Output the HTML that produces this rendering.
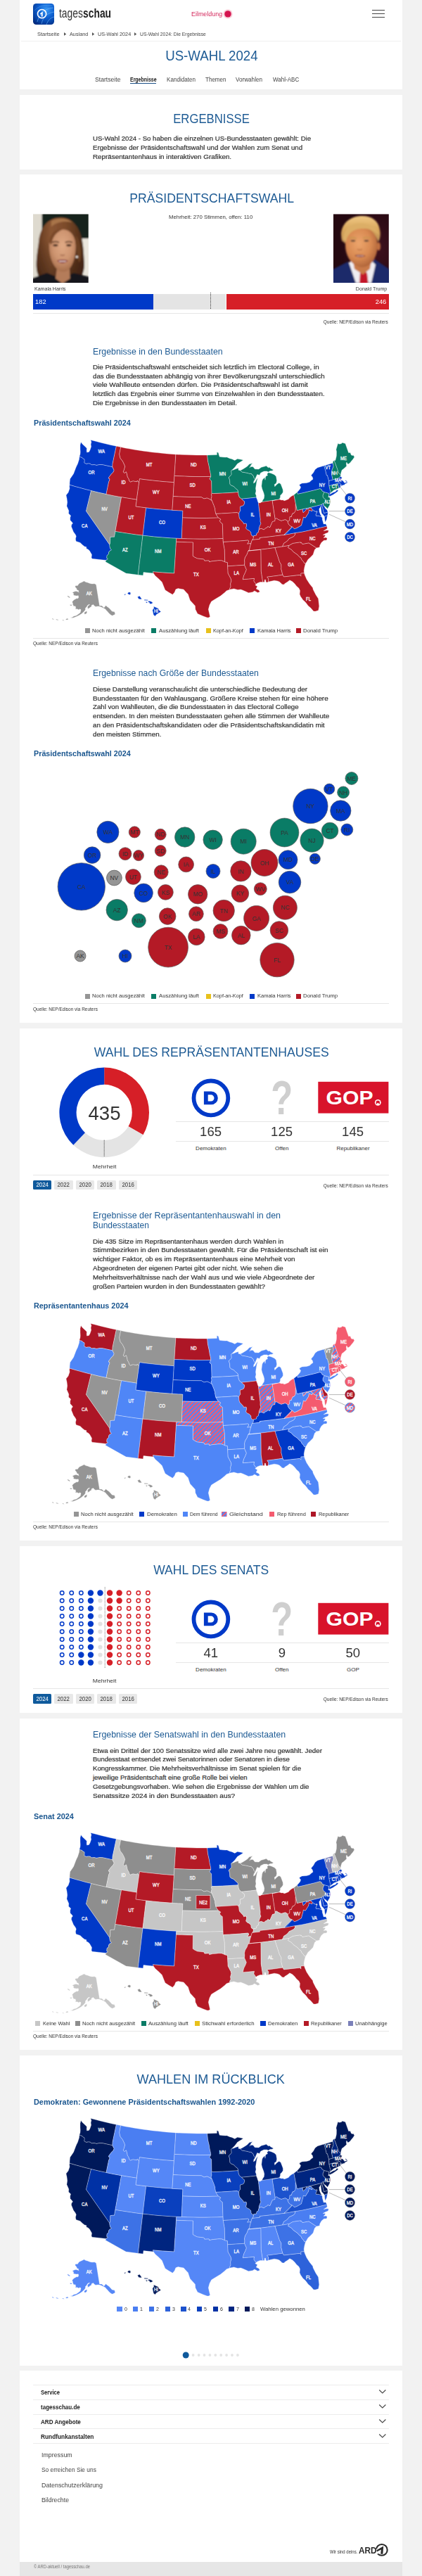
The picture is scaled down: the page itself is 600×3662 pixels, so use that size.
<!DOCTYPE html>
<html lang="de"><head><meta charset="utf-8"><title>US-Wahl 2024: Die Ergebnisse | tagesschau.de</title>
<style>
html,body{margin:0;padding:0}
body{width:600px;height:3662px;position:relative;overflow:hidden;background:#f2f2f2;font-family:"Liberation Sans",sans-serif}
header>*,section>*,footer>*,main>div{position:absolute;display:block}
span{white-space:nowrap}
svg text{font-family:"Liberation Sans",sans-serif}
</style></head><body>
<main>
<div style="left:28px;top:0px;width:544px;height:127.3px;background:#fff;"></div>
<div style="left:28px;top:134.8px;width:544px;height:106px;background:#fff;"></div>
<div style="left:28px;top:248.3px;width:544px;height:1205.7px;background:#fff;"></div>
<div style="left:28px;top:1461.6px;width:544px;height:728.7px;background:#fff;"></div>
<div style="left:28px;top:2197.6px;width:544px;height:237.9px;background:#fff;"></div>
<div style="left:28px;top:2443.4px;width:544px;height:470.6px;background:#fff;"></div>
<div style="left:28px;top:2921.6px;width:544px;height:441.1px;background:#fff;"></div>
<div style="left:28px;top:3370.3px;width:544px;height:271.8px;background:#fff;"></div>
<div style="left:28px;top:3642.1px;width:544px;height:19.9px;background:#e6e6e6;"></div>
<header>
<svg style="left:47.1px;top:4.9px" width="30" height="30" viewBox="0 0 30 30">
<defs><radialGradient id="lg" cx="62%" cy="30%" r="85%"><stop offset="0" stop-color="#3c9bf5"/><stop offset="0.45" stop-color="#0d5fd0"/><stop offset="1" stop-color="#00287a"/></radialGradient></defs>
<rect width="30" height="30" rx="4.6" fill="url(#lg)"/>
<path d="M6 26C9 14 17 7 29 6M12 29C14 19 21 13 30 12M19 30C21 24 25 20 30 19" stroke="#7cc0ff" stroke-width="1" fill="none" opacity=".55"/>
<path d="M2 10C8 3 18 1 28 3" stroke="#7cc0ff" stroke-width=".8" fill="none" opacity=".4"/>
<circle cx="12.6" cy="14.6" r="6.1" fill="none" stroke="#fff" stroke-width="1.7"/>
<path d="M9.900 14.400L13.700 11.300V18.600H11.700V14.600L10.600 15.500Z" fill="#fff"/>
</svg>
<span style="left:83.70px;top:11.00px;font-size:17.5px;line-height:17.5px;color:#333;transform:scaleX(0.7924);transform-origin:0 0;">tages</span>
<span style="left:117.62px;top:11.00px;font-size:17.5px;line-height:17.5px;color:#222;font-weight:700;transform:scaleX(0.7924);transform-origin:0 0;">schau</span>
<span style="left:271.70px;top:16.00px;font-size:9.2px;line-height:9.2px;color:#d4285c;transform:scaleX(0.9711);transform-origin:0 0;">Eilmeldung</span>
<svg style="left:316px;top:12px" width="16" height="16"><circle cx="8" cy="7.9" r="6.6" fill="#f9cdd8"/><circle cx="8" cy="7.9" r="4.7" fill="#d4144f"/></svg>
<div style="left:529px;top:13.75px;width:17.7px;height:1.5px;background:#444;"></div>
<div style="left:529px;top:18.65px;width:17.7px;height:1.5px;background:#444;"></div>
<div style="left:529px;top:23.65px;width:17.7px;height:1.5px;background:#444;"></div>
<span style="left:53.20px;top:45.00px;font-size:7.7px;line-height:7.7px;color:#444;transform:scaleX(0.9715);transform-origin:0 0;">Startseite</span>
<span style="left:98.70px;top:45.00px;font-size:7.7px;line-height:7.7px;color:#444;transform:scaleX(0.9451);transform-origin:0 0;">Ausland</span>
<span style="left:138.50px;top:45.00px;font-size:7.7px;line-height:7.7px;color:#444;transform:scaleX(0.9500);transform-origin:0 0;">US-Wahl 2024</span>
<span style="left:199.00px;top:45.00px;font-size:7.7px;line-height:7.7px;color:#444;transform:scaleX(0.8844);transform-origin:0 0;">US-Wahl 2024: Die Ergebnisse</span>
<svg style="left:90.8px;top:46.4px" width="4" height="5"><path d="M0 0L3.2 2.4L0 4.8Z" fill="#555"/></svg>
<svg style="left:130.5px;top:46.4px" width="4" height="5"><path d="M0 0L3.2 2.4L0 4.8Z" fill="#555"/></svg>
<svg style="left:191px;top:46.4px" width="4" height="5"><path d="M0 0L3.2 2.4L0 4.8Z" fill="#555"/></svg>
<div style="left:30px;top:57.6px;width:540px;height:1px;background:#f0f0f0;"></div>
<span style="left:232.67px;top:70.00px;font-size:19.3px;line-height:19.3px;color:#1e5b94;transform:scaleX(0.9679);transform-origin:50% 0;">US-WAHL 2024</span>
<span style="left:135.40px;top:109.00px;font-size:9.3px;line-height:9.3px;color:#444;transform:scaleX(0.9291);transform-origin:0 0;">Startseite</span>
<span style="left:184.80px;top:109.00px;font-size:9.3px;line-height:9.3px;color:#222;font-weight:700;transform:scaleX(0.7499);transform-origin:0 0;">Ergebnisse</span>
<div style="left:184.8px;top:117.8px;width:37.6px;height:1.7px;background:#1a4f86;"></div>
<span style="left:236.90px;top:109.00px;font-size:9.3px;line-height:9.3px;color:#444;transform:scaleX(0.8712);transform-origin:0 0;">Kandidaten</span>
<span style="left:292.00px;top:109.00px;font-size:9.3px;line-height:9.3px;color:#444;transform:scaleX(0.8646);transform-origin:0 0;">Themen</span>
<span style="left:335.00px;top:109.00px;font-size:9.3px;line-height:9.3px;color:#444;transform:scaleX(0.8749);transform-origin:0 0;">Vorwahlen</span>
<span style="left:387.60px;top:109.00px;font-size:9.3px;line-height:9.3px;color:#444;transform:scaleX(0.8638);transform-origin:0 0;">Wahl-ABC</span>
</header>
<section aria-label="Ergebnisse">
<span style="left:241.68px;top:160.00px;font-size:18px;line-height:18px;color:#1e5b94;transform:scaleX(0.9287);transform-origin:50% 0;">ERGEBNISSE</span>
<span style="left:131.90px;top:192.00px;font-size:9.5px;line-height:9.5px;color:#333;transform:scaleX(1.0118);transform-origin:0 0;-webkit-text-stroke:.22px #333;">US-Wahl 2024 - So haben die einzelnen US-Bundesstaaten gewählt: Die</span>
<span style="left:131.90px;top:205.00px;font-size:9.5px;line-height:9.5px;color:#333;transform:scaleX(1.0202);transform-origin:0 0;-webkit-text-stroke:.22px #333;">Ergebnisse der Präsidentschaftswahl und der Wahlen zum Senat und</span>
<span style="left:131.90px;top:218.00px;font-size:9.5px;line-height:9.5px;color:#333;transform:scaleX(1.0339);transform-origin:0 0;-webkit-text-stroke:.22px #333;">Repräsentantenhaus in interaktiven Grafiken.</span>
</section>
<section aria-label="Präsidentschaftswahl">
<span style="left:181.62px;top:273.00px;font-size:18px;line-height:18px;color:#1e5b94;transform:scaleX(0.9808);transform-origin:50% 0;">PRÄSIDENTSCHAFTSWAHL</span>
<span style="left:241.29px;top:305.00px;font-size:7.7px;line-height:7.7px;color:#333;transform:scaleX(1.0177);transform-origin:50% 0;">Mehrheit: 270 Stimmen, offen: 110</span>
<svg style="left:47.1px;top:303.9px" width="78.7" height="98.4" viewBox="0 0 79 98">
<defs><filter id="b1" x="-10%" y="-10%" width="120%" height="120%"><feGaussianBlur stdDeviation="0.9"/></filter>
<filter id="b1b" x="-20%" y="-20%" width="140%" height="140%"><feGaussianBlur stdDeviation="2.2"/></filter>
<clipPath id="c1"><rect width="79" height="98"/></clipPath>
<radialGradient id="hf" cx="50%" cy="38%" r="60%"><stop offset="0" stop-color="#e0aa85"/><stop offset="0.6" stop-color="#cd9470"/><stop offset="1" stop-color="#a9714f"/></radialGradient>
<linearGradient id="hh" x1="0" y1="0" x2="1" y2="0"><stop offset="0" stop-color="#5e351d"/><stop offset="0.3" stop-color="#8a5633"/><stop offset="0.6" stop-color="#7c4b2b"/><stop offset="1" stop-color="#4a2916"/></linearGradient><linearGradient id="hd" x1="0" y1="0" x2="0" y2="1"><stop offset="0.35" stop-color="#2a140a" stop-opacity="0"/><stop offset="1" stop-color="#2a140a" stop-opacity=".55"/></linearGradient></defs>
<g clip-path="url(#c1)"><rect width="79" height="98" fill="#e6e2d8"/>
<g filter="url(#b1)"><rect x="12.5" y="-3" width="70" height="38" fill="#15221f"/><rect x="-3" y="-3" width="15.5" height="104" fill="#dedacf"/>
<rect x="68" y="35" width="14" height="50" fill="#ebe7de"/>
<path d="M40 5C22 5 10 18 8 40C6 55 4 66 5 78C6 88 10 94 18 97H60C70 92 74 82 73 68C72 52 72 34 64 20C58 10 50 5 40 5Z" fill="url(#hh)"/>
<path d="M40 5C22 5 10 18 8 40C6 55 4 66 5 78C6 88 10 94 18 97H60C70 92 74 82 73 68C72 52 72 34 64 20C58 10 50 5 40 5Z" fill="url(#hd)"/><path d="M26 10C34 5 48 5 56 12C46 9 34 11 26 18Z" fill="#a8744a"/>
<path d="M-3 101V92L20 84L40 92L58 84L82 90V101Z" fill="#16161c"/>
<path d="M34 78H52L53 92L42 99L32 92Z" fill="#b47c5a"/>
<path d="M42 22C30 22 23 32 23 46C23 60 28 74 36 80C40 83 46 83 50 80C57 74 61 60 61 46C61 32 54 22 42 22Z" fill="url(#hf)"/>
<path d="M23 40C24 28 32 20 44 21C36 24 28 30 26 44Z" fill="#7a4a2b"/>
<path d="M60 36C62 46 62 58 66 70C70 62 70 44 62 30Z" fill="#6b3f24"/>
<path d="M27 40.5Q32 38 37 40.5" stroke="#4b2d1d" stroke-width="1.5" fill="none"/><path d="M46 40.5Q51 38 56 40.5" stroke="#4b2d1d" stroke-width="1.5" fill="none"/>
<ellipse cx="32" cy="44.5" rx="3.6" ry="1.5" fill="#3c2418"/><ellipse cx="51" cy="44.5" rx="3.6" ry="1.5" fill="#3c2418"/>
<path d="M39 58Q42 60 45 58" stroke="#9a6248" stroke-width="1.3" fill="none"/>
<path d="M34 66.3Q42 63.500 50 66.300Q42 74 34 66.300Z" fill="#8a3840"/><path d="M37 66.8H47V68H37Z" fill="#f0e2dc"/>
<circle cx="62.5" cy="61" r="1.6" fill="#f4f0ea"/></g></g></svg>
<svg style="left:473.8px;top:303.9px" width="78.9" height="98.4" viewBox="0 0 79 98">
<defs><filter id="b2" x="-10%" y="-10%" width="120%" height="120%"><feGaussianBlur stdDeviation="0.9"/></filter>
<clipPath id="c2"><rect width="79" height="98"/></clipPath>
<radialGradient id="tf" cx="42%" cy="40%" r="62%"><stop offset="0" stop-color="#eca56c"/><stop offset="0.6" stop-color="#d98a52"/><stop offset="1" stop-color="#b0653a"/></radialGradient>
<linearGradient id="th" x1="0" y1="0" x2="0" y2="1"><stop offset="0" stop-color="#efc884"/><stop offset="0.5" stop-color="#d9a75c"/><stop offset="1" stop-color="#b48a55"/></linearGradient>
<radialGradient id="tb" cx="80%" cy="50%" r="70%"><stop offset="0" stop-color="#3d101d"/><stop offset="1" stop-color="#240810"/></radialGradient></defs>
<g clip-path="url(#c2)"><rect width="79" height="98" fill="url(#tb)"/>
<g filter="url(#b2)">
<path d="M-3 101V80L20 68L40 76L58 64L82 80V101Z" fill="#1d2a6b"/>
<path d="M22 69L32 98H54L60 72L52 64H30Z" fill="#efedf2"/>
<path d="M38 84L43 80L48 84L50 101H37Z" fill="#c3172a"/>
<path d="M28 66H54L52 78L42 86L30 78Z" fill="#c97a48"/>
<path d="M12 38C8 22 16 6 36 3C52 1 64 8 66 22C68 30 66 36 64 40C60 28 52 22 40 22C28 22 20 28 17 42Z" fill="url(#th)"/>
<path d="M40 19C26 19 17 30 17 44C17 58 24 70 34 74C38 76 44 76 48 74C57 70 63 58 63 44C63 30 54 19 40 19Z" fill="url(#tf)"/>
<path d="M14 36C14 22 24 12 40 13C52 14 62 18 65 30C58 22 48 20 38 21C28 22 20 28 18 40Z" fill="#dcae66"/>
<ellipse cx="64.5" cy="46" rx="2.6" ry="6" fill="#c0703f"/>
<path d="M22 34.5Q28 32 33 35" stroke="#c79650" stroke-width="1.6" fill="none"/><path d="M42 34.5Q47 32 53 34.5" stroke="#c79650" stroke-width="1.6" fill="none"/>
<ellipse cx="28" cy="38" rx="3.4" ry="1.3" fill="#5d4638"/><ellipse cx="47" cy="38" rx="3.4" ry="1.3" fill="#5d4638"/>
<path d="M34 50Q37.500 52 41 50" stroke="#b56a3c" stroke-width="1.3" fill="none"/>
<path d="M30 59Q38 56.500 46 59.500Q38 64 30 59Z" fill="#83342e"/><path d="M33 59.200H43V60.200H33Z" fill="#eadcd4"/>
</g></g></svg>
<span style="left:49.40px;top:407.00px;font-size:8px;line-height:8px;color:#333;transform:scaleX(0.8800);transform-origin:0 0;">Kamala Harris</span>
<span style="left:500.15px;top:407.00px;font-size:8px;line-height:8px;color:#333;transform:scaleX(0.8836);transform-origin:100% 0;">Donald Trump</span>
<div style="left:47.1px;top:418px;width:171.1px;height:21.5px;background:#0039c8;"></div>
<div style="left:218.2px;top:418px;width:103.3px;height:21.5px;background:#e4e4e4;"></div>
<div style="left:321.5px;top:418px;width:231.2px;height:21.5px;background:#d61f27;"></div>
<div style="left:299.2px;top:415.6px;width:1px;height:24.4px;background:transparent;background-image:repeating-linear-gradient(#333 0 1px,transparent 1px 2px)"></div>
<span style="left:50.00px;top:425.00px;font-size:9.2px;line-height:9.2px;color:#fff;transform:scaleX(1.0163);transform-origin:0 0;">182</span>
<span style="left:534.15px;top:425.00px;font-size:9.2px;line-height:9.2px;color:#fff;transform:scaleX(1.0228);transform-origin:100% 0;">246</span>
<div style="left:47px;top:444.5px;width:505.5px;height:1px;background:#e6e6e6;"></div>
<span style="left:454.20px;top:455.00px;font-size:6.9px;line-height:6.9px;color:#333;transform:scaleX(0.9407);transform-origin:100% 0;">Quelle: NEP/Edison via Reuters</span>
<span style="left:132.30px;top:494.00px;font-size:12.6px;line-height:12.6px;color:#1e5b94;transform:scaleX(0.9802);transform-origin:0 0;">Ergebnisse in den Bundesstaaten</span>
<span style="left:131.90px;top:517.00px;font-size:9.5px;line-height:9.5px;color:#333;transform:scaleX(1.0323);transform-origin:0 0;-webkit-text-stroke:.22px #333;">Die Präsidentschaftswahl entscheidet sich letztlich im Electoral College, in</span>
<span style="left:131.90px;top:530.00px;font-size:9.5px;line-height:9.5px;color:#333;transform:scaleX(1.0248);transform-origin:0 0;-webkit-text-stroke:.22px #333;">das die Bundesstaaten abhängig von ihrer Bevölkerungszahl unterschiedlich</span>
<span style="left:131.90px;top:542.00px;font-size:9.5px;line-height:9.5px;color:#333;transform:scaleX(1.0526);transform-origin:0 0;-webkit-text-stroke:.22px #333;">viele Wahlleute entsenden dürfen. Die Präsidentschaftswahl ist damit</span>
<span style="left:131.90px;top:555.00px;font-size:9.5px;line-height:9.5px;color:#333;transform:scaleX(1.0215);transform-origin:0 0;-webkit-text-stroke:.22px #333;">letztlich das Ergebnis einer Summe von Einzelwahlen in den Bundesstaaten.</span>
<span style="left:131.90px;top:568.00px;font-size:9.5px;line-height:9.5px;color:#333;transform:scaleX(1.0189);transform-origin:0 0;-webkit-text-stroke:.22px #333;">Die Ergebnisse in den Bundesstaaten im Detail.</span>
<span style="left:48.30px;top:596.00px;font-size:11px;line-height:11px;color:#1a568f;font-weight:700;transform:scaleX(0.9792);transform-origin:0 0;">Präsidentschaftswahl 2024</span>
<svg style="left:0;top:600px" width="600" height="300" viewBox="0 600 600 300"><g stroke="rgba(255,255,255,.68)" stroke-width="0.5" stroke-linejoin="round"><path d="M165.4,634.3L158,632.7L150.7,631L143.3,629.2L136,627.3L128.8,625.4L129.9,628.3L129.1,631.7L129.6,635L128,639.7L126.5,642.4L123.5,643.1L123.2,640.4L123.4,637.2L121,634.8L117.4,631.5L115.1,628.5L114,632.5L114,638.3L114.2,642.5L114,645.5L112.8,649.4L116.5,650.4L118.2,652L120,653L120,655.6L119.7,657.6L120.3,658.2L122.6,659.4L125.6,658.9L128.4,659.2L130.1,660.9L134.1,660.6L137.2,661.4L141.7,660.5L145.9,660.7L159.9,663.8L160,659.6Z" fill="#0039c8"/><path d="M112.8,649.4L116.5,650.4L118.2,652L120,653L120,655.6L119.7,657.6L120.3,658.2L122.6,659.4L125.6,658.9L128.4,659.2L130.1,660.9L134.1,660.6L137.2,661.4L141.7,660.5L145.9,660.7L159.9,663.8L161,666.1L162.2,668.4L161,671.2L158.2,674.1L154.8,678.5L154.3,679.9L156,680.8L155.7,682.9L154.7,684.8L151,702.5L140.3,700.2L129.6,697.6L121.9,695.7L114.2,693.6L106.5,691.5L98.9,689.2L99.1,685.2L99.6,680.8L101.2,678.5L102.9,676L104.6,673.4L107.8,665L109,662.2L110.4,659.5L112.5,652.9Z" fill="#0039c8"/><path d="M98.9,689.2L106.5,691.5L114.2,693.6L121.9,695.7L129.6,697.6L122.5,726.5L155.8,774.2L155.9,776.2L156.8,779.9L158.5,781.7L155.7,783.5L154.6,785.1L154.4,787.6L152.1,789.7L151.8,793.4L153.4,794.5L150.9,796.4L130.8,794.3L130,792.4L130.5,788.4L127.4,783.1L125.3,781L122.9,780.1L122.7,777.5L120.3,776.9L117.4,774.7L114,771.4L108,769.4L107.4,766.1L108.3,762.2L107.1,759.7L104.4,756.1L101.4,748.6L101.8,745.7L103.5,744.1L102.3,742.2L99.8,739.5L99.7,735.9L100.6,733L97.5,730.1L97.8,726.1L94.9,719.5L95.7,714.1L95,708.4L94,703.9L97.1,700.1L99,694.4L98.7,691.5Z" fill="#0039c8"/><path d="M129.6,697.6L140.3,700.2L151,702.5L161.7,704.7L172.6,706.7L163.9,755.5L162.6,763.3L159.6,763.3L156.8,763.7L156.7,768.3L156.5,772.8L155.8,774.2L122.5,726.5Z" fill="#959595"/><path d="M165.4,634.3L171.7,635.6L169.7,645.5L171,651.3L174.3,655.5L175.3,657.4L176.9,660.8L177.7,663.2L176.7,667.1L175.3,670.9L176.8,672.4L179.5,670.7L180.2,672.8L181.4,678.3L182.8,680.2L184.1,684L185.3,685.1L189.1,683.7L194.7,684.7L195.1,683.1L197.7,685.9L194.3,710.2L183.4,708.5L172.6,706.7L161.7,704.7L151,702.5L154.7,684.8L155.7,682.9L156,680.8L154.3,679.9L154.8,678.5L158.2,674.1L161,671.2L162.2,668.4L161,666.1L159.9,663.8L160,659.6Z" fill="#b41a26"/><path d="M171.7,635.6L178.1,636.9L184.6,638.1L191.1,639.2L197.6,640.2L204.1,641.2L210.6,642.1L217.1,642.9L223.7,643.6L230.2,644.3L236.8,644.9L243.3,645.4L249.9,645.9L248,676.4L247.4,685.7L240.4,685.2L233.4,684.7L226.4,684L219.4,683.3L212.4,682.5L205.4,681.7L198.5,680.7L197.7,685.9L195.1,683.1L194.7,684.7L189.1,683.7L185.3,685.1L184.1,684L182.8,680.2L181.4,678.3L180.2,672.8L179.5,670.7L176.8,672.4L175.3,670.9L176.7,667.1L177.7,663.2L176.9,660.8L175.3,657.4L174.3,655.5L171,651.3L169.7,645.5Z" fill="#b41a26"/><path d="M197.7,685.9L198.5,680.7L205.4,681.7L212.4,682.5L219.4,683.3L226.4,684L233.4,684.7L240.4,685.2L247.4,685.7L246.2,705.5L244.9,725.3L237.5,724.8L230,724.2L222.6,723.5L215.1,722.8L207.7,721.9L200.3,721L192.9,720L194.3,710.2Z" fill="#b41a26"/><path d="M172.6,706.7L183.4,708.5L194.3,710.2L192.9,720L200.3,721L207.7,721.9L203,761.2L193.2,760L183.4,758.6L173.7,757.1L163.9,755.5Z" fill="#b41a26"/><path d="M207.7,721.9L215.1,722.8L222.6,723.5L230,724.2L237.5,724.8L244.9,725.3L252.4,725.7L259.9,726.1L259.5,735.9L258.3,765.6L250.8,765.3L242.8,764.9L234.8,764.3L226.9,763.7L218.9,763L211,762.1L203,761.2Z" fill="#0039c8"/><path d="M163.9,755.5L173.7,757.1L183.4,758.6L193.2,760L203,761.2L196.3,817.3L179.2,815.1L149.8,798.5L150.9,796.4L153.4,794.5L151.8,793.4L152.1,789.7L154.4,787.6L154.6,785.1L155.7,783.5L158.5,781.7L156.8,779.9L155.9,776.2L155.8,774.2L156.5,772.8L156.7,768.3L156.8,763.7L159.6,763.3L162.6,763.3Z" fill="#0a7c66"/><path d="M203,761.2L211,762.1L218.9,763L226.9,763.7L234.8,764.3L242.8,764.9L250.8,765.3L250.5,770.3L247.7,815L237.7,814.4L227.6,813.7L217.6,812.8L218.2,815.1L204,813.6L203.5,818.1L196.3,817.3Z" fill="#0a7c66"/><path d="M249.9,645.9L257.4,646.3L264.8,646.6L272.3,646.8L279.8,647L287.3,647L294.7,647L295.5,655L296.1,657.9L297.5,663.9L298.1,668.2L299.5,674.2L299.8,677.4L292.4,677.5L285,677.6L277.6,677.5L270.2,677.4L262.8,677.1L255.4,676.8L248,676.4Z" fill="#b41a26"/><path d="M248,676.4L255.4,676.8L262.8,677.1L270.2,677.4L277.6,677.5L285,677.6L292.4,677.5L299.8,677.4L298.9,679.3L297.9,680.9L300.7,683.8L301.1,701.6L300.4,702.7L300.7,703.6L301.1,706.1L300.1,709.1L301.4,711.7L299.5,710.6L297.3,709.2L294.4,708L290,709L286.4,706.8L278.3,706.7L270.3,706.6L262.2,706.3L254.2,706L246.2,705.5L247.4,685.7Z" fill="#b41a26"/><path d="M246.2,705.5L254.2,706L262.2,706.3L270.3,706.6L278.3,706.7L286.4,706.8L290,709L294.4,708L297.3,709.2L299.5,710.6L301.4,711.7L302.5,714.5L304.1,718.4L305.1,721.4L305.9,723.3L305.6,724.1L306.2,727.3L306.9,730.4L308.7,733.6L310.6,736.1L302,736.3L293.5,736.5L285,736.5L276.5,736.4L268,736.2L259.5,735.9L259.9,726.1L252.4,725.7L244.9,725.3Z" fill="#b41a26"/><path d="M259.5,735.9L268,736.2L276.5,736.4L285,736.5L293.5,736.5L302,736.3L310.6,736.1L313,737.5L313.9,738.2L312.3,740.4L314,742.9L316.3,744.6L317.1,765.5L308.7,765.9L300.3,766.1L291.9,766.2L283.5,766.2L275.1,766.1L266.7,765.9L258.3,765.6Z" fill="#b41a26"/><path d="M250.8,765.3L258.3,765.6L266.7,765.9L275.1,766.1L283.5,766.2L291.9,766.2L300.3,766.1L308.7,765.9L317.1,765.5L317.3,770.5L319.3,781.3L319.7,798.8L315.3,796.9L311.2,796.8L307,797.2L302.5,797.6L297.6,798.7L297.1,796.9L290.9,797.2L289.7,795L285.5,794.5L280.6,794L276.5,792L274.1,790.3L274.4,771.1L266.4,770.9L258.5,770.6L250.5,770.3Z" fill="#b41a26"/><path d="M250.5,770.3L258.5,770.6L266.4,770.9L274.4,771.1L274.1,790.3L276.5,792L280.6,794L285.5,794.5L289.7,795L290.9,797.2L297.1,796.9L297.6,798.7L302.5,797.6L307,797.2L311.2,796.8L315.3,796.9L319.7,798.8L323.4,799.6L323.7,804.8L324.2,815.1L326,818.4L328.3,822.8L328.9,825.8L327.7,829.9L328.1,833.9L326.5,837L327.1,838.1L322.2,839.7L319.3,842.4L313.7,847.1L305.5,851.9L300.6,855L298,860.1L296.3,866.2L298.7,876.8L296.5,878L294.6,878L289.1,876L280.9,872.4L277.8,866.3L277.4,861.2L270.3,853.5L268.7,848.9L267.4,844.8L264.9,842.2L261.1,837.9L253.2,836.6L249.9,837.8L248.2,842.1L245.4,845.3L239.8,842L234.8,838.8L232.5,833.1L230.3,827.4L225.5,822.7L220.7,818.6L218.2,815.1L217.6,812.8L227.6,813.7L237.7,814.4L247.7,815Z" fill="#b41a26"/><path d="M330.1,667.9L333.9,664.2L337.6,659.3L343.3,655.8L345.8,654.1L343.1,653.3L337.6,652.3L333.8,654.4L329.6,652.4L326.6,651.7L322.8,649.9L320.1,650.1L316.1,649.8L312.2,649.3L311.4,647L310.5,643.5L308.3,642.8L308.4,646.6L294.7,647L295.5,655L296.1,657.9L297.5,663.9L298.1,668.2L299.5,674.2L299.8,677.4L298.9,679.3L297.9,680.9L300.7,683.8L301.1,701.6L308.6,701.4L316.2,701.1L323.7,700.7L331.2,700.2L338.7,699.7L338.1,696.7L335.2,694.5L332.3,691.4L328.4,689.8L326.9,688.1L326.6,682.6L325.3,678.7L329.2,674.5L328.8,668.9Z" fill="#0a7c66"/><path d="M301.1,701.6L308.6,701.4L316.2,701.1L323.7,700.7L331.2,700.2L338.7,699.7L339.2,703.6L340.5,707L343.7,709.2L345.7,711.5L347.6,712.8L347.7,715.3L346.7,717.9L345.3,719L341.6,720.1L341.4,722.3L341.8,726.3L340.2,728.1L339.7,730.6L337.2,728.6L329.6,729.1L322.1,729.6L314.5,730L306.9,730.4L306.2,727.3L305.6,724.1L305.9,723.3L305.1,721.4L304.1,718.4L302.5,714.5L301.4,711.7L300.1,709.1L301.1,706.1L300.7,703.6L300.4,702.7Z" fill="#b41a26"/><path d="M306.9,730.4L314.5,730L322.1,729.6L329.6,729.1L337.2,728.6L339.7,730.6L340.1,735L340.8,737.3L343.3,740L345.9,742.8L346.8,744.7L348.4,743.9L350.4,744.6L350.7,747L349.7,750.9L351.9,753.2L354.1,754L356.9,756.7L357.1,759.7L358.2,761.5L360.5,762.5L360.2,765.3L358.7,767.5L357.8,769.1L356.9,772.6L351.5,773.2L353.7,770L352.9,768L344,768.8L335.1,769.5L326.2,770L317.3,770.5L317.1,765.5L316.3,744.6L314,742.9L312.3,740.4L313.9,738.2L313,737.5L310.6,736.1L308.7,733.6Z" fill="#b41a26"/><path d="M317.3,770.5L326.2,770L335.1,769.5L344,768.8L352.9,768L353.7,770L351.5,773.2L356.9,772.6L355.4,777.3L354.7,781.5L353,783L351.2,788.1L348.5,792.4L347.6,796.4L347.9,799.4L347.6,803.3L335.6,804.1L323.7,804.8L323.4,799.6L319.7,798.8L319.3,781.3Z" fill="#b41a26"/><path d="M323.7,804.8L335.6,804.1L347.6,803.3L350.4,809.7L349,813.4L346.7,818.1L345.3,823.7L361.6,822.3L360.9,825.9L363.2,829.2L364.2,830.3L362.8,831.7L366,833.4L364.2,837.1L367.9,838.8L369.5,841.2L366.5,842.5L361.8,839.9L359.3,841.7L353.3,842.7L349.6,841L345,839L342.3,838L338,838.5L332.6,836.9L327.1,838.1L326.5,837L328.1,833.9L327.7,829.9L328.9,825.8L328.3,822.8L326,818.4L324.2,815.1Z" fill="#b41a26"/><path d="M330.1,667.9L328.8,668.9L329.2,674.5L325.3,678.7L326.6,682.6L326.9,688.1L328.4,689.8L332.3,691.4L335.2,694.5L338.1,696.7L338.7,699.7L339.2,703.6L340.5,707L343.7,709.2L354,708.2L364.4,707L364.3,704.6L363.1,701.7L364,698.1L363.5,694.2L364.3,689.1L365.1,684L366.6,679.2L364.5,682L362.5,685.8L360.5,687L360.9,684L362.7,681.4L362.2,681.3L362,680.3L361,679L360.4,677L359.1,674.9L358.2,674.8L357.5,673.4L354.7,673.2L351.1,672.2L344.1,671L341.7,668.8L339,668.2L339.1,665.5L336.1,666.3L330.6,668.4Z" fill="#0a7c66"/><path d="M343.7,709.2L354,708.2L364.4,707L365.9,710.8L366.6,713.3L367.4,714.7L370.2,737.8L370,741.3L371,744.3L369.6,747.1L368.4,750.4L368.2,753.5L367.5,754.5L367.4,756.8L365.1,758.1L364.5,761.1L360.6,761.8L360.5,762.5L358.2,761.5L357.1,759.7L356.9,756.7L354.1,754L351.9,753.2L349.7,750.9L350.7,747L350.4,744.6L348.4,743.9L346.8,744.7L345.9,742.8L343.3,740L340.8,737.3L340.1,735L339.7,730.6L340.2,728.1L341.8,726.3L341.4,722.3L341.6,720.1L345.3,719L346.7,717.9L347.7,715.3L347.6,712.8L345.7,711.5Z" fill="#0039c8"/><path d="M367.4,714.7L369.8,715L372.4,713.4L379.8,712.4L387.1,711.3L387.2,711.9L391.1,737.3L391,740.6L387.4,741.6L385.2,746.5L384,749.4L382.3,749.6L381.1,748.3L379.8,750L377.8,750.8L375.3,752.9L371.5,751.4L369,752.1L368.2,753.5L368.4,750.4L369.6,747.1L371,744.3L370,741.3L370.2,737.8Z" fill="#b41a26"/><path d="M397.1,710L398.5,707L398.7,704L400.3,702.7L402.4,699.8L402.3,696.3L400.5,691.6L399.2,688.1L396.7,686.5L393.8,688.4L390.7,691.8L390.2,688.8L392.8,686.9L393.6,683.2L392.6,677.3L390,674.7L385.4,672.7L381.6,671.8L379.6,673.9L380.6,675.8L378.3,676.7L377.5,678.2L377,682.3L376.4,678.4L373.4,681.8L372.6,684L371.8,691.1L372.7,695L374.9,700.7L375.8,704.5L375.3,708.6L373.7,710.8L372.4,713.4L379.8,712.4L387.1,711.3L397.1,710L387.2,711.9ZM362.7,681.4L364.3,677.5L365.7,674.4L369,675.4L370.6,672.2L375.2,670L379.4,669.9L381.5,670.9L383.9,669.5L387,669.2L388.8,667.9L385,666L383,664.3L381.4,664.8L378.6,662.3L376.3,663.1L371.6,664.3L367.8,667L362.3,666.8L359.8,663.6L356.4,663.5L354.8,665.1L357.4,660.3L359.2,658.6L354.5,659.7L351.5,663L347.7,665.4L344.4,667.4L341.7,668.8L344.1,671L351.1,672.2L354.7,673.2L357.5,673.4L358.2,674.8L359.1,674.9L360.4,677L361,679L362,680.3L362.2,681.3Z" fill="#0a7c66"/><path d="M387.2,711.9L397.1,710L400.6,710.9L402.7,710.7L403.6,711.7L405.3,711.5L410.2,709.5L412,707.3L414.6,705.3L417.9,703.5L420.5,716.5L420.2,716.7L420.3,719.3L420.2,722.4L420.3,723.9L420,726.7L417.9,729.6L416,729.8L415.4,731.4L414.6,733.3L414.4,734.7L413.8,734.7L413,734.4L412,734.8L411.9,736.1L411.9,736.8L411.8,738.8L411.3,739.9L410.3,740.9L409.1,741.3L408.3,740.2L405.5,738.7L399.9,740.4L395.7,738.6L393.5,737L391.1,737.3Z" fill="#b41a26"/><path d="M360.5,762.5L360.6,761.8L364.5,761.1L365.1,758.1L367.4,756.8L367.5,754.5L368.2,753.5L369,752.1L371.5,751.4L375.3,752.9L377.8,750.8L379.8,750L381.1,748.3L382.3,749.6L384,749.4L385.2,746.5L387.4,741.6L391,740.6L391.1,737.3L393.5,737L395.7,738.6L399.9,740.4L405.5,738.7L408.3,740.2L409.1,741.3L409.5,743.3L410.7,745.6L412.7,747.7L415.5,748.8L413.4,751.6L410.7,754.6L407.7,758.2L403.8,760.4L381.6,763.2L369.2,764.5L369.4,766.3L358.7,767.5L360.2,765.3Z" fill="#b41a26"/><path d="M403.8,760.4L381.6,763.2L369.2,764.5L369.4,766.3L358.7,767.5L357.8,769.1L356.9,772.6L355.4,777.3L354.7,781.5L353,783L361.6,782.2L370.1,781.3L380.5,780L391,778.6L401.4,777L403.1,773.9L403.3,772.5L407,770.2L409.1,768.5L411.1,765.7L413.4,764.7L417.5,762.8L419.6,760.1L419.5,757.6L411.7,759Z" fill="#b41a26"/><path d="M370.1,781.3L361.6,782.2L353,783L370.1,781.3L371,782.1L371.2,802.1L371.3,812.2L373.7,827.5L369.8,827.5L366,828.9L364.2,830.3L363.2,829.2L360.9,825.9L361.6,822.3L345.3,823.7L346.7,818.1L349,813.4L350.4,809.7L347.6,803.3L347.9,799.4L347.6,796.4L348.5,792.4L351.2,788.1L353,783Z" fill="#b41a26"/><path d="M391,778.6L380.5,780L370.1,781.3L371,782.1L371.2,802.1L371.3,812.2L373.7,827.5L376.1,827.6L376.3,824.2L377.5,824.1L378,827L379.4,828.1L381.3,827.3L381.7,825.6L381.9,823L379.8,820.2L390.8,818.8L401.9,817.2L400.7,812.3L399.7,808.4L400,807.4L399.8,802.6L397.6,798.9Z" fill="#b41a26"/><path d="M401.4,777L391,778.6L397.6,798.9L399.8,802.6L400,807.4L399.7,808.4L400.7,812.3L401.9,817.2L403.5,820L426.3,817.4L428,819.2L427.9,815L432.5,814.8L432.2,810.9L433,806.2L434,802.4L434.7,800.8L432.8,800.8L431.4,798.3L429.3,796.2L427.8,792.9L425.9,791.8L423,788.6L420.8,787L416.9,784.3L414.3,781.2L409.6,778.5L411.1,775.3Z" fill="#b41a26"/><path d="M401.9,817.2L390.8,818.8L379.8,820.2L381.9,823L381.7,825.6L381.3,827.3L384,826.5L390,825.2L394.5,825.9L397.2,827L400.3,829.8L400.9,830.8L404,831.1L404.7,829.8L409.1,827L411.9,824.8L415.7,826.7L418.9,829.7L421.4,833.1L425,836.3L426.5,839.6L426,844.8L427.5,848.2L428.8,850L430.6,852.8L434,855.7L435.8,858L438.2,861.2L441.6,864.1L445.9,869L448.7,869L452.7,867.7L453.8,861.7L452.6,851L449,845.5L445.2,838.1L444.7,835.6L440.4,830.3L436,823.5L433.5,817.8L432.5,814.8L427.9,815L428,819.2L426.3,817.4L403.5,820Z" fill="#b41a26"/><path d="M411.1,775.3L416.4,772.3L427.3,770.7L427.5,771.7L428.3,771L430,773.5L439,771.8L450,779L447.5,781.2L446.2,785L445.2,788.3L441.4,792.2L437.8,795.5L436.2,798.4L434.7,800.8L432.8,800.8L431.4,798.3L429.3,796.2L427.8,792.9L425.9,791.8L423,788.6L420.8,787L416.9,784.3L414.3,781.2L409.6,778.5Z" fill="#b41a26"/><path d="M419.5,757.6L428.7,756.2L437.8,754.3L446.8,752.3L455.8,750.1L464.8,747.9L465.3,751.3L464,752.2L460.1,754.7L464.8,753.8L467.3,753.9L466.5,757.1L462.7,758.6L459,760.6L462.4,760.5L462.4,762.1L460,764.4L463.3,764.1L465.2,765.2L464.4,767.9L460.5,768.2L457,771.3L454.7,775.4L454.4,777.9L450,779L439,771.8L430,773.5L428.3,771L427.5,771.7L427.3,770.7L416.4,772.3L411.1,775.3L401.4,777L403.1,773.9L403.3,772.5L407,770.2L409.1,768.5L411.1,765.7L413.4,764.7L417.5,762.8L419.6,760.1Z" fill="#b41a26"/><path d="M415.5,748.8L413.4,751.6L410.7,754.6L407.7,758.2L403.8,760.4L415.5,748.8L418.4,751.7L421.8,750.6L424.6,749.1L428.5,746.7L428.8,745.3L429.8,741.3L430.7,738.4L431.2,735.1L434.2,736.1L434.8,735.2L436.7,732L438.6,729.2L439.2,725L443.7,726.7L444.1,724.7L445.6,724.9L446.6,726.4L448.4,727L449.5,727.4L450.4,728.6L449.7,730.7L449.1,731.7L449.5,733.3L451.9,733.2L455.3,733.9L458.2,735.8L458.3,738.8L459.2,741.6L460.1,745L463.1,744.7L464.8,747.9L455.8,750.1L446.8,752.3L437.8,754.3L428.7,756.2L419.5,757.6L411.7,759L403.8,760.4ZM461.4,734.4L461.8,738.9L462.3,742.4L464.5,738.2L465.3,733.9L465.8,732.4L462.8,733.5Z" fill="#0039c8"/><path d="M409.1,741.3L410.3,740.9L411.3,739.9L411.8,738.8L411.9,736.8L411.9,736.1L412,734.8L413,734.4L413.8,734.7L414.4,734.7L414.6,733.3L415.4,731.4L416,729.8L417.9,729.6L420,726.7L420.3,723.9L420.2,722.4L420.3,719.3L420.2,716.7L420.5,716.5L422.4,725.5L430.1,723.8L431.1,728.9L432.4,727.6L434.5,725.7L435.6,723.3L438.1,724L438.4,723L439.8,721.9L442.7,722.2L444.1,724.7L443.7,726.7L439.2,725L438.6,729.2L436.7,732L434.8,735.2L434.2,736.1L431.2,735.1L430.7,738.4L429.8,741.3L428.8,745.3L428.5,746.7L424.6,749.1L421.8,750.6L418.4,751.7L415.5,748.8L412.7,747.7L410.7,745.6L409.5,743.3Z" fill="#b41a26"/><path d="M444.1,724.7L442.7,722.2L439.8,721.9L438.4,723L438.1,724L435.6,723.3L434.5,725.7L432.4,727.6L431.1,728.9L430.1,723.8L439.3,721.8L448.4,719.6L457.5,717.3L460.6,729.5L466.2,728L466.2,729L465.8,732.4L462.8,733.5L461.4,734.4L459.8,732.2L457.3,729.8L456.8,726.9L456.2,722.9L456.3,719.3L455.6,721.1L453.8,723.5L454,725.6L454.1,727.6L456,732.2L457.7,734.4L455.3,733.9L451.9,733.2L449.5,733.3L449.1,731.7L449.7,730.7L450.4,728.6L451.2,727.4L449.9,726.6L449.5,727.4L448.4,727L446.6,726.4L445.6,724.9Z" fill="#0039c8"/><path d="M450.4,728.6L449.5,727.4L449.9,726.6L451.2,727.4Z" fill="#0039c8"/><path d="M457.5,717.3L457.9,716.4L458.7,715.7L460,715.8L459.5,718L461.4,720.6L462.9,723.2L465,724.7L466.2,728L460.6,729.5Z" fill="#0039c8"/><path d="M422.8,699.6L420.6,701.3L417.9,703.5L420.5,716.5L422.4,725.5L430.1,723.8L439.3,721.8L448.4,719.6L457.5,717.3L457.9,716.4L458.7,715.7L460,715.8L461.8,714.3L464,711.2L463.7,710.7L462,709.5L459.3,706.9L459.1,704.1L460.2,701.4L461.2,699.5L458,697.9L457.4,696L454.9,694.6L447,696.7L439.1,698.6L431.2,700.5L423.3,702.2Z" fill="#0a7c66"/><path d="M460,715.8L461.8,714.3L464,711.2L463.7,710.7L462,709.5L459.3,706.9L459.1,704.1L460.2,701.4L461.2,699.5L467.9,701.4L467.6,704.5L466.7,706.8L468.6,706.8L469.3,709.2L469.8,713.6L468.7,718.1L465.7,723.2L463,720.6L460.1,718.8Z" fill="#0a7c66"/><path d="M460.8,662L451.6,664.7L448,667.4L445.5,672L442.7,675.3L442.6,676.3L444.2,678L445,681.3L443.1,682.6L440.1,685.3L435.9,686.5L429.3,687L425.7,688.9L426.1,690.5L427.6,692.2L426.7,694.9L422.8,699.6L423.3,702.2L431.2,700.5L439.1,698.6L447,696.7L454.9,694.6L457.4,696L458,697.9L461.2,699.5L467.9,701.4L467.8,704.4L468,705.4L469,705.4L473.2,703.6L479.1,699.6L482.3,696.3L480.8,697.5L479.2,696.3L476.9,698.9L473.7,700L469.7,702.2L469.1,703L469.6,700.9L468.8,700L470.3,698.5L469.6,697.8L467.9,690.5L467.6,683.4L465.5,675.7L464.3,675.6L463,669.7Z" fill="#0039c8"/><path d="M469.6,700.9L468.8,700L470.3,698.5L469.6,697.8L467.9,690.5L479.9,687.2L481.2,691.2L481.6,694L478.2,695.5L474.4,696.9L473.2,698.3L472.6,698.7Z" fill="#0a7c66"/><path d="M481.6,694L481.2,691.2L479.9,687.2L482.9,686.3L483.6,687.3L485.1,688.9L486.3,690.6L485.4,690.9L483.5,688.9L484.4,691.7L484,692.8Z" fill="#0039c8"/><path d="M467.9,690.5L467.6,683.4L473.3,681.9L481.4,679.7L482,679.1L484.2,677L484.7,678.1L486.4,678.6L485,681.2L484.7,682.8L487.1,683.1L488.9,685.1L489.8,686.6L493.3,685.4L492.2,684.5L490.6,683.1L491.7,682.8L493.3,684.2L494,686.3L490.6,688L489.5,689.4L487.3,689.8L486.3,690.6L485.1,688.9L483.6,687.3L482.9,686.3L479.9,687.2Z" fill="#0039c8"/><path d="M473.2,658.3L460.8,662L463,669.7L464.3,675.6L465.5,675.7L467.6,683.4L473.3,681.9L472.6,679.3L471.8,675.4L471.6,672.4L472.1,668L473.6,664.5L474.1,662.2Z" fill="#0039c8"/><path d="M475.1,654.6L473.3,656.2L473.2,658.3L474.1,662.2L473.6,664.5L472.1,668L471.6,672.4L471.8,675.4L472.6,679.3L473.3,681.9L481.4,679.7L482,679.1L484.2,677L484.5,674.9L481.6,672.6L481.1,670.7L477.4,660.5Z" fill="#0a7c66"/><path d="M484.5,674.9L484.8,672.4L486.1,668.3L488.5,666.4L491.4,663.9L492.8,662.4L492.3,659.4L492.8,657.1L494.7,660.1L497.7,658L499.2,655.9L501.9,652.8L503.9,649.7L502.5,647.3L500.6,647.5L499.2,646.6L498.1,643.6L495.5,643.5L494.8,641.3L491,630.6L486.7,629.2L485.2,630.8L482.1,631.3L480.5,630.2L477.9,639.1L478.5,642L478.4,647.3L478.2,648.9L476.8,654.6L475.1,654.6L477.4,660.5L481.1,670.7L481.6,672.6Z" fill="#0a7c66"/><path d="M163.8,873L162.9,869.8L159.3,869L158.4,867.9L155,864.2L151.8,862L150.5,860.7L147.8,863.9L145.6,861.8L144.4,861L141.5,860.9L136.7,831L134.3,829.8L130.9,829.9L128.1,829.4L124.3,828L122.1,827.6L119.5,826.1L116.7,827.5L113.3,828.9L111.9,830.3L110.3,832.6L107.7,832.4L106.6,834L108.9,836.7L109.5,838.8L111.8,839.5L111.4,841.1L112.4,842.1L109.1,840.5L106.8,840.6L102.8,842.3L104.9,844L104.2,845.6L105.6,846.6L108.9,847.1L111.3,846.8L111.6,848L111.6,849.8L110.4,850.9L109.3,850.6L107.4,851.6L105.2,852.8L103.5,854.4L102.6,855.5L103.5,857.9L103.5,859.4L105,861.9L107.1,861.7L107.8,864.4L107,866.1L109.8,865.7L112.2,867.1L113.2,865.8L115.1,866.8L114.2,870.7L112.1,872.5L108.6,874.9L104.7,876L102.8,877.5L99.8,878L103.4,878.4L106.3,877.6L109.3,876.3L112.4,874.8L116,872.5L118.8,870.1L120.6,868.1L121.6,866.3L121.3,864.7L123.2,862.7L124.5,860.6L126.6,859.3L127.3,859.1L127.1,859.9L125.1,861.2L124.3,863.6L125.1,864.6L124.1,865.7L126.4,865.1L128.2,863.3L129.6,863.1L130.3,860.4L132.7,859.5L134,861.2L136,862.4L138.4,862.1L140.9,862.1L144,863.1L147.1,864.4L149.9,866.1L151.4,868.1L153,869.4L154.6,871.6L157.3,873.9L159.5,875.3L162.4,874.1ZM123.7,870.9L123.4,868.6L121.7,869.6L119.6,870.9L120.4,873.2L122.1,872.8ZM97,879.4L97.2,880.4L95,881.3L93.1,880.8L95.1,879.3ZM90.9,881.6L91.3,882.3L88.7,882L88.8,881.1ZM82.8,881.1L82.9,882L79.7,880.9L79.8,879.9ZM76.4,880L76.5,880.9L74,879.9L74.1,879.1ZM96.4,846.7L100,849.2L98.5,849.8L95.9,847.9ZM99.6,859.4L102.3,859.8L102.2,861L99.8,861Z" fill="#959595"/><path d="M218.5,862L225.1,865L226.2,867.4L228.9,869.6L222.2,873.7L220.5,875.9L218.2,873.9L216.8,867.3L218.8,864.5ZM210.6,855.2L211.6,854.2L214.9,855.1L217.5,857.1L215.4,858.3L213,858.6L212.5,856.6L210.8,856ZM204.9,853.5L205.4,852.3L210.4,852.8L210.2,853.8ZM207.3,855.5L209.2,855.5L209.5,856.8L208,857.3ZM195.5,848.6L198.5,847.2L201.5,851.4L200.1,851.9L197.2,851.4ZM181.3,843.5L183,841.8L185.4,842.1L185.8,844.5L184.4,845.5L182,844.6ZM176.8,845.3L178.2,843.9L178.7,845.1L177.2,846.3Z" fill="#0039c8"/></g><path d="M492.3,703.2L482.6,690.9" stroke="#999" stroke-width=".7" fill="none"/><circle cx="497.5" cy="708.2" r="7" fill="#0039c8" stroke="rgba(120,120,120,.6)" stroke-width=".6"/><path d="M490.9,726.6L467.9,726.6" stroke="#999" stroke-width=".7" fill="none"/><circle cx="497.5" cy="726.6" r="7" fill="#0039c8" stroke="rgba(120,120,120,.6)" stroke-width=".6"/><path d="M491.4,741.8L467.9,731.1" stroke="#999" stroke-width=".7" fill="none"/><circle cx="497.5" cy="745.1" r="7" fill="#0039c8" stroke="rgba(120,120,120,.6)" stroke-width=".6"/><circle cx="497.5" cy="763.4" r="7" fill="#0039c8" stroke="rgba(120,120,120,.6)" stroke-width=".6"/><g font-size="7" text-anchor="middle" fill="#fff" stroke="#fff" stroke-width=".28"><text x="144.2" y="644.3" textLength="9.47397" lengthAdjust="spacingAndGlyphs">WA</text><text x="130.1" y="674.2" textLength="9.03" lengthAdjust="spacingAndGlyphs">OR</text><text x="120.3" y="749.7" textLength="8.3631" lengthAdjust="spacingAndGlyphs">CA</text><text x="148.7" y="726.2" textLength="8.3631" lengthAdjust="spacingAndGlyphs">NV</text><text x="175.6" y="687.7" textLength="6.02" lengthAdjust="spacingAndGlyphs">ID</text><text x="212" y="663" textLength="8.69232" lengthAdjust="spacingAndGlyphs">MT</text><text x="221.9" y="702.1" textLength="9.69737" lengthAdjust="spacingAndGlyphs">WY</text><text x="186.4" y="737.6" textLength="8.02494" lengthAdjust="spacingAndGlyphs">UT</text><text x="230.5" y="744.7" textLength="9.03" lengthAdjust="spacingAndGlyphs">CO</text><text x="177.9" y="783.8" textLength="7.6929" lengthAdjust="spacingAndGlyphs">AZ</text><text x="224.8" y="786" textLength="9.36251" lengthAdjust="spacingAndGlyphs">NM</text><text x="275.3" y="663" textLength="8.69514" lengthAdjust="spacingAndGlyphs">ND</text><text x="273.8" y="692.1" textLength="8.3631" lengthAdjust="spacingAndGlyphs">SD</text><text x="267.4" y="722" textLength="8.3631" lengthAdjust="spacingAndGlyphs">NE</text><text x="288.8" y="751.8" textLength="8.03106" lengthAdjust="spacingAndGlyphs">KS</text><text x="295.2" y="783.8" textLength="8.69796" lengthAdjust="spacingAndGlyphs">OK</text><text x="316.4" y="676.1" textLength="9.36251" lengthAdjust="spacingAndGlyphs">MN</text><text x="325.3" y="715.9" textLength="5.68796" lengthAdjust="spacingAndGlyphs">IA</text><text x="348.3" y="690" textLength="7.35428" lengthAdjust="spacingAndGlyphs">WI</text><text x="388.9" y="703.5" textLength="6.68737" lengthAdjust="spacingAndGlyphs">MI</text><text x="359" y="734.1" textLength="5.02059" lengthAdjust="spacingAndGlyphs">IL</text><text x="381.8" y="734.1" textLength="6.02" lengthAdjust="spacingAndGlyphs">IN</text><text x="405.2" y="728.4" textLength="9.03" lengthAdjust="spacingAndGlyphs">OH</text><text x="335.5" y="754" textLength="9.69737" lengthAdjust="spacingAndGlyphs">MO</text><text x="396" y="756.8" textLength="8.03106" lengthAdjust="spacingAndGlyphs">KY</text><text x="422.3" y="742.6" textLength="9.69737" lengthAdjust="spacingAndGlyphs">WV</text><text x="447.1" y="748.7" textLength="7.58426" lengthAdjust="spacingAndGlyphs">VA</text><text x="444.6" y="715.1" textLength="7.58426" lengthAdjust="spacingAndGlyphs">PA</text><text x="458" y="691.7" textLength="8.3631" lengthAdjust="spacingAndGlyphs">NY</text><text x="465.5" y="715.6" textLength="7.35757" lengthAdjust="spacingAndGlyphs">NJ</text><text x="466.3" y="666.5" textLength="7.6929" lengthAdjust="spacingAndGlyphs">VT</text><text x="475.5" y="674.5" textLength="8.69514" lengthAdjust="spacingAndGlyphs">NH</text><text x="488.4" y="653.7" textLength="9.03047" lengthAdjust="spacingAndGlyphs">ME</text><text x="480.5" y="684.7" textLength="9.03047" lengthAdjust="spacingAndGlyphs">MA</text><text x="475.8" y="694.3" textLength="8.02494" lengthAdjust="spacingAndGlyphs">CT</text><text x="385.3" y="775.3" textLength="8.02494" lengthAdjust="spacingAndGlyphs">TN</text><text x="444.3" y="768.4" textLength="8.69514" lengthAdjust="spacingAndGlyphs">NC</text><text x="335.5" y="787.4" textLength="8.3631" lengthAdjust="spacingAndGlyphs">AR</text><text x="432.2" y="788.8" textLength="8.3631" lengthAdjust="spacingAndGlyphs">SC</text><text x="359.7" y="805.2" textLength="9.03047" lengthAdjust="spacingAndGlyphs">MS</text><text x="384.6" y="805.2" textLength="7.36368" lengthAdjust="spacingAndGlyphs">AL</text><text x="413.7" y="805.2" textLength="8.69796" lengthAdjust="spacingAndGlyphs">GA</text><text x="336.3" y="816.5" textLength="7.36368" lengthAdjust="spacingAndGlyphs">LA</text><text x="438.6" y="853.5" textLength="7.02553" lengthAdjust="spacingAndGlyphs">FL</text><text x="278.8" y="818.7" textLength="7.6929" lengthAdjust="spacingAndGlyphs">TX</text><text x="126.7" y="845.7" textLength="8.03106" lengthAdjust="spacingAndGlyphs">AK</text><text x="222" y="870.5" textLength="6.02" lengthAdjust="spacingAndGlyphs">HI</text><text x="497.5" y="710.7" textLength="6.02" lengthAdjust="spacingAndGlyphs">RI</text><text x="497.5" y="729.1" textLength="8.3631" lengthAdjust="spacingAndGlyphs">DE</text><text x="497.5" y="747.6" textLength="9.36251" lengthAdjust="spacingAndGlyphs">MD</text><text x="497.5" y="765.9" textLength="8.69514" lengthAdjust="spacingAndGlyphs">DC</text></g></svg>
<div style="left:120.5px;top:893px;width:7.2px;height:7.2px;background:#959595;"></div>
<span style="left:131.00px;top:893.00px;font-size:8px;line-height:8px;color:#333;transform:scaleX(0.9515);transform-origin:0 0;">Noch nicht ausgezählt</span>
<div style="left:215.2px;top:893px;width:7.2px;height:7.2px;background:#0a7c66;"></div>
<span style="left:225.70px;top:893.00px;font-size:8px;line-height:8px;color:#333;transform:scaleX(0.9619);transform-origin:0 0;">Auszählung läuft</span>
<div style="left:292.5px;top:893px;width:7.2px;height:7.2px;background:#e8c11c;"></div>
<span style="left:303.00px;top:893.00px;font-size:8px;line-height:8px;color:#333;transform:scaleX(0.9058);transform-origin:0 0;">Kopf-an-Kopf</span>
<div style="left:355.2px;top:893px;width:7.2px;height:7.2px;background:#0039c8;"></div>
<span style="left:365.70px;top:893.00px;font-size:8px;line-height:8px;color:#333;transform:scaleX(0.9392);transform-origin:0 0;">Kamala Harris</span>
<div style="left:420.8px;top:893px;width:7.2px;height:7.2px;background:#b41a26;"></div>
<span style="left:431.30px;top:893.00px;font-size:8px;line-height:8px;color:#333;transform:scaleX(0.9772);transform-origin:0 0;">Donald Trump</span>
<div style="left:47px;top:906.6px;width:505.5px;height:1px;background:#e6e6e6;"></div>
<span style="left:47.30px;top:912.00px;font-size:6.9px;line-height:6.9px;color:#333;transform:scaleX(0.9407);transform-origin:0 0;">Quelle: NEP/Edison via Reuters</span>
<span style="left:132.30px;top:951.00px;font-size:12.6px;line-height:12.6px;color:#1e5b94;transform:scaleX(0.9738);transform-origin:0 0;">Ergebnisse nach Größe der Bundesstaaten</span>
<span style="left:131.90px;top:975.00px;font-size:9.5px;line-height:9.5px;color:#333;transform:scaleX(1.0335);transform-origin:0 0;-webkit-text-stroke:.22px #333;">Diese Darstellung veranschaulicht die unterschiedliche Bedeutung der</span>
<span style="left:131.90px;top:988.00px;font-size:9.5px;line-height:9.5px;color:#333;transform:scaleX(1.0330);transform-origin:0 0;-webkit-text-stroke:.22px #333;">Bundesstaaten für den Wahlausgang. Größere Kreise stehen für eine höhere</span>
<span style="left:131.90px;top:1000.00px;font-size:9.5px;line-height:9.5px;color:#333;transform:scaleX(1.0160);transform-origin:0 0;-webkit-text-stroke:.22px #333;">Zahl von Wahlleuten, die die Bundesstaaten in das Electoral College</span>
<span style="left:131.90px;top:1013.00px;font-size:9.5px;line-height:9.5px;color:#333;transform:scaleX(1.0326);transform-origin:0 0;-webkit-text-stroke:.22px #333;">entsenden. In den meisten Bundesstaaten gehen alle Stimmen der Wahlleute</span>
<span style="left:131.90px;top:1026.00px;font-size:9.5px;line-height:9.5px;color:#333;transform:scaleX(1.0402);transform-origin:0 0;-webkit-text-stroke:.22px #333;">an den Präsidentschaftskandidaten oder die Präsidentschaftskandidatin mit</span>
<span style="left:131.90px;top:1039.00px;font-size:9.5px;line-height:9.5px;color:#333;transform:scaleX(1.0300);transform-origin:0 0;-webkit-text-stroke:.22px #333;">den meisten Stimmen.</span>
<span style="left:48.30px;top:1066.00px;font-size:11px;line-height:11px;color:#1a568f;font-weight:700;transform:scaleX(0.9792);transform-origin:0 0;">Präsidentschaftswahl 2024</span>
<svg style="left:0;top:1090px" width="600" height="310" viewBox="0 1090 600 310"><g stroke="#5a5a5a" stroke-width=".7"><circle cx="153.4" cy="1182.9" r="15.6" fill="#0039c8"/><circle cx="131.1" cy="1215.6" r="11.8" fill="#0039c8"/><circle cx="191.3" cy="1182.9" r="8.1" fill="#b41a26"/><circle cx="178" cy="1213.7" r="9" fill="#b41a26"/><circle cx="197" cy="1216.1" r="7.6" fill="#b41a26"/><circle cx="228.2" cy="1186.3" r="8" fill="#b41a26"/><circle cx="228.2" cy="1209.5" r="8" fill="#b41a26"/><circle cx="162.4" cy="1248" r="10.9" fill="#959595"/><circle cx="189.4" cy="1246.5" r="10.9" fill="#b41a26"/><circle cx="229.2" cy="1239.8" r="10" fill="#b41a26"/><circle cx="115.8" cy="1260.4" r="33.7" fill="#0039c8"/><circle cx="262.7" cy="1190" r="14.2" fill="#0a7c66"/><circle cx="302.6" cy="1193.8" r="13.7" fill="#0a7c66"/><circle cx="346.2" cy="1196.2" r="18" fill="#0a7c66"/><circle cx="404.5" cy="1183.5" r="20.4" fill="#0a7c66"/><circle cx="264.6" cy="1228.9" r="10.9" fill="#b41a26"/><circle cx="303" cy="1238.4" r="10" fill="#0039c8"/><circle cx="342.4" cy="1238.4" r="14.7" fill="#b41a26"/><circle cx="376" cy="1226.5" r="19" fill="#b41a26"/><circle cx="409.5" cy="1222.2" r="13.5" fill="#0039c8"/><circle cx="412" cy="1254.1" r="15.8" fill="#0039c8"/><circle cx="499.9" cy="1106.5" r="9" fill="#0a7c66"/><circle cx="468.2" cy="1121.7" r="7.6" fill="#0039c8"/><circle cx="488.1" cy="1126.4" r="8.5" fill="#0a7c66"/><circle cx="441.4" cy="1146" r="24.7" fill="#0039c8"/><circle cx="484.3" cy="1152.5" r="14.7" fill="#0039c8"/><circle cx="469.1" cy="1181" r="11.8" fill="#0a7c66"/><circle cx="493.3" cy="1179.5" r="8.5" fill="#0039c8"/><circle cx="443.5" cy="1194.7" r="16.6" fill="#0a7c66"/><circle cx="447.8" cy="1220.8" r="7.6" fill="#0039c8"/><circle cx="204.1" cy="1269.4" r="13.3" fill="#0039c8"/><circle cx="235.4" cy="1268.4" r="10.9" fill="#b41a26"/><circle cx="166.2" cy="1293.6" r="15.2" fill="#0a7c66"/><circle cx="197.4" cy="1308.7" r="10" fill="#0a7c66"/><circle cx="238.2" cy="1302.6" r="11.8" fill="#b41a26"/><circle cx="239.1" cy="1346.6" r="28.4" fill="#b41a26"/><circle cx="114" cy="1359" r="8" fill="#959595"/><circle cx="178" cy="1359" r="9" fill="#0039c8"/><circle cx="281.2" cy="1271.3" r="13.7" fill="#b41a26"/><circle cx="278.9" cy="1299.2" r="10.4" fill="#b41a26"/><circle cx="279.3" cy="1331.9" r="11.8" fill="#b41a26"/><circle cx="318.2" cy="1294.5" r="15.2" fill="#b41a26"/><circle cx="313.5" cy="1323.9" r="10.4" fill="#b41a26"/><circle cx="341.4" cy="1270.3" r="12.3" fill="#b41a26"/><circle cx="342.8" cy="1329.6" r="13.3" fill="#b41a26"/><circle cx="370.3" cy="1263.7" r="9" fill="#b41a26"/><circle cx="364.6" cy="1305.4" r="18" fill="#b41a26"/><circle cx="405.4" cy="1290.2" r="17" fill="#b41a26"/><circle cx="396.9" cy="1322.5" r="12.8" fill="#b41a26"/><circle cx="394" cy="1364.6" r="24.2" fill="#b41a26"/></g><g font-size="8.6" text-anchor="middle" fill="#333"><text x="153.4" y="1186" textLength="13.2636" lengthAdjust="spacingAndGlyphs">WA</text><text x="131.1" y="1218.7" textLength="12.642" lengthAdjust="spacingAndGlyphs">OR</text><text x="191.3" y="1186" textLength="12.1692" lengthAdjust="spacingAndGlyphs">MT</text><text x="178" y="1216.8" textLength="8.428" lengthAdjust="spacingAndGlyphs">ID</text><text x="197" y="1219.2" textLength="13.5763" lengthAdjust="spacingAndGlyphs">WY</text><text x="228.2" y="1189.4" textLength="12.1732" lengthAdjust="spacingAndGlyphs">ND</text><text x="228.2" y="1212.6" textLength="11.7083" lengthAdjust="spacingAndGlyphs">SD</text><text x="162.4" y="1251.1" textLength="11.7083" lengthAdjust="spacingAndGlyphs">NV</text><text x="189.4" y="1249.6" textLength="11.2349" lengthAdjust="spacingAndGlyphs">UT</text><text x="229.2" y="1242.9" textLength="11.7083" lengthAdjust="spacingAndGlyphs">NE</text><text x="115.8" y="1263.5" textLength="11.7083" lengthAdjust="spacingAndGlyphs">CA</text><text x="262.7" y="1193.1" textLength="13.1075" lengthAdjust="spacingAndGlyphs">MN</text><text x="302.6" y="1196.9" textLength="10.296" lengthAdjust="spacingAndGlyphs">WI</text><text x="346.2" y="1199.3" textLength="9.36232" lengthAdjust="spacingAndGlyphs">MI</text><text x="404.5" y="1186.6" textLength="10.618" lengthAdjust="spacingAndGlyphs">PA</text><text x="264.6" y="1232" textLength="7.96314" lengthAdjust="spacingAndGlyphs">IA</text><text x="303" y="1241.5" textLength="7.02882" lengthAdjust="spacingAndGlyphs">IL</text><text x="342.4" y="1241.5" textLength="8.428" lengthAdjust="spacingAndGlyphs">IN</text><text x="376" y="1229.6" textLength="12.642" lengthAdjust="spacingAndGlyphs">OH</text><text x="409.5" y="1225.3" textLength="13.1075" lengthAdjust="spacingAndGlyphs">MD</text><text x="412" y="1257.2" textLength="10.618" lengthAdjust="spacingAndGlyphs">VA</text><text x="499.9" y="1109.6" textLength="12.6427" lengthAdjust="spacingAndGlyphs">ME</text><text x="468.2" y="1124.8" textLength="10.7701" lengthAdjust="spacingAndGlyphs">VT</text><text x="488.1" y="1129.5" textLength="12.1732" lengthAdjust="spacingAndGlyphs">NH</text><text x="441.4" y="1149.1" textLength="11.7083" lengthAdjust="spacingAndGlyphs">NY</text><text x="484.3" y="1155.6" textLength="12.6427" lengthAdjust="spacingAndGlyphs">MA</text><text x="469.1" y="1184.1" textLength="11.2349" lengthAdjust="spacingAndGlyphs">CT</text><text x="493.3" y="1182.6" textLength="8.428" lengthAdjust="spacingAndGlyphs">RI</text><text x="443.5" y="1197.8" textLength="10.3006" lengthAdjust="spacingAndGlyphs">NJ</text><text x="447.8" y="1223.9" textLength="11.7083" lengthAdjust="spacingAndGlyphs">DE</text><text x="204.1" y="1272.5" textLength="12.642" lengthAdjust="spacingAndGlyphs">CO</text><text x="235.4" y="1271.5" textLength="11.2435" lengthAdjust="spacingAndGlyphs">KS</text><text x="166.2" y="1296.7" textLength="10.7701" lengthAdjust="spacingAndGlyphs">AZ</text><text x="197.4" y="1311.8" textLength="13.1075" lengthAdjust="spacingAndGlyphs">NM</text><text x="238.2" y="1305.7" textLength="12.1771" lengthAdjust="spacingAndGlyphs">OK</text><text x="239.1" y="1349.7" textLength="10.7701" lengthAdjust="spacingAndGlyphs">TX</text><text x="114" y="1362.1" textLength="11.2435" lengthAdjust="spacingAndGlyphs">AK</text><text x="178" y="1362.1" textLength="8.428" lengthAdjust="spacingAndGlyphs">HI</text><text x="281.2" y="1274.4" textLength="13.5763" lengthAdjust="spacingAndGlyphs">MO</text><text x="278.9" y="1302.3" textLength="11.7083" lengthAdjust="spacingAndGlyphs">AR</text><text x="279.3" y="1335" textLength="10.3092" lengthAdjust="spacingAndGlyphs">LA</text><text x="318.2" y="1297.6" textLength="11.2349" lengthAdjust="spacingAndGlyphs">TN</text><text x="313.5" y="1327" textLength="12.6427" lengthAdjust="spacingAndGlyphs">MS</text><text x="341.4" y="1273.4" textLength="11.2435" lengthAdjust="spacingAndGlyphs">KY</text><text x="342.8" y="1332.7" textLength="10.3092" lengthAdjust="spacingAndGlyphs">AL</text><text x="370.3" y="1266.8" textLength="13.5763" lengthAdjust="spacingAndGlyphs">WV</text><text x="364.6" y="1308.5" textLength="12.1771" lengthAdjust="spacingAndGlyphs">GA</text><text x="405.4" y="1293.3" textLength="12.1732" lengthAdjust="spacingAndGlyphs">NC</text><text x="396.9" y="1325.6" textLength="11.7083" lengthAdjust="spacingAndGlyphs">SC</text><text x="394" y="1367.7" textLength="9.83574" lengthAdjust="spacingAndGlyphs">FL</text></g></svg>
<div style="left:120.5px;top:1412.6px;width:7.2px;height:7.2px;background:#959595;"></div>
<span style="left:131.00px;top:1412.00px;font-size:8px;line-height:8px;color:#333;transform:scaleX(0.9515);transform-origin:0 0;">Noch nicht ausgezählt</span>
<div style="left:215.2px;top:1412.6px;width:7.2px;height:7.2px;background:#0a7c66;"></div>
<span style="left:225.70px;top:1412.00px;font-size:8px;line-height:8px;color:#333;transform:scaleX(0.9619);transform-origin:0 0;">Auszählung läuft</span>
<div style="left:292.5px;top:1412.6px;width:7.2px;height:7.2px;background:#e8c11c;"></div>
<span style="left:303.00px;top:1412.00px;font-size:8px;line-height:8px;color:#333;transform:scaleX(0.9058);transform-origin:0 0;">Kopf-an-Kopf</span>
<div style="left:355.2px;top:1412.6px;width:7.2px;height:7.2px;background:#0039c8;"></div>
<span style="left:365.70px;top:1412.00px;font-size:8px;line-height:8px;color:#333;transform:scaleX(0.9392);transform-origin:0 0;">Kamala Harris</span>
<div style="left:420.8px;top:1412.6px;width:7.2px;height:7.2px;background:#b41a26;"></div>
<span style="left:431.30px;top:1412.00px;font-size:8px;line-height:8px;color:#333;transform:scaleX(0.9772);transform-origin:0 0;">Donald Trump</span>
<div style="left:47px;top:1426.1px;width:505.5px;height:1px;background:#e6e6e6;"></div>
<span style="left:47.30px;top:1432.00px;font-size:6.9px;line-height:6.9px;color:#333;transform:scaleX(0.9407);transform-origin:0 0;">Quelle: NEP/Edison via Reuters</span>
</section>
<section aria-label="Wahl des Repräsentantenhauses">
<span style="left:129.80px;top:1487.00px;font-size:18px;line-height:18px;color:#1e5b94;transform:scaleX(0.9783);transform-origin:50% 0;">WAHL DES REPRÄSENTANTENHAUSES</span>
<svg style="left:80px;top:1512px" width="140" height="140" viewBox="80 1512 140 140"><path d="M148.20,1517.60A63.8,63.8 0 0 1 203.45,1613.30L182.49,1601.20A39.6,39.6 0 0 0 148.20,1541.80Z" fill="#d61f27"/><path d="M203.45,1613.30A63.8,63.8 0 0 1 104.32,1627.72L120.97,1610.15A39.6,39.6 0 0 0 182.49,1601.20Z" fill="#e4e4e4"/><path d="M104.32,1627.72A63.8,63.8 0 0 1 148.20,1517.60L148.20,1541.80A39.6,39.6 0 0 0 120.97,1610.15Z" fill="#0039c8"/><path d="M148.2,1620.7V1644.6" stroke="#333" stroke-width="1" stroke-dasharray="1 1"/></svg>
<span style="left:125.68px;top:1570.00px;font-size:27px;line-height:27px;color:#333;transform:scaleX(1.0211);transform-origin:50% 0;">435</span>
<span style="left:132.64px;top:1655.00px;font-size:8px;line-height:8px;color:#333;transform:scaleX(1.0763);transform-origin:50% 0;">Mehrheit</span>
<svg style="left:240px;top:1525px" width="330" height="70" viewBox="240 1525 330 70"><circle cx="299.9" cy="1560.9" r="24.4" fill="#fff" stroke="#0039c8" stroke-width="5.8"/><path d="M289.9,1551.6h10.6a9.3,9.3 0 0 1 0,18.6h-10.6Zm5.8,4.7v9.2h4.2a4.6,4.6 0 0 0 0,-9.2Z" fill="#0039c8" fill-rule="evenodd"/><text x="400.8" y="1584.3" font-size="68" font-weight="700" fill="#cfcfcf" text-anchor="middle" textLength="31" lengthAdjust="spacingAndGlyphs">?</text><rect x="452.3" y="1537.8" width="100.1" height="44.8" fill="#d8132b"/><text x="463.5" y="1570.2" font-size="27.5" font-weight="700" fill="#fff" textLength="67" lengthAdjust="spacingAndGlyphs">GOP</text><circle cx="537.3" cy="1567.3" r="4.4" fill="#fff"/><path d="M534.6,1569.6v-2.6a2.7,2.5 0 0 1 5.4,0v2.6h-1.3v-1.4h-2.8v1.4Z" fill="#d8132b"/></svg>
<div style="left:249.5px;top:1593.9px;width:303px;height:1px;background:#e6e6e6;"></div>
<div style="left:249.5px;top:1621.9px;width:303px;height:1px;background:#e6e6e6;"></div>
<span style="left:285.30px;top:1601.00px;font-size:17.5px;line-height:17.5px;color:#333;transform:scaleX(1.0600);transform-origin:50% 0;">165</span>
<span style="left:278.11px;top:1629.00px;font-size:8px;line-height:8px;color:#333;">Demokraten</span>
<span style="left:386.20px;top:1601.00px;font-size:17.5px;line-height:17.5px;color:#333;transform:scaleX(1.0600);transform-origin:50% 0;">125</span>
<span style="left:391.09px;top:1629.00px;font-size:8px;line-height:8px;color:#333;">Offen</span>
<span style="left:487.40px;top:1601.00px;font-size:17.5px;line-height:17.5px;color:#333;transform:scaleX(1.0600);transform-origin:50% 0;">145</span>
<span style="left:478.43px;top:1629.00px;font-size:8px;line-height:8px;color:#333;">Republikaner</span>
<div style="left:47px;top:1669.8px;width:505.5px;height:1px;background:#e6e6e6;"></div>
<div style="left:46.9px;top:1677.8px;width:26.4px;height:13.3px;background:#0f5a9c;border-radius:1.5px"></div>
<span style="left:50.87px;top:1680.00px;font-size:8.3px;line-height:8.3px;color:#fff;transform:scaleX(0.9477);transform-origin:50% 0;">2024</span>
<div style="left:77.35px;top:1677.8px;width:26.4px;height:13.3px;background:#e8e8e8;border-radius:1.5px"></div>
<span style="left:81.32px;top:1680.00px;font-size:8.3px;line-height:8.3px;color:#333;transform:scaleX(0.9477);transform-origin:50% 0;">2022</span>
<div style="left:107.8px;top:1677.8px;width:26.4px;height:13.3px;background:#e8e8e8;border-radius:1.5px"></div>
<span style="left:111.77px;top:1680.00px;font-size:8.3px;line-height:8.3px;color:#333;transform:scaleX(0.9477);transform-origin:50% 0;">2020</span>
<div style="left:138.25px;top:1677.8px;width:26.4px;height:13.3px;background:#e8e8e8;border-radius:1.5px"></div>
<span style="left:142.22px;top:1680.00px;font-size:8.3px;line-height:8.3px;color:#333;transform:scaleX(0.9477);transform-origin:50% 0;">2018</span>
<div style="left:168.7px;top:1677.8px;width:26.4px;height:13.3px;background:#e8e8e8;border-radius:1.5px"></div>
<span style="left:172.67px;top:1680.00px;font-size:8.3px;line-height:8.3px;color:#333;transform:scaleX(0.9477);transform-origin:50% 0;">2016</span>
<span style="left:454.20px;top:1683.00px;font-size:6.9px;line-height:6.9px;color:#333;transform:scaleX(0.9407);transform-origin:100% 0;">Quelle: NEP/Edison via Reuters</span>
<span style="left:132.30px;top:1722.00px;font-size:12.6px;line-height:12.6px;color:#1e5b94;transform:scaleX(0.9934);transform-origin:0 0;">Ergebnisse der Repräsentantenhauswahl in den</span>
<span style="left:132.30px;top:1736.00px;font-size:12.6px;line-height:12.6px;color:#1e5b94;transform:scaleX(0.9500);transform-origin:0 0;">Bundesstaaten</span>
<span style="left:131.90px;top:1760.00px;font-size:9.5px;line-height:9.5px;color:#333;transform:scaleX(1.0240);transform-origin:0 0;-webkit-text-stroke:.22px #333;">Die 435 Sitze im Repräsentantenhaus werden durch Wahlen in</span>
<span style="left:131.90px;top:1772.00px;font-size:9.5px;line-height:9.5px;color:#333;transform:scaleX(1.0347);transform-origin:0 0;-webkit-text-stroke:.22px #333;">Stimmbezirken in den Bundesstaaten gewählt. Für die Präsidentschaft ist ein</span>
<span style="left:131.90px;top:1785.00px;font-size:9.5px;line-height:9.5px;color:#333;transform:scaleX(1.0390);transform-origin:0 0;-webkit-text-stroke:.22px #333;">wichtiger Faktor, ob es im Repräsentantenhaus eine Mehrheit von</span>
<span style="left:131.90px;top:1798.00px;font-size:9.5px;line-height:9.5px;color:#333;transform:scaleX(1.0102);transform-origin:0 0;-webkit-text-stroke:.22px #333;">Abgeordneten der eigenen Partei gibt oder nicht. Wie sehen die</span>
<span style="left:131.90px;top:1811.00px;font-size:9.5px;line-height:9.5px;color:#333;transform:scaleX(1.0359);transform-origin:0 0;-webkit-text-stroke:.22px #333;">Mehrheitsverhältnisse nach der Wahl aus und wie viele Abgeordnete der</span>
<span style="left:131.90px;top:1824.00px;font-size:9.5px;line-height:9.5px;color:#333;transform:scaleX(1.0327);transform-origin:0 0;-webkit-text-stroke:.22px #333;">großen Parteien wurden in den Bundesstaaten gewählt?</span>
<span style="left:48.30px;top:1851.00px;font-size:11px;line-height:11px;color:#1a568f;font-weight:700;transform:scaleX(0.9865);transform-origin:0 0;">Repräsentantenhaus 2024</span>
<svg style="left:0;top:1856px" width="600" height="300" viewBox="0 600 600 300"><defs><pattern id="st" width="4.2" height="4.2" patternUnits="userSpaceOnUse" patternTransform="rotate(-45)"><rect width="4.2" height="4.2" fill="#4f86f7"/><rect width="4.2" height="2.1" fill="#f45b6f"/></pattern></defs><g stroke="rgba(255,255,255,.68)" stroke-width="0.5" stroke-linejoin="round"><path d="M165.4,634.3L158,632.7L150.7,631L143.3,629.2L136,627.3L128.8,625.4L129.9,628.3L129.1,631.7L129.6,635L128,639.7L126.5,642.4L123.5,643.1L123.2,640.4L123.4,637.2L121,634.8L117.4,631.5L115.1,628.5L114,632.5L114,638.3L114.2,642.5L114,645.5L112.8,649.4L116.5,650.4L118.2,652L120,653L120,655.6L119.7,657.6L120.3,658.2L122.6,659.4L125.6,658.9L128.4,659.2L130.1,660.9L134.1,660.6L137.2,661.4L141.7,660.5L145.9,660.7L159.9,663.8L160,659.6Z" fill="#ad1626"/><path d="M112.8,649.4L116.5,650.4L118.2,652L120,653L120,655.6L119.7,657.6L120.3,658.2L122.6,659.4L125.6,658.9L128.4,659.2L130.1,660.9L134.1,660.6L137.2,661.4L141.7,660.5L145.9,660.7L159.9,663.8L161,666.1L162.2,668.4L161,671.2L158.2,674.1L154.8,678.5L154.3,679.9L156,680.8L155.7,682.9L154.7,684.8L151,702.5L140.3,700.2L129.6,697.6L121.9,695.7L114.2,693.6L106.5,691.5L98.9,689.2L99.1,685.2L99.6,680.8L101.2,678.5L102.9,676L104.6,673.4L107.8,665L109,662.2L110.4,659.5L112.5,652.9Z" fill="#4f86f7"/><path d="M98.9,689.2L106.5,691.5L114.2,693.6L121.9,695.7L129.6,697.6L122.5,726.5L155.8,774.2L155.9,776.2L156.8,779.9L158.5,781.7L155.7,783.5L154.6,785.1L154.4,787.6L152.1,789.7L151.8,793.4L153.4,794.5L150.9,796.4L130.8,794.3L130,792.4L130.5,788.4L127.4,783.1L125.3,781L122.9,780.1L122.7,777.5L120.3,776.9L117.4,774.7L114,771.4L108,769.4L107.4,766.1L108.3,762.2L107.1,759.7L104.4,756.1L101.4,748.6L101.8,745.7L103.5,744.1L102.3,742.2L99.8,739.5L99.7,735.9L100.6,733L97.5,730.1L97.8,726.1L94.9,719.5L95.7,714.1L95,708.4L94,703.9L97.1,700.1L99,694.4L98.7,691.5Z" fill="#ad1626"/><path d="M129.6,697.6L140.3,700.2L151,702.5L161.7,704.7L172.6,706.7L163.9,755.5L162.6,763.3L159.6,763.3L156.8,763.7L156.7,768.3L156.5,772.8L155.8,774.2L122.5,726.5Z" fill="#959595"/><path d="M165.4,634.3L171.7,635.6L169.7,645.5L171,651.3L174.3,655.5L175.3,657.4L176.9,660.8L177.7,663.2L176.7,667.1L175.3,670.9L176.8,672.4L179.5,670.7L180.2,672.8L181.4,678.3L182.8,680.2L184.1,684L185.3,685.1L189.1,683.7L194.7,684.7L195.1,683.1L197.7,685.9L194.3,710.2L183.4,708.5L172.6,706.7L161.7,704.7L151,702.5L154.7,684.8L155.7,682.9L156,680.8L154.3,679.9L154.8,678.5L158.2,674.1L161,671.2L162.2,668.4L161,666.1L159.9,663.8L160,659.6Z" fill="#959595"/><path d="M171.7,635.6L178.1,636.9L184.6,638.1L191.1,639.2L197.6,640.2L204.1,641.2L210.6,642.1L217.1,642.9L223.7,643.6L230.2,644.3L236.8,644.9L243.3,645.4L249.9,645.9L248,676.4L247.4,685.7L240.4,685.2L233.4,684.7L226.4,684L219.4,683.3L212.4,682.5L205.4,681.7L198.5,680.7L197.7,685.9L195.1,683.1L194.7,684.7L189.1,683.7L185.3,685.1L184.1,684L182.8,680.2L181.4,678.3L180.2,672.8L179.5,670.7L176.8,672.4L175.3,670.9L176.7,667.1L177.7,663.2L176.9,660.8L175.3,657.4L174.3,655.5L171,651.3L169.7,645.5Z" fill="#959595"/><path d="M197.7,685.9L198.5,680.7L205.4,681.7L212.4,682.5L219.4,683.3L226.4,684L233.4,684.7L240.4,685.2L247.4,685.7L246.2,705.5L244.9,725.3L237.5,724.8L230,724.2L222.6,723.5L215.1,722.8L207.7,721.9L200.3,721L192.9,720L194.3,710.2Z" fill="#0039c8"/><path d="M172.6,706.7L183.4,708.5L194.3,710.2L192.9,720L200.3,721L207.7,721.9L203,761.2L193.2,760L183.4,758.6L173.7,757.1L163.9,755.5Z" fill="#4f86f7"/><path d="M207.7,721.9L215.1,722.8L222.6,723.5L230,724.2L237.5,724.8L244.9,725.3L252.4,725.7L259.9,726.1L259.5,735.9L258.3,765.6L250.8,765.3L242.8,764.9L234.8,764.3L226.9,763.7L218.9,763L211,762.1L203,761.2Z" fill="#959595"/><path d="M163.9,755.5L173.7,757.1L183.4,758.6L193.2,760L203,761.2L196.3,817.3L179.2,815.1L149.8,798.5L150.9,796.4L153.4,794.5L151.8,793.4L152.1,789.7L154.4,787.6L154.6,785.1L155.7,783.5L158.5,781.7L156.8,779.9L155.9,776.2L155.8,774.2L156.5,772.8L156.7,768.3L156.8,763.7L159.6,763.3L162.6,763.3Z" fill="#4f86f7"/><path d="M203,761.2L211,762.1L218.9,763L226.9,763.7L234.8,764.3L242.8,764.9L250.8,765.3L250.5,770.3L247.7,815L237.7,814.4L227.6,813.7L217.6,812.8L218.2,815.1L204,813.6L203.5,818.1L196.3,817.3Z" fill="#ad1626"/><path d="M249.9,645.9L257.4,646.3L264.8,646.6L272.3,646.8L279.8,647L287.3,647L294.7,647L295.5,655L296.1,657.9L297.5,663.9L298.1,668.2L299.5,674.2L299.8,677.4L292.4,677.5L285,677.6L277.6,677.5L270.2,677.4L262.8,677.1L255.4,676.8L248,676.4Z" fill="#ad1626"/><path d="M248,676.4L255.4,676.8L262.8,677.1L270.2,677.4L277.6,677.5L285,677.6L292.4,677.5L299.8,677.4L298.9,679.3L297.9,680.9L300.7,683.8L301.1,701.6L300.4,702.7L300.7,703.6L301.1,706.1L300.1,709.1L301.4,711.7L299.5,710.6L297.3,709.2L294.4,708L290,709L286.4,706.8L278.3,706.7L270.3,706.6L262.2,706.3L254.2,706L246.2,705.5L247.4,685.7Z" fill="#0039c8"/><path d="M246.2,705.5L254.2,706L262.2,706.3L270.3,706.6L278.3,706.7L286.4,706.8L290,709L294.4,708L297.3,709.2L299.5,710.6L301.4,711.7L302.5,714.5L304.1,718.4L305.1,721.4L305.9,723.3L305.6,724.1L306.2,727.3L306.9,730.4L308.7,733.6L310.6,736.1L302,736.3L293.5,736.5L285,736.5L276.5,736.4L268,736.2L259.5,735.9L259.9,726.1L252.4,725.7L244.9,725.3Z" fill="#0039c8"/><path d="M259.5,735.9L268,736.2L276.5,736.4L285,736.5L293.5,736.5L302,736.3L310.6,736.1L313,737.5L313.9,738.2L312.3,740.4L314,742.9L316.3,744.6L317.1,765.5L308.7,765.9L300.3,766.1L291.9,766.2L283.5,766.2L275.1,766.1L266.7,765.9L258.3,765.6Z" fill="url(#st)"/><path d="M250.8,765.3L258.3,765.6L266.7,765.9L275.1,766.1L283.5,766.2L291.9,766.2L300.3,766.1L308.7,765.9L317.1,765.5L317.3,770.5L319.3,781.3L319.7,798.8L315.3,796.9L311.2,796.8L307,797.2L302.5,797.6L297.6,798.7L297.1,796.9L290.9,797.2L289.7,795L285.5,794.5L280.6,794L276.5,792L274.1,790.3L274.4,771.1L266.4,770.9L258.5,770.6L250.5,770.3Z" fill="url(#st)"/><path d="M250.5,770.3L258.5,770.6L266.4,770.9L274.4,771.1L274.1,790.3L276.5,792L280.6,794L285.5,794.5L289.7,795L290.9,797.2L297.1,796.9L297.6,798.7L302.5,797.6L307,797.2L311.2,796.8L315.3,796.9L319.7,798.8L323.4,799.6L323.7,804.8L324.2,815.1L326,818.4L328.3,822.8L328.9,825.8L327.7,829.9L328.1,833.9L326.5,837L327.1,838.1L322.2,839.7L319.3,842.4L313.7,847.1L305.5,851.9L300.6,855L298,860.1L296.3,866.2L298.7,876.8L296.5,878L294.6,878L289.1,876L280.9,872.4L277.8,866.3L277.4,861.2L270.3,853.5L268.7,848.9L267.4,844.8L264.9,842.2L261.1,837.9L253.2,836.6L249.9,837.8L248.2,842.1L245.4,845.3L239.8,842L234.8,838.8L232.5,833.1L230.3,827.4L225.5,822.7L220.7,818.6L218.2,815.1L217.6,812.8L227.6,813.7L237.7,814.4L247.7,815Z" fill="#4f86f7"/><path d="M330.1,667.9L333.9,664.2L337.6,659.3L343.3,655.8L345.8,654.1L343.1,653.3L337.6,652.3L333.8,654.4L329.6,652.4L326.6,651.7L322.8,649.9L320.1,650.1L316.1,649.8L312.2,649.3L311.4,647L310.5,643.5L308.3,642.8L308.4,646.6L294.7,647L295.5,655L296.1,657.9L297.5,663.9L298.1,668.2L299.5,674.2L299.8,677.4L298.9,679.3L297.9,680.9L300.7,683.8L301.1,701.6L308.6,701.4L316.2,701.1L323.7,700.7L331.2,700.2L338.7,699.7L338.1,696.7L335.2,694.5L332.3,691.4L328.4,689.8L326.9,688.1L326.6,682.6L325.3,678.7L329.2,674.5L328.8,668.9Z" fill="#4f86f7"/><path d="M301.1,701.6L308.6,701.4L316.2,701.1L323.7,700.7L331.2,700.2L338.7,699.7L339.2,703.6L340.5,707L343.7,709.2L345.7,711.5L347.6,712.8L347.7,715.3L346.7,717.9L345.3,719L341.6,720.1L341.4,722.3L341.8,726.3L340.2,728.1L339.7,730.6L337.2,728.6L329.6,729.1L322.1,729.6L314.5,730L306.9,730.4L306.2,727.3L305.6,724.1L305.9,723.3L305.1,721.4L304.1,718.4L302.5,714.5L301.4,711.7L300.1,709.1L301.1,706.1L300.7,703.6L300.4,702.7Z" fill="#4f86f7"/><path d="M306.9,730.4L314.5,730L322.1,729.6L329.6,729.1L337.2,728.6L339.7,730.6L340.1,735L340.8,737.3L343.3,740L345.9,742.8L346.8,744.7L348.4,743.9L350.4,744.6L350.7,747L349.7,750.9L351.9,753.2L354.1,754L356.9,756.7L357.1,759.7L358.2,761.5L360.5,762.5L360.2,765.3L358.7,767.5L357.8,769.1L356.9,772.6L351.5,773.2L353.7,770L352.9,768L344,768.8L335.1,769.5L326.2,770L317.3,770.5L317.1,765.5L316.3,744.6L314,742.9L312.3,740.4L313.9,738.2L313,737.5L310.6,736.1L308.7,733.6Z" fill="#4f86f7"/><path d="M317.3,770.5L326.2,770L335.1,769.5L344,768.8L352.9,768L353.7,770L351.5,773.2L356.9,772.6L355.4,777.3L354.7,781.5L353,783L351.2,788.1L348.5,792.4L347.6,796.4L347.9,799.4L347.6,803.3L335.6,804.1L323.7,804.8L323.4,799.6L319.7,798.8L319.3,781.3Z" fill="#4f86f7"/><path d="M323.7,804.8L335.6,804.1L347.6,803.3L350.4,809.7L349,813.4L346.7,818.1L345.3,823.7L361.6,822.3L360.9,825.9L363.2,829.2L364.2,830.3L362.8,831.7L366,833.4L364.2,837.1L367.9,838.8L369.5,841.2L366.5,842.5L361.8,839.9L359.3,841.7L353.3,842.7L349.6,841L345,839L342.3,838L338,838.5L332.6,836.9L327.1,838.1L326.5,837L328.1,833.9L327.7,829.9L328.9,825.8L328.3,822.8L326,818.4L324.2,815.1Z" fill="#4f86f7"/><path d="M330.1,667.9L328.8,668.9L329.2,674.5L325.3,678.7L326.6,682.6L326.9,688.1L328.4,689.8L332.3,691.4L335.2,694.5L338.1,696.7L338.7,699.7L339.2,703.6L340.5,707L343.7,709.2L354,708.2L364.4,707L364.3,704.6L363.1,701.7L364,698.1L363.5,694.2L364.3,689.1L365.1,684L366.6,679.2L364.5,682L362.5,685.8L360.5,687L360.9,684L362.7,681.4L362.2,681.3L362,680.3L361,679L360.4,677L359.1,674.9L358.2,674.8L357.5,673.4L354.7,673.2L351.1,672.2L344.1,671L341.7,668.8L339,668.2L339.1,665.5L336.1,666.3L330.6,668.4Z" fill="#4f86f7"/><path d="M343.7,709.2L354,708.2L364.4,707L365.9,710.8L366.6,713.3L367.4,714.7L370.2,737.8L370,741.3L371,744.3L369.6,747.1L368.4,750.4L368.2,753.5L367.5,754.5L367.4,756.8L365.1,758.1L364.5,761.1L360.6,761.8L360.5,762.5L358.2,761.5L357.1,759.7L356.9,756.7L354.1,754L351.9,753.2L349.7,750.9L350.7,747L350.4,744.6L348.4,743.9L346.8,744.7L345.9,742.8L343.3,740L340.8,737.3L340.1,735L339.7,730.6L340.2,728.1L341.8,726.3L341.4,722.3L341.6,720.1L345.3,719L346.7,717.9L347.7,715.3L347.6,712.8L345.7,711.5Z" fill="#ad1626"/><path d="M367.4,714.7L369.8,715L372.4,713.4L379.8,712.4L387.1,711.3L387.2,711.9L391.1,737.3L391,740.6L387.4,741.6L385.2,746.5L384,749.4L382.3,749.6L381.1,748.3L379.8,750L377.8,750.8L375.3,752.9L371.5,751.4L369,752.1L368.2,753.5L368.4,750.4L369.6,747.1L371,744.3L370,741.3L370.2,737.8Z" fill="url(#st)"/><path d="M397.1,710L398.5,707L398.7,704L400.3,702.7L402.4,699.8L402.3,696.3L400.5,691.6L399.2,688.1L396.7,686.5L393.8,688.4L390.7,691.8L390.2,688.8L392.8,686.9L393.6,683.2L392.6,677.3L390,674.7L385.4,672.7L381.6,671.8L379.6,673.9L380.6,675.8L378.3,676.7L377.5,678.2L377,682.3L376.4,678.4L373.4,681.8L372.6,684L371.8,691.1L372.7,695L374.9,700.7L375.8,704.5L375.3,708.6L373.7,710.8L372.4,713.4L379.8,712.4L387.1,711.3L397.1,710L387.2,711.9ZM362.7,681.4L364.3,677.5L365.7,674.4L369,675.4L370.6,672.2L375.2,670L379.4,669.9L381.5,670.9L383.9,669.5L387,669.2L388.8,667.9L385,666L383,664.3L381.4,664.8L378.6,662.3L376.3,663.1L371.6,664.3L367.8,667L362.3,666.8L359.8,663.6L356.4,663.5L354.8,665.1L357.4,660.3L359.2,658.6L354.5,659.7L351.5,663L347.7,665.4L344.4,667.4L341.7,668.8L344.1,671L351.1,672.2L354.7,673.2L357.5,673.4L358.2,674.8L359.1,674.9L360.4,677L361,679L362,680.3L362.2,681.3Z" fill="#4f86f7"/><path d="M387.2,711.9L397.1,710L400.6,710.9L402.7,710.7L403.6,711.7L405.3,711.5L410.2,709.5L412,707.3L414.6,705.3L417.9,703.5L420.5,716.5L420.2,716.7L420.3,719.3L420.2,722.4L420.3,723.9L420,726.7L417.9,729.6L416,729.8L415.4,731.4L414.6,733.3L414.4,734.7L413.8,734.7L413,734.4L412,734.8L411.9,736.1L411.9,736.8L411.8,738.8L411.3,739.9L410.3,740.9L409.1,741.3L408.3,740.2L405.5,738.7L399.9,740.4L395.7,738.6L393.5,737L391.1,737.3Z" fill="#f45b6f"/><path d="M360.5,762.5L360.6,761.8L364.5,761.1L365.1,758.1L367.4,756.8L367.5,754.5L368.2,753.5L369,752.1L371.5,751.4L375.3,752.9L377.8,750.8L379.8,750L381.1,748.3L382.3,749.6L384,749.4L385.2,746.5L387.4,741.6L391,740.6L391.1,737.3L393.5,737L395.7,738.6L399.9,740.4L405.5,738.7L408.3,740.2L409.1,741.3L409.5,743.3L410.7,745.6L412.7,747.7L415.5,748.8L413.4,751.6L410.7,754.6L407.7,758.2L403.8,760.4L381.6,763.2L369.2,764.5L369.4,766.3L358.7,767.5L360.2,765.3Z" fill="#0039c8"/><path d="M403.8,760.4L381.6,763.2L369.2,764.5L369.4,766.3L358.7,767.5L357.8,769.1L356.9,772.6L355.4,777.3L354.7,781.5L353,783L361.6,782.2L370.1,781.3L380.5,780L391,778.6L401.4,777L403.1,773.9L403.3,772.5L407,770.2L409.1,768.5L411.1,765.7L413.4,764.7L417.5,762.8L419.6,760.1L419.5,757.6L411.7,759Z" fill="#4f86f7"/><path d="M370.1,781.3L361.6,782.2L353,783L370.1,781.3L371,782.1L371.2,802.1L371.3,812.2L373.7,827.5L369.8,827.5L366,828.9L364.2,830.3L363.2,829.2L360.9,825.9L361.6,822.3L345.3,823.7L346.7,818.1L349,813.4L350.4,809.7L347.6,803.3L347.9,799.4L347.6,796.4L348.5,792.4L351.2,788.1L353,783Z" fill="#4f86f7"/><path d="M391,778.6L380.5,780L370.1,781.3L371,782.1L371.2,802.1L371.3,812.2L373.7,827.5L376.1,827.6L376.3,824.2L377.5,824.1L378,827L379.4,828.1L381.3,827.3L381.7,825.6L381.9,823L379.8,820.2L390.8,818.8L401.9,817.2L400.7,812.3L399.7,808.4L400,807.4L399.8,802.6L397.6,798.9Z" fill="#ad1626"/><path d="M401.4,777L391,778.6L397.6,798.9L399.8,802.6L400,807.4L399.7,808.4L400.7,812.3L401.9,817.2L403.5,820L426.3,817.4L428,819.2L427.9,815L432.5,814.8L432.2,810.9L433,806.2L434,802.4L434.7,800.8L432.8,800.8L431.4,798.3L429.3,796.2L427.8,792.9L425.9,791.8L423,788.6L420.8,787L416.9,784.3L414.3,781.2L409.6,778.5L411.1,775.3Z" fill="#0039c8"/><path d="M401.9,817.2L390.8,818.8L379.8,820.2L381.9,823L381.7,825.6L381.3,827.3L384,826.5L390,825.2L394.5,825.9L397.2,827L400.3,829.8L400.9,830.8L404,831.1L404.7,829.8L409.1,827L411.9,824.8L415.7,826.7L418.9,829.7L421.4,833.1L425,836.3L426.5,839.6L426,844.8L427.5,848.2L428.8,850L430.6,852.8L434,855.7L435.8,858L438.2,861.2L441.6,864.1L445.9,869L448.7,869L452.7,867.7L453.8,861.7L452.6,851L449,845.5L445.2,838.1L444.7,835.6L440.4,830.3L436,823.5L433.5,817.8L432.5,814.8L427.9,815L428,819.2L426.3,817.4L403.5,820Z" fill="#4f86f7"/><path d="M411.1,775.3L416.4,772.3L427.3,770.7L427.5,771.7L428.3,771L430,773.5L439,771.8L450,779L447.5,781.2L446.2,785L445.2,788.3L441.4,792.2L437.8,795.5L436.2,798.4L434.7,800.8L432.8,800.8L431.4,798.3L429.3,796.2L427.8,792.9L425.9,791.8L423,788.6L420.8,787L416.9,784.3L414.3,781.2L409.6,778.5Z" fill="#4f86f7"/><path d="M419.5,757.6L428.7,756.2L437.8,754.3L446.8,752.3L455.8,750.1L464.8,747.9L465.3,751.3L464,752.2L460.1,754.7L464.8,753.8L467.3,753.9L466.5,757.1L462.7,758.6L459,760.6L462.4,760.5L462.4,762.1L460,764.4L463.3,764.1L465.2,765.2L464.4,767.9L460.5,768.2L457,771.3L454.7,775.4L454.4,777.9L450,779L439,771.8L430,773.5L428.3,771L427.5,771.7L427.3,770.7L416.4,772.3L411.1,775.3L401.4,777L403.1,773.9L403.3,772.5L407,770.2L409.1,768.5L411.1,765.7L413.4,764.7L417.5,762.8L419.6,760.1Z" fill="#4f86f7"/><path d="M415.5,748.8L413.4,751.6L410.7,754.6L407.7,758.2L403.8,760.4L415.5,748.8L418.4,751.7L421.8,750.6L424.6,749.1L428.5,746.7L428.8,745.3L429.8,741.3L430.7,738.4L431.2,735.1L434.2,736.1L434.8,735.2L436.7,732L438.6,729.2L439.2,725L443.7,726.7L444.1,724.7L445.6,724.9L446.6,726.4L448.4,727L449.5,727.4L450.4,728.6L449.7,730.7L449.1,731.7L449.5,733.3L451.9,733.2L455.3,733.9L458.2,735.8L458.3,738.8L459.2,741.6L460.1,745L463.1,744.7L464.8,747.9L455.8,750.1L446.8,752.3L437.8,754.3L428.7,756.2L419.5,757.6L411.7,759L403.8,760.4ZM461.4,734.4L461.8,738.9L462.3,742.4L464.5,738.2L465.3,733.9L465.8,732.4L462.8,733.5Z" fill="#f45b6f"/><path d="M409.1,741.3L410.3,740.9L411.3,739.9L411.8,738.8L411.9,736.8L411.9,736.1L412,734.8L413,734.4L413.8,734.7L414.4,734.7L414.6,733.3L415.4,731.4L416,729.8L417.9,729.6L420,726.7L420.3,723.9L420.2,722.4L420.3,719.3L420.2,716.7L420.5,716.5L422.4,725.5L430.1,723.8L431.1,728.9L432.4,727.6L434.5,725.7L435.6,723.3L438.1,724L438.4,723L439.8,721.9L442.7,722.2L444.1,724.7L443.7,726.7L439.2,725L438.6,729.2L436.7,732L434.8,735.2L434.2,736.1L431.2,735.1L430.7,738.4L429.8,741.3L428.8,745.3L428.5,746.7L424.6,749.1L421.8,750.6L418.4,751.7L415.5,748.8L412.7,747.7L410.7,745.6L409.5,743.3Z" fill="#4f86f7"/><path d="M444.1,724.7L442.7,722.2L439.8,721.9L438.4,723L438.1,724L435.6,723.3L434.5,725.7L432.4,727.6L431.1,728.9L430.1,723.8L439.3,721.8L448.4,719.6L457.5,717.3L460.6,729.5L466.2,728L466.2,729L465.8,732.4L462.8,733.5L461.4,734.4L459.8,732.2L457.3,729.8L456.8,726.9L456.2,722.9L456.3,719.3L455.6,721.1L453.8,723.5L454,725.6L454.1,727.6L456,732.2L457.7,734.4L455.3,733.9L451.9,733.2L449.5,733.3L449.1,731.7L449.7,730.7L450.4,728.6L451.2,727.4L449.9,726.6L449.5,727.4L448.4,727L446.6,726.4L445.6,724.9Z" fill="url(#st)"/><path d="M450.4,728.6L449.5,727.4L449.9,726.6L451.2,727.4Z" fill="#4f86f7"/><path d="M457.5,717.3L457.9,716.4L458.7,715.7L460,715.8L459.5,718L461.4,720.6L462.9,723.2L465,724.7L466.2,728L460.6,729.5Z" fill="#ad1626"/><path d="M422.8,699.6L420.6,701.3L417.9,703.5L420.5,716.5L422.4,725.5L430.1,723.8L439.3,721.8L448.4,719.6L457.5,717.3L457.9,716.4L458.7,715.7L460,715.8L461.8,714.3L464,711.2L463.7,710.7L462,709.5L459.3,706.9L459.1,704.1L460.2,701.4L461.2,699.5L458,697.9L457.4,696L454.9,694.6L447,696.7L439.1,698.6L431.2,700.5L423.3,702.2Z" fill="#0039c8"/><path d="M460,715.8L461.8,714.3L464,711.2L463.7,710.7L462,709.5L459.3,706.9L459.1,704.1L460.2,701.4L461.2,699.5L467.9,701.4L467.6,704.5L466.7,706.8L468.6,706.8L469.3,709.2L469.8,713.6L468.7,718.1L465.7,723.2L463,720.6L460.1,718.8Z" fill="#4f86f7"/><path d="M460.8,662L451.6,664.7L448,667.4L445.5,672L442.7,675.3L442.6,676.3L444.2,678L445,681.3L443.1,682.6L440.1,685.3L435.9,686.5L429.3,687L425.7,688.9L426.1,690.5L427.6,692.2L426.7,694.9L422.8,699.6L423.3,702.2L431.2,700.5L439.1,698.6L447,696.7L454.9,694.6L457.4,696L458,697.9L461.2,699.5L467.9,701.4L467.8,704.4L468,705.4L469,705.4L473.2,703.6L479.1,699.6L482.3,696.3L480.8,697.5L479.2,696.3L476.9,698.9L473.7,700L469.7,702.2L469.1,703L469.6,700.9L468.8,700L470.3,698.5L469.6,697.8L467.9,690.5L467.6,683.4L465.5,675.7L464.3,675.6L463,669.7Z" fill="#4f86f7"/><path d="M469.6,700.9L468.8,700L470.3,698.5L469.6,697.8L467.9,690.5L479.9,687.2L481.2,691.2L481.6,694L478.2,695.5L474.4,696.9L473.2,698.3L472.6,698.7Z" fill="#f45b6f"/><path d="M481.6,694L481.2,691.2L479.9,687.2L482.9,686.3L483.6,687.3L485.1,688.9L486.3,690.6L485.4,690.9L483.5,688.9L484.4,691.7L484,692.8Z" fill="#f45b6f"/><path d="M467.9,690.5L467.6,683.4L473.3,681.9L481.4,679.7L482,679.1L484.2,677L484.7,678.1L486.4,678.6L485,681.2L484.7,682.8L487.1,683.1L488.9,685.1L489.8,686.6L493.3,685.4L492.2,684.5L490.6,683.1L491.7,682.8L493.3,684.2L494,686.3L490.6,688L489.5,689.4L487.3,689.8L486.3,690.6L485.1,688.9L483.6,687.3L482.9,686.3L479.9,687.2Z" fill="#f45b6f"/><path d="M473.2,658.3L460.8,662L463,669.7L464.3,675.6L465.5,675.7L467.6,683.4L473.3,681.9L472.6,679.3L471.8,675.4L471.6,672.4L472.1,668L473.6,664.5L474.1,662.2Z" fill="#959595"/><path d="M475.1,654.6L473.3,656.2L473.2,658.3L474.1,662.2L473.6,664.5L472.1,668L471.6,672.4L471.8,675.4L472.6,679.3L473.3,681.9L481.4,679.7L482,679.1L484.2,677L484.5,674.9L481.6,672.6L481.1,670.7L477.4,660.5Z" fill="url(#st)"/><path d="M484.5,674.9L484.8,672.4L486.1,668.3L488.5,666.4L491.4,663.9L492.8,662.4L492.3,659.4L492.8,657.1L494.7,660.1L497.7,658L499.2,655.9L501.9,652.8L503.9,649.7L502.5,647.3L500.6,647.5L499.2,646.6L498.1,643.6L495.5,643.5L494.8,641.3L491,630.6L486.7,629.2L485.2,630.8L482.1,631.3L480.5,630.2L477.9,639.1L478.5,642L478.4,647.3L478.2,648.9L476.8,654.6L475.1,654.6L477.4,660.5L481.1,670.7L481.6,672.6Z" fill="#f45b6f"/><path d="M163.8,873L162.9,869.8L159.3,869L158.4,867.9L155,864.2L151.8,862L150.5,860.7L147.8,863.9L145.6,861.8L144.4,861L141.5,860.9L136.7,831L134.3,829.8L130.9,829.9L128.1,829.4L124.3,828L122.1,827.6L119.5,826.1L116.7,827.5L113.3,828.9L111.9,830.3L110.3,832.6L107.7,832.4L106.6,834L108.9,836.7L109.5,838.8L111.8,839.5L111.4,841.1L112.4,842.1L109.1,840.5L106.8,840.6L102.8,842.3L104.9,844L104.2,845.6L105.6,846.6L108.9,847.1L111.3,846.8L111.6,848L111.6,849.8L110.4,850.9L109.3,850.6L107.4,851.6L105.2,852.8L103.5,854.4L102.6,855.5L103.5,857.9L103.5,859.4L105,861.9L107.1,861.7L107.8,864.4L107,866.1L109.8,865.7L112.2,867.1L113.2,865.8L115.1,866.8L114.2,870.7L112.1,872.5L108.6,874.9L104.7,876L102.8,877.5L99.8,878L103.4,878.4L106.3,877.6L109.3,876.3L112.4,874.8L116,872.5L118.8,870.1L120.6,868.1L121.6,866.3L121.3,864.7L123.2,862.7L124.5,860.6L126.6,859.3L127.3,859.1L127.1,859.9L125.1,861.2L124.3,863.6L125.1,864.6L124.1,865.7L126.4,865.1L128.2,863.3L129.6,863.1L130.3,860.4L132.7,859.5L134,861.2L136,862.4L138.4,862.1L140.9,862.1L144,863.1L147.1,864.4L149.9,866.1L151.4,868.1L153,869.4L154.6,871.6L157.3,873.9L159.5,875.3L162.4,874.1ZM123.7,870.9L123.4,868.6L121.7,869.6L119.6,870.9L120.4,873.2L122.1,872.8ZM97,879.4L97.2,880.4L95,881.3L93.1,880.8L95.1,879.3ZM90.9,881.6L91.3,882.3L88.7,882L88.8,881.1ZM82.8,881.1L82.9,882L79.7,880.9L79.8,879.9ZM76.4,880L76.5,880.9L74,879.9L74.1,879.1ZM96.4,846.7L100,849.2L98.5,849.8L95.9,847.9ZM99.6,859.4L102.3,859.8L102.2,861L99.8,861Z" fill="#959595"/><path d="M218.5,862L225.1,865L226.2,867.4L228.9,869.6L222.2,873.7L220.5,875.9L218.2,873.9L216.8,867.3L218.8,864.5ZM210.6,855.2L211.6,854.2L214.9,855.1L217.5,857.1L215.4,858.3L213,858.6L212.5,856.6L210.8,856ZM204.9,853.5L205.4,852.3L210.4,852.8L210.2,853.8ZM207.3,855.5L209.2,855.5L209.5,856.8L208,857.3ZM195.5,848.6L198.5,847.2L201.5,851.4L200.1,851.9L197.2,851.4ZM181.3,843.5L183,841.8L185.4,842.1L185.8,844.5L184.4,845.5L182,844.6ZM176.8,845.3L178.2,843.9L178.7,845.1L177.2,846.3Z" fill="#959595"/></g><path d="M492.3,703.2L482.6,690.9" stroke="#999" stroke-width=".7" fill="none"/><circle cx="497.5" cy="708.2" r="7" fill="#f45b6f" stroke="rgba(120,120,120,.6)" stroke-width=".6"/><path d="M490.9,726.6L467.9,726.6" stroke="#999" stroke-width=".7" fill="none"/><circle cx="497.5" cy="726.6" r="7" fill="#ad1626" stroke="rgba(120,120,120,.6)" stroke-width=".6"/><path d="M491.4,741.8L467.9,731.1" stroke="#999" stroke-width=".7" fill="none"/><circle cx="497.5" cy="745.1" r="7" fill="url(#st)" stroke="rgba(120,120,120,.6)" stroke-width=".6"/><g font-size="7" text-anchor="middle" fill="#fff" stroke="#fff" stroke-width=".28"><text x="144.2" y="644.3" textLength="9.47397" lengthAdjust="spacingAndGlyphs">WA</text><text x="130.1" y="674.2" textLength="9.03" lengthAdjust="spacingAndGlyphs">OR</text><text x="120.3" y="749.7" textLength="8.3631" lengthAdjust="spacingAndGlyphs">CA</text><text x="148.7" y="726.2" textLength="8.3631" lengthAdjust="spacingAndGlyphs">NV</text><text x="175.6" y="687.7" textLength="6.02" lengthAdjust="spacingAndGlyphs">ID</text><text x="212" y="663" textLength="8.69232" lengthAdjust="spacingAndGlyphs">MT</text><text x="221.9" y="702.1" textLength="9.69737" lengthAdjust="spacingAndGlyphs">WY</text><text x="186.4" y="737.6" textLength="8.02494" lengthAdjust="spacingAndGlyphs">UT</text><text x="230.5" y="744.7" textLength="9.03" lengthAdjust="spacingAndGlyphs">CO</text><text x="177.9" y="783.8" textLength="7.6929" lengthAdjust="spacingAndGlyphs">AZ</text><text x="224.8" y="786" textLength="9.36251" lengthAdjust="spacingAndGlyphs">NM</text><text x="275.3" y="663" textLength="8.69514" lengthAdjust="spacingAndGlyphs">ND</text><text x="273.8" y="692.1" textLength="8.3631" lengthAdjust="spacingAndGlyphs">SD</text><text x="267.4" y="722" textLength="8.3631" lengthAdjust="spacingAndGlyphs">NE</text><text x="288.8" y="751.8" textLength="8.03106" lengthAdjust="spacingAndGlyphs">KS</text><text x="295.2" y="783.8" textLength="8.69796" lengthAdjust="spacingAndGlyphs">OK</text><text x="316.4" y="676.1" textLength="9.36251" lengthAdjust="spacingAndGlyphs">MN</text><text x="325.3" y="715.9" textLength="5.68796" lengthAdjust="spacingAndGlyphs">IA</text><text x="348.3" y="690" textLength="7.35428" lengthAdjust="spacingAndGlyphs">WI</text><text x="388.9" y="703.5" textLength="6.68737" lengthAdjust="spacingAndGlyphs">MI</text><text x="359" y="734.1" textLength="5.02059" lengthAdjust="spacingAndGlyphs">IL</text><text x="381.8" y="734.1" textLength="6.02" lengthAdjust="spacingAndGlyphs">IN</text><text x="405.2" y="728.4" textLength="9.03" lengthAdjust="spacingAndGlyphs">OH</text><text x="335.5" y="754" textLength="9.69737" lengthAdjust="spacingAndGlyphs">MO</text><text x="396" y="756.8" textLength="8.03106" lengthAdjust="spacingAndGlyphs">KY</text><text x="422.3" y="742.6" textLength="9.69737" lengthAdjust="spacingAndGlyphs">WV</text><text x="447.1" y="748.7" textLength="7.58426" lengthAdjust="spacingAndGlyphs">VA</text><text x="444.6" y="715.1" textLength="7.58426" lengthAdjust="spacingAndGlyphs">PA</text><text x="458" y="691.7" textLength="8.3631" lengthAdjust="spacingAndGlyphs">NY</text><text x="465.5" y="715.6" textLength="7.35757" lengthAdjust="spacingAndGlyphs">NJ</text><text x="466.3" y="666.5" textLength="7.6929" lengthAdjust="spacingAndGlyphs">VT</text><text x="475.5" y="674.5" textLength="8.69514" lengthAdjust="spacingAndGlyphs">NH</text><text x="488.4" y="653.7" textLength="9.03047" lengthAdjust="spacingAndGlyphs">ME</text><text x="480.5" y="684.7" textLength="9.03047" lengthAdjust="spacingAndGlyphs">MA</text><text x="475.8" y="694.3" textLength="8.02494" lengthAdjust="spacingAndGlyphs">CT</text><text x="385.3" y="775.3" textLength="8.02494" lengthAdjust="spacingAndGlyphs">TN</text><text x="444.3" y="768.4" textLength="8.69514" lengthAdjust="spacingAndGlyphs">NC</text><text x="335.5" y="787.4" textLength="8.3631" lengthAdjust="spacingAndGlyphs">AR</text><text x="432.2" y="788.8" textLength="8.3631" lengthAdjust="spacingAndGlyphs">SC</text><text x="359.7" y="805.2" textLength="9.03047" lengthAdjust="spacingAndGlyphs">MS</text><text x="384.6" y="805.2" textLength="7.36368" lengthAdjust="spacingAndGlyphs">AL</text><text x="413.7" y="805.2" textLength="8.69796" lengthAdjust="spacingAndGlyphs">GA</text><text x="336.3" y="816.5" textLength="7.36368" lengthAdjust="spacingAndGlyphs">LA</text><text x="438.6" y="853.5" textLength="7.02553" lengthAdjust="spacingAndGlyphs">FL</text><text x="278.8" y="818.7" textLength="7.6929" lengthAdjust="spacingAndGlyphs">TX</text><text x="126.7" y="845.7" textLength="8.03106" lengthAdjust="spacingAndGlyphs">AK</text><text x="222" y="870.5" textLength="6.02" lengthAdjust="spacingAndGlyphs">HI</text><text x="497.5" y="710.7" textLength="6.02" lengthAdjust="spacingAndGlyphs">RI</text><text x="497.5" y="729.1" textLength="8.3631" lengthAdjust="spacingAndGlyphs">DE</text><text x="497.5" y="747.6" textLength="9.36251" lengthAdjust="spacingAndGlyphs">MD</text></g></svg>
<div style="left:104.5px;top:2148.7px;width:7.2px;height:7.2px;background:#959595;"></div>
<span style="left:115.00px;top:2149.00px;font-size:8px;line-height:8px;color:#333;transform:scaleX(0.9490);transform-origin:0 0;">Noch nicht ausgezählt</span>
<div style="left:198px;top:2148.7px;width:7.2px;height:7.2px;background:#0039c8;"></div>
<span style="left:208.50px;top:2149.00px;font-size:8px;line-height:8px;color:#333;transform:scaleX(0.9822);transform-origin:0 0;">Demokraten</span>
<div style="left:259.7px;top:2148.7px;width:7.2px;height:7.2px;background:#4f86f7;"></div>
<span style="left:270.20px;top:2149.00px;font-size:8px;line-height:8px;color:#333;transform:scaleX(0.8541);transform-origin:0 0;">Dem führend</span>
<svg style="left:315.4px;top:2148.7px" width="7.2" height="7.2"><defs><pattern id="st2" width="4.2" height="4.2" patternUnits="userSpaceOnUse" patternTransform="rotate(-45)"><rect width="4.2" height="4.2" fill="#4f86f7"/><rect width="4.2" height="2.1" fill="#f45b6f"/></pattern></defs><rect width="7.5" height="7.5" fill="url(#st2)"/></svg>
<span style="left:325.90px;top:2149.00px;font-size:8px;line-height:8px;color:#333;transform:scaleX(1.1338);transform-origin:0 0;">Gleichstand</span>
<div style="left:383.1px;top:2148.7px;width:7.2px;height:7.2px;background:#f45b6f;"></div>
<span style="left:393.60px;top:2149.00px;font-size:8px;line-height:8px;color:#333;transform:scaleX(0.9266);transform-origin:0 0;">Rep führend</span>
<div style="left:442.3px;top:2148.7px;width:7.2px;height:7.2px;background:#ad1626;"></div>
<span style="left:452.80px;top:2149.00px;font-size:8px;line-height:8px;color:#333;transform:scaleX(0.9185);transform-origin:0 0;">Republikaner</span>
<div style="left:47px;top:2162.6px;width:505.5px;height:1px;background:#e6e6e6;"></div>
<span style="left:47.30px;top:2168.00px;font-size:6.9px;line-height:6.9px;color:#333;transform:scaleX(0.9407);transform-origin:0 0;">Quelle: NEP/Edison via Reuters</span>
</section>
<section aria-label="Wahl des Senats">
<span style="left:216.32px;top:2223.00px;font-size:18px;line-height:18px;color:#1e5b94;transform:scaleX(0.9741);transform-origin:50% 0;">WAHL DES SENATS</span>
<svg style="left:80px;top:2250px" width="140" height="125" viewBox="80 2250 140 125"><circle cx="88.2" cy="2264.5" r="2.7" fill="#fff" stroke="#0039c8" stroke-width="1.5"/><circle cx="88.2" cy="2275.5" r="2.7" fill="#fff" stroke="#0039c8" stroke-width="1.5"/><circle cx="88.2" cy="2286.5" r="2.7" fill="#fff" stroke="#0039c8" stroke-width="1.5"/><circle cx="88.2" cy="2297.5" r="2.7" fill="#fff" stroke="#0039c8" stroke-width="1.5"/><circle cx="88.2" cy="2308.5" r="2.7" fill="#fff" stroke="#0039c8" stroke-width="1.5"/><circle cx="88.2" cy="2319.5" r="2.7" fill="#fff" stroke="#0039c8" stroke-width="1.5"/><circle cx="88.2" cy="2330.5" r="2.7" fill="#fff" stroke="#0039c8" stroke-width="1.5"/><circle cx="88.2" cy="2341.5" r="2.7" fill="#fff" stroke="#0039c8" stroke-width="1.5"/><circle cx="88.2" cy="2352.5" r="2.7" fill="#fff" stroke="#0039c8" stroke-width="1.5"/><circle cx="88.2" cy="2363.5" r="2.7" fill="#fff" stroke="#0039c8" stroke-width="1.5"/><circle cx="101.77" cy="2264.5" r="2.7" fill="#fff" stroke="#0039c8" stroke-width="1.5"/><circle cx="101.77" cy="2275.5" r="2.7" fill="#fff" stroke="#0039c8" stroke-width="1.5"/><circle cx="101.77" cy="2286.5" r="2.7" fill="#fff" stroke="#0039c8" stroke-width="1.5"/><circle cx="101.77" cy="2297.5" r="2.7" fill="#fff" stroke="#0039c8" stroke-width="1.5"/><circle cx="101.77" cy="2308.5" r="2.7" fill="#fff" stroke="#0039c8" stroke-width="1.5"/><circle cx="101.77" cy="2319.5" r="2.7" fill="#fff" stroke="#0039c8" stroke-width="1.5"/><circle cx="101.77" cy="2330.5" r="2.7" fill="#fff" stroke="#0039c8" stroke-width="1.5"/><circle cx="101.77" cy="2341.5" r="2.7" fill="#fff" stroke="#0039c8" stroke-width="1.5"/><circle cx="101.77" cy="2352.5" r="2.7" fill="#fff" stroke="#0039c8" stroke-width="1.5"/><circle cx="101.77" cy="2363.5" r="2.7" fill="#fff" stroke="#0039c8" stroke-width="1.5"/><circle cx="115.34" cy="2264.5" r="2.7" fill="#fff" stroke="#0039c8" stroke-width="1.5"/><circle cx="115.34" cy="2275.5" r="2.7" fill="#fff" stroke="#0039c8" stroke-width="1.5"/><circle cx="115.34" cy="2286.5" r="2.7" fill="#fff" stroke="#0039c8" stroke-width="1.5"/><circle cx="115.34" cy="2297.5" r="2.7" fill="#fff" stroke="#0039c8" stroke-width="1.5"/><circle cx="115.34" cy="2308.5" r="2.7" fill="#fff" stroke="#0039c8" stroke-width="1.5"/><circle cx="115.34" cy="2319.5" r="2.7" fill="#fff" stroke="#0039c8" stroke-width="1.5"/><circle cx="115.34" cy="2330.5" r="2.7" fill="#fff" stroke="#0039c8" stroke-width="1.5"/><circle cx="115.34" cy="2341.5" r="2.7" fill="#fff" stroke="#0039c8" stroke-width="1.5"/><circle cx="115.34" cy="2352.5" r="4.2" fill="#0039c8"/><circle cx="115.34" cy="2363.5" r="4.2" fill="#0039c8"/><circle cx="128.91" cy="2264.5" r="4.2" fill="#0039c8"/><circle cx="128.91" cy="2275.5" r="4.2" fill="#0039c8"/><circle cx="128.91" cy="2286.5" r="4.2" fill="#0039c8"/><circle cx="128.91" cy="2297.5" r="4.2" fill="#0039c8"/><circle cx="128.91" cy="2308.5" r="4.2" fill="#0039c8"/><circle cx="128.91" cy="2319.5" r="4.2" fill="#0039c8"/><circle cx="128.91" cy="2330.5" r="4.2" fill="#0039c8"/><circle cx="128.91" cy="2341.5" r="4.2" fill="#0039c8"/><circle cx="128.91" cy="2352.5" r="4.2" fill="#0039c8"/><circle cx="128.91" cy="2363.5" r="4.2" fill="#0039c8"/><circle cx="142.48" cy="2264.5" r="4.2" fill="#0039c8"/><circle cx="142.48" cy="2275.5" r="3.1" fill="#e2e2e2"/><circle cx="142.48" cy="2286.5" r="3.1" fill="#e2e2e2"/><circle cx="142.48" cy="2297.5" r="3.1" fill="#e2e2e2"/><circle cx="142.48" cy="2308.5" r="3.1" fill="#e2e2e2"/><circle cx="142.48" cy="2319.5" r="3.1" fill="#e2e2e2"/><circle cx="142.48" cy="2330.5" r="3.1" fill="#e2e2e2"/><circle cx="142.48" cy="2341.5" r="3.1" fill="#e2e2e2"/><circle cx="142.48" cy="2352.5" r="3.1" fill="#e2e2e2"/><circle cx="142.48" cy="2363.5" r="3.1" fill="#e2e2e2"/><circle cx="156.05" cy="2264.5" r="4.2" fill="#d61f27"/><circle cx="156.05" cy="2275.5" r="4.2" fill="#d61f27"/><circle cx="156.05" cy="2286.5" r="4.2" fill="#d61f27"/><circle cx="156.05" cy="2297.5" r="4.2" fill="#d61f27"/><circle cx="156.05" cy="2308.5" r="4.2" fill="#d61f27"/><circle cx="156.05" cy="2319.5" r="4.2" fill="#d61f27"/><circle cx="156.05" cy="2330.5" r="4.2" fill="#d61f27"/><circle cx="156.05" cy="2341.5" r="4.2" fill="#d61f27"/><circle cx="156.05" cy="2352.5" r="4.2" fill="#d61f27"/><circle cx="156.05" cy="2363.5" r="4.2" fill="#d61f27"/><circle cx="169.62" cy="2264.5" r="4.2" fill="#d61f27"/><circle cx="169.62" cy="2275.5" r="4.2" fill="#d61f27"/><circle cx="169.62" cy="2286.5" r="2.7" fill="#fff" stroke="#d61f27" stroke-width="1.5"/><circle cx="169.62" cy="2297.5" r="2.7" fill="#fff" stroke="#d61f27" stroke-width="1.5"/><circle cx="169.62" cy="2308.5" r="2.7" fill="#fff" stroke="#d61f27" stroke-width="1.5"/><circle cx="169.62" cy="2319.5" r="2.7" fill="#fff" stroke="#d61f27" stroke-width="1.5"/><circle cx="169.62" cy="2330.5" r="2.7" fill="#fff" stroke="#d61f27" stroke-width="1.5"/><circle cx="169.62" cy="2341.5" r="2.7" fill="#fff" stroke="#d61f27" stroke-width="1.5"/><circle cx="169.62" cy="2352.5" r="2.7" fill="#fff" stroke="#d61f27" stroke-width="1.5"/><circle cx="169.62" cy="2363.5" r="2.7" fill="#fff" stroke="#d61f27" stroke-width="1.5"/><circle cx="183.19" cy="2264.5" r="2.7" fill="#fff" stroke="#d61f27" stroke-width="1.5"/><circle cx="183.19" cy="2275.5" r="2.7" fill="#fff" stroke="#d61f27" stroke-width="1.5"/><circle cx="183.19" cy="2286.5" r="2.7" fill="#fff" stroke="#d61f27" stroke-width="1.5"/><circle cx="183.19" cy="2297.5" r="2.7" fill="#fff" stroke="#d61f27" stroke-width="1.5"/><circle cx="183.19" cy="2308.5" r="2.7" fill="#fff" stroke="#d61f27" stroke-width="1.5"/><circle cx="183.19" cy="2319.5" r="2.7" fill="#fff" stroke="#d61f27" stroke-width="1.5"/><circle cx="183.19" cy="2330.5" r="2.7" fill="#fff" stroke="#d61f27" stroke-width="1.5"/><circle cx="183.19" cy="2341.5" r="2.7" fill="#fff" stroke="#d61f27" stroke-width="1.5"/><circle cx="183.19" cy="2352.5" r="2.7" fill="#fff" stroke="#d61f27" stroke-width="1.5"/><circle cx="183.19" cy="2363.5" r="2.7" fill="#fff" stroke="#d61f27" stroke-width="1.5"/><circle cx="196.76" cy="2264.5" r="2.7" fill="#fff" stroke="#d61f27" stroke-width="1.5"/><circle cx="196.76" cy="2275.5" r="2.7" fill="#fff" stroke="#d61f27" stroke-width="1.5"/><circle cx="196.76" cy="2286.5" r="2.7" fill="#fff" stroke="#d61f27" stroke-width="1.5"/><circle cx="196.76" cy="2297.5" r="2.7" fill="#fff" stroke="#d61f27" stroke-width="1.5"/><circle cx="196.76" cy="2308.5" r="2.7" fill="#fff" stroke="#d61f27" stroke-width="1.5"/><circle cx="196.76" cy="2319.5" r="2.7" fill="#fff" stroke="#d61f27" stroke-width="1.5"/><circle cx="196.76" cy="2330.5" r="2.7" fill="#fff" stroke="#d61f27" stroke-width="1.5"/><circle cx="196.76" cy="2341.5" r="2.7" fill="#fff" stroke="#d61f27" stroke-width="1.5"/><circle cx="196.76" cy="2352.5" r="2.7" fill="#fff" stroke="#d61f27" stroke-width="1.5"/><circle cx="196.76" cy="2363.5" r="2.7" fill="#fff" stroke="#d61f27" stroke-width="1.5"/><circle cx="210.33" cy="2264.5" r="2.7" fill="#fff" stroke="#d61f27" stroke-width="1.5"/><circle cx="210.33" cy="2275.5" r="2.7" fill="#fff" stroke="#d61f27" stroke-width="1.5"/><circle cx="210.33" cy="2286.5" r="2.7" fill="#fff" stroke="#d61f27" stroke-width="1.5"/><circle cx="210.33" cy="2297.5" r="2.7" fill="#fff" stroke="#d61f27" stroke-width="1.5"/><circle cx="210.33" cy="2308.5" r="2.7" fill="#fff" stroke="#d61f27" stroke-width="1.5"/><circle cx="210.33" cy="2319.5" r="2.7" fill="#fff" stroke="#d61f27" stroke-width="1.5"/><circle cx="210.33" cy="2330.5" r="2.7" fill="#fff" stroke="#d61f27" stroke-width="1.5"/><circle cx="210.33" cy="2341.5" r="2.7" fill="#fff" stroke="#d61f27" stroke-width="1.5"/><circle cx="210.33" cy="2352.5" r="2.7" fill="#fff" stroke="#d61f27" stroke-width="1.5"/><circle cx="210.33" cy="2363.5" r="2.7" fill="#fff" stroke="#d61f27" stroke-width="1.5"/><path d="M149.2,2256V2371" stroke="#555" stroke-width=".8" stroke-dasharray="1 1"/></svg>
<span style="left:133.44px;top:2386.00px;font-size:8px;line-height:8px;color:#333;transform:scaleX(1.0763);transform-origin:50% 0;">Mehrheit</span>
<svg style="left:240px;top:2266.1px" width="330" height="70" viewBox="240 1525 330 70"><circle cx="299.9" cy="1560.9" r="24.4" fill="#fff" stroke="#0039c8" stroke-width="5.8"/><path d="M289.9,1551.6h10.6a9.3,9.3 0 0 1 0,18.6h-10.6Zm5.8,4.7v9.2h4.2a4.6,4.6 0 0 0 0,-9.2Z" fill="#0039c8" fill-rule="evenodd"/><text x="400.8" y="1584.3" font-size="68" font-weight="700" fill="#cfcfcf" text-anchor="middle" textLength="31" lengthAdjust="spacingAndGlyphs">?</text><rect x="452.3" y="1537.8" width="100.1" height="44.8" fill="#d8132b"/><text x="463.5" y="1570.2" font-size="27.5" font-weight="700" fill="#fff" textLength="67" lengthAdjust="spacingAndGlyphs">GOP</text><circle cx="537.3" cy="1567.3" r="4.4" fill="#fff"/><path d="M534.6,1569.6v-2.6a2.7,2.5 0 0 1 5.4,0v2.6h-1.3v-1.4h-2.8v1.4Z" fill="#d8132b"/></svg>
<div style="left:249.5px;top:2335px;width:303px;height:1px;background:#e6e6e6;"></div>
<div style="left:249.5px;top:2363px;width:303px;height:1px;background:#e6e6e6;"></div>
<span style="left:290.17px;top:2342.00px;font-size:17.5px;line-height:17.5px;color:#333;transform:scaleX(1.0600);transform-origin:50% 0;">41</span>
<span style="left:278.11px;top:2370.00px;font-size:8px;line-height:8px;color:#333;">Demokraten</span>
<span style="left:395.93px;top:2342.00px;font-size:17.5px;line-height:17.5px;color:#333;transform:scaleX(1.0600);transform-origin:50% 0;">9</span>
<span style="left:391.09px;top:2370.00px;font-size:8px;line-height:8px;color:#333;">Offen</span>
<span style="left:492.27px;top:2342.00px;font-size:17.5px;line-height:17.5px;color:#333;transform:scaleX(1.0600);transform-origin:50% 0;">50</span>
<span style="left:493.11px;top:2370.00px;font-size:8px;line-height:8px;color:#333;">GOP</span>
<div style="left:47px;top:2400.4px;width:505.5px;height:1px;background:#e6e6e6;"></div>
<div style="left:46.9px;top:2408.4px;width:26.4px;height:13.3px;background:#0f5a9c;border-radius:1.5px"></div>
<span style="left:50.87px;top:2411.00px;font-size:8.3px;line-height:8.3px;color:#fff;transform:scaleX(0.9477);transform-origin:50% 0;">2024</span>
<div style="left:77.35px;top:2408.4px;width:26.4px;height:13.3px;background:#e8e8e8;border-radius:1.5px"></div>
<span style="left:81.32px;top:2411.00px;font-size:8.3px;line-height:8.3px;color:#333;transform:scaleX(0.9477);transform-origin:50% 0;">2022</span>
<div style="left:107.8px;top:2408.4px;width:26.4px;height:13.3px;background:#e8e8e8;border-radius:1.5px"></div>
<span style="left:111.77px;top:2411.00px;font-size:8.3px;line-height:8.3px;color:#333;transform:scaleX(0.9477);transform-origin:50% 0;">2020</span>
<div style="left:138.25px;top:2408.4px;width:26.4px;height:13.3px;background:#e8e8e8;border-radius:1.5px"></div>
<span style="left:142.22px;top:2411.00px;font-size:8.3px;line-height:8.3px;color:#333;transform:scaleX(0.9477);transform-origin:50% 0;">2018</span>
<div style="left:168.7px;top:2408.4px;width:26.4px;height:13.3px;background:#e8e8e8;border-radius:1.5px"></div>
<span style="left:172.67px;top:2411.00px;font-size:8.3px;line-height:8.3px;color:#333;transform:scaleX(0.9477);transform-origin:50% 0;">2016</span>
<span style="left:454.20px;top:2413.00px;font-size:6.9px;line-height:6.9px;color:#333;transform:scaleX(0.9407);transform-origin:100% 0;">Quelle: NEP/Edison via Reuters</span>
<span style="left:132.30px;top:2460.00px;font-size:12.6px;line-height:12.6px;color:#1e5b94;transform:scaleX(0.9839);transform-origin:0 0;">Ergebnisse der Senatswahl in den Bundesstaaten</span>
<span style="left:131.90px;top:2484.00px;font-size:9.5px;line-height:9.5px;color:#333;transform:scaleX(1.0218);transform-origin:0 0;-webkit-text-stroke:.22px #333;">Etwa ein Drittel der 100 Senatssitze wird alle zwei Jahre neu gewählt. Jeder</span>
<span style="left:131.90px;top:2496.00px;font-size:9.5px;line-height:9.5px;color:#333;transform:scaleX(0.9936);transform-origin:0 0;-webkit-text-stroke:.22px #333;">Bundesstaat entsendet zwei Senatorinnen oder Senatoren in diese</span>
<span style="left:131.90px;top:2509.00px;font-size:9.5px;line-height:9.5px;color:#333;transform:scaleX(1.0196);transform-origin:0 0;-webkit-text-stroke:.22px #333;">Kongresskammer. Die Mehrheitsverhältnisse im Senat spielen für die</span>
<span style="left:131.90px;top:2522.00px;font-size:9.5px;line-height:9.5px;color:#333;-webkit-text-stroke:.22px #333;">jeweilige Präsidentschaft eine große Rolle bei vielen</span>
<span style="left:131.90px;top:2535.00px;font-size:9.5px;line-height:9.5px;color:#333;transform:scaleX(1.0117);transform-origin:0 0;-webkit-text-stroke:.22px #333;">Gesetzgebungsvorhaben. Wie sehen die Ergebnisse der Wahlen um die</span>
<span style="left:131.90px;top:2548.00px;font-size:9.5px;line-height:9.5px;color:#333;transform:scaleX(1.0605);transform-origin:0 0;-webkit-text-stroke:.22px #333;">Senatssitze 2024 in den Bundesstaaten aus?</span>
<span style="left:48.30px;top:2577.00px;font-size:11px;line-height:11px;color:#1a568f;font-weight:700;transform:scaleX(0.9898);transform-origin:0 0;">Senat 2024</span>
<svg style="left:0;top:2580.3px" width="600" height="300" viewBox="0 600 600 300"><g stroke="rgba(255,255,255,.68)" stroke-width="0.5" stroke-linejoin="round"><path d="M165.4,634.3L158,632.7L150.7,631L143.3,629.2L136,627.3L128.8,625.4L129.9,628.3L129.1,631.7L129.6,635L128,639.7L126.5,642.4L123.5,643.1L123.2,640.4L123.4,637.2L121,634.8L117.4,631.5L115.1,628.5L114,632.5L114,638.3L114.2,642.5L114,645.5L112.8,649.4L116.5,650.4L118.2,652L120,653L120,655.6L119.7,657.6L120.3,658.2L122.6,659.4L125.6,658.9L128.4,659.2L130.1,660.9L134.1,660.6L137.2,661.4L141.7,660.5L145.9,660.7L159.9,663.8L160,659.6Z" fill="#0039c8"/><path d="M112.8,649.4L116.5,650.4L118.2,652L120,653L120,655.6L119.7,657.6L120.3,658.2L122.6,659.4L125.6,658.9L128.4,659.2L130.1,660.9L134.1,660.6L137.2,661.4L141.7,660.5L145.9,660.7L159.9,663.8L161,666.1L162.2,668.4L161,671.2L158.2,674.1L154.8,678.5L154.3,679.9L156,680.8L155.7,682.9L154.7,684.8L151,702.5L140.3,700.2L129.6,697.6L121.9,695.7L114.2,693.6L106.5,691.5L98.9,689.2L99.1,685.2L99.6,680.8L101.2,678.5L102.9,676L104.6,673.4L107.8,665L109,662.2L110.4,659.5L112.5,652.9Z" fill="#8e8e8e"/><path d="M98.9,689.2L106.5,691.5L114.2,693.6L121.9,695.7L129.6,697.6L122.5,726.5L155.8,774.2L155.9,776.2L156.8,779.9L158.5,781.7L155.7,783.5L154.6,785.1L154.4,787.6L152.1,789.7L151.8,793.4L153.4,794.5L150.9,796.4L130.8,794.3L130,792.4L130.5,788.4L127.4,783.1L125.3,781L122.9,780.1L122.7,777.5L120.3,776.9L117.4,774.7L114,771.4L108,769.4L107.4,766.1L108.3,762.2L107.1,759.7L104.4,756.1L101.4,748.6L101.8,745.7L103.5,744.1L102.3,742.2L99.8,739.5L99.7,735.9L100.6,733L97.5,730.1L97.8,726.1L94.9,719.5L95.7,714.1L95,708.4L94,703.9L97.1,700.1L99,694.4L98.7,691.5Z" fill="#0039c8"/><path d="M129.6,697.6L140.3,700.2L151,702.5L161.7,704.7L172.6,706.7L163.9,755.5L162.6,763.3L159.6,763.3L156.8,763.7L156.7,768.3L156.5,772.8L155.8,774.2L122.5,726.5Z" fill="#8e8e8e"/><path d="M165.4,634.3L171.7,635.6L169.7,645.5L171,651.3L174.3,655.5L175.3,657.4L176.9,660.8L177.7,663.2L176.7,667.1L175.3,670.9L176.8,672.4L179.5,670.7L180.2,672.8L181.4,678.3L182.8,680.2L184.1,684L185.3,685.1L189.1,683.7L194.7,684.7L195.1,683.1L197.7,685.9L194.3,710.2L183.4,708.5L172.6,706.7L161.7,704.7L151,702.5L154.7,684.8L155.7,682.9L156,680.8L154.3,679.9L154.8,678.5L158.2,674.1L161,671.2L162.2,668.4L161,666.1L159.9,663.8L160,659.6Z" fill="#c6c6c6"/><path d="M171.7,635.6L178.1,636.9L184.6,638.1L191.1,639.2L197.6,640.2L204.1,641.2L210.6,642.1L217.1,642.9L223.7,643.6L230.2,644.3L236.8,644.9L243.3,645.4L249.9,645.9L248,676.4L247.4,685.7L240.4,685.2L233.4,684.7L226.4,684L219.4,683.3L212.4,682.5L205.4,681.7L198.5,680.7L197.7,685.9L195.1,683.1L194.7,684.7L189.1,683.7L185.3,685.1L184.1,684L182.8,680.2L181.4,678.3L180.2,672.8L179.5,670.7L176.8,672.4L175.3,670.9L176.7,667.1L177.7,663.2L176.9,660.8L175.3,657.4L174.3,655.5L171,651.3L169.7,645.5Z" fill="#8e8e8e"/><path d="M197.7,685.9L198.5,680.7L205.4,681.7L212.4,682.5L219.4,683.3L226.4,684L233.4,684.7L240.4,685.2L247.4,685.7L246.2,705.5L244.9,725.3L237.5,724.8L230,724.2L222.6,723.5L215.1,722.8L207.7,721.9L200.3,721L192.9,720L194.3,710.2Z" fill="#b41a26"/><path d="M172.6,706.7L183.4,708.5L194.3,710.2L192.9,720L200.3,721L207.7,721.9L203,761.2L193.2,760L183.4,758.6L173.7,757.1L163.9,755.5Z" fill="#b41a26"/><path d="M207.7,721.9L215.1,722.8L222.6,723.5L230,724.2L237.5,724.8L244.9,725.3L252.4,725.7L259.9,726.1L259.5,735.9L258.3,765.6L250.8,765.3L242.8,764.9L234.8,764.3L226.9,763.7L218.9,763L211,762.1L203,761.2Z" fill="#c6c6c6"/><path d="M163.9,755.5L173.7,757.1L183.4,758.6L193.2,760L203,761.2L196.3,817.3L179.2,815.1L149.8,798.5L150.9,796.4L153.4,794.5L151.8,793.4L152.1,789.7L154.4,787.6L154.6,785.1L155.7,783.5L158.5,781.7L156.8,779.9L155.9,776.2L155.8,774.2L156.5,772.8L156.7,768.3L156.8,763.7L159.6,763.3L162.6,763.3Z" fill="#8e8e8e"/><path d="M203,761.2L211,762.1L218.9,763L226.9,763.7L234.8,764.3L242.8,764.9L250.8,765.3L250.5,770.3L247.7,815L237.7,814.4L227.6,813.7L217.6,812.8L218.2,815.1L204,813.6L203.5,818.1L196.3,817.3Z" fill="#0039c8"/><path d="M249.9,645.9L257.4,646.3L264.8,646.6L272.3,646.8L279.8,647L287.3,647L294.7,647L295.5,655L296.1,657.9L297.5,663.9L298.1,668.2L299.5,674.2L299.8,677.4L292.4,677.5L285,677.6L277.6,677.5L270.2,677.4L262.8,677.1L255.4,676.8L248,676.4Z" fill="#b41a26"/><path d="M248,676.4L255.4,676.8L262.8,677.1L270.2,677.4L277.6,677.5L285,677.6L292.4,677.5L299.8,677.4L298.9,679.3L297.9,680.9L300.7,683.8L301.1,701.6L300.4,702.7L300.7,703.6L301.1,706.1L300.1,709.1L301.4,711.7L299.5,710.6L297.3,709.2L294.4,708L290,709L286.4,706.8L278.3,706.7L270.3,706.6L262.2,706.3L254.2,706L246.2,705.5L247.4,685.7Z" fill="#8e8e8e"/><path d="M246.2,705.5L254.2,706L262.2,706.3L270.3,706.6L278.3,706.7L286.4,706.8L290,709L294.4,708L297.3,709.2L299.5,710.6L301.4,711.7L302.5,714.5L304.1,718.4L305.1,721.4L305.9,723.3L305.6,724.1L306.2,727.3L306.9,730.4L308.7,733.6L310.6,736.1L302,736.3L293.5,736.5L285,736.5L276.5,736.4L268,736.2L259.5,735.9L259.9,726.1L252.4,725.7L244.9,725.3Z" fill="#8e8e8e"/><path d="M259.5,735.9L268,736.2L276.5,736.4L285,736.5L293.5,736.5L302,736.3L310.6,736.1L313,737.5L313.9,738.2L312.3,740.4L314,742.9L316.3,744.6L317.1,765.5L308.7,765.9L300.3,766.1L291.9,766.2L283.5,766.2L275.1,766.1L266.7,765.9L258.3,765.6Z" fill="#c6c6c6"/><path d="M250.8,765.3L258.3,765.6L266.7,765.9L275.1,766.1L283.5,766.2L291.9,766.2L300.3,766.1L308.7,765.9L317.1,765.5L317.3,770.5L319.3,781.3L319.7,798.8L315.3,796.9L311.2,796.8L307,797.2L302.5,797.6L297.6,798.7L297.1,796.9L290.9,797.2L289.7,795L285.5,794.5L280.6,794L276.5,792L274.1,790.3L274.4,771.1L266.4,770.9L258.5,770.6L250.5,770.3Z" fill="#c6c6c6"/><path d="M250.5,770.3L258.5,770.6L266.4,770.9L274.4,771.1L274.1,790.3L276.5,792L280.6,794L285.5,794.5L289.7,795L290.9,797.2L297.1,796.9L297.6,798.7L302.5,797.6L307,797.2L311.2,796.8L315.3,796.9L319.7,798.8L323.4,799.6L323.7,804.8L324.2,815.1L326,818.4L328.3,822.8L328.9,825.8L327.7,829.9L328.1,833.9L326.5,837L327.1,838.1L322.2,839.7L319.3,842.4L313.7,847.1L305.5,851.9L300.6,855L298,860.1L296.3,866.2L298.7,876.8L296.5,878L294.6,878L289.1,876L280.9,872.4L277.8,866.3L277.4,861.2L270.3,853.5L268.7,848.9L267.4,844.8L264.9,842.2L261.1,837.9L253.2,836.6L249.9,837.8L248.2,842.1L245.4,845.3L239.8,842L234.8,838.8L232.5,833.1L230.3,827.4L225.5,822.7L220.7,818.6L218.2,815.1L217.6,812.8L227.6,813.7L237.7,814.4L247.7,815Z" fill="#b41a26"/><path d="M330.1,667.9L333.9,664.2L337.6,659.3L343.3,655.8L345.8,654.1L343.1,653.3L337.6,652.3L333.8,654.4L329.6,652.4L326.6,651.7L322.8,649.9L320.1,650.1L316.1,649.8L312.2,649.3L311.4,647L310.5,643.5L308.3,642.8L308.4,646.6L294.7,647L295.5,655L296.1,657.9L297.5,663.9L298.1,668.2L299.5,674.2L299.8,677.4L298.9,679.3L297.9,680.9L300.7,683.8L301.1,701.6L308.6,701.4L316.2,701.1L323.7,700.7L331.2,700.2L338.7,699.7L338.1,696.7L335.2,694.5L332.3,691.4L328.4,689.8L326.9,688.1L326.6,682.6L325.3,678.7L329.2,674.5L328.8,668.9Z" fill="#0039c8"/><path d="M301.1,701.6L308.6,701.4L316.2,701.1L323.7,700.7L331.2,700.2L338.7,699.7L339.2,703.6L340.5,707L343.7,709.2L345.7,711.5L347.6,712.8L347.7,715.3L346.7,717.9L345.3,719L341.6,720.1L341.4,722.3L341.8,726.3L340.2,728.1L339.7,730.6L337.2,728.6L329.6,729.1L322.1,729.6L314.5,730L306.9,730.4L306.2,727.3L305.6,724.1L305.9,723.3L305.1,721.4L304.1,718.4L302.5,714.5L301.4,711.7L300.1,709.1L301.1,706.1L300.7,703.6L300.4,702.7Z" fill="#c6c6c6"/><path d="M306.9,730.4L314.5,730L322.1,729.6L329.6,729.1L337.2,728.6L339.7,730.6L340.1,735L340.8,737.3L343.3,740L345.9,742.8L346.8,744.7L348.4,743.9L350.4,744.6L350.7,747L349.7,750.9L351.9,753.2L354.1,754L356.9,756.7L357.1,759.7L358.2,761.5L360.5,762.5L360.2,765.3L358.7,767.5L357.8,769.1L356.9,772.6L351.5,773.2L353.7,770L352.9,768L344,768.8L335.1,769.5L326.2,770L317.3,770.5L317.1,765.5L316.3,744.6L314,742.9L312.3,740.4L313.9,738.2L313,737.5L310.6,736.1L308.7,733.6Z" fill="#b41a26"/><path d="M317.3,770.5L326.2,770L335.1,769.5L344,768.8L352.9,768L353.7,770L351.5,773.2L356.9,772.6L355.4,777.3L354.7,781.5L353,783L351.2,788.1L348.5,792.4L347.6,796.4L347.9,799.4L347.6,803.3L335.6,804.1L323.7,804.8L323.4,799.6L319.7,798.8L319.3,781.3Z" fill="#c6c6c6"/><path d="M323.7,804.8L335.6,804.1L347.6,803.3L350.4,809.7L349,813.4L346.7,818.1L345.3,823.7L361.6,822.3L360.9,825.9L363.2,829.2L364.2,830.3L362.8,831.7L366,833.4L364.2,837.1L367.9,838.8L369.5,841.2L366.5,842.5L361.8,839.9L359.3,841.7L353.3,842.7L349.6,841L345,839L342.3,838L338,838.5L332.6,836.9L327.1,838.1L326.5,837L328.1,833.9L327.7,829.9L328.9,825.8L328.3,822.8L326,818.4L324.2,815.1Z" fill="#c6c6c6"/><path d="M330.1,667.9L328.8,668.9L329.2,674.5L325.3,678.7L326.6,682.6L326.9,688.1L328.4,689.8L332.3,691.4L335.2,694.5L338.1,696.7L338.7,699.7L339.2,703.6L340.5,707L343.7,709.2L354,708.2L364.4,707L364.3,704.6L363.1,701.7L364,698.1L363.5,694.2L364.3,689.1L365.1,684L366.6,679.2L364.5,682L362.5,685.8L360.5,687L360.9,684L362.7,681.4L362.2,681.3L362,680.3L361,679L360.4,677L359.1,674.9L358.2,674.8L357.5,673.4L354.7,673.2L351.1,672.2L344.1,671L341.7,668.8L339,668.2L339.1,665.5L336.1,666.3L330.6,668.4Z" fill="#8e8e8e"/><path d="M343.7,709.2L354,708.2L364.4,707L365.9,710.8L366.6,713.3L367.4,714.7L370.2,737.8L370,741.3L371,744.3L369.6,747.1L368.4,750.4L368.2,753.5L367.5,754.5L367.4,756.8L365.1,758.1L364.5,761.1L360.6,761.8L360.5,762.5L358.2,761.5L357.1,759.7L356.9,756.7L354.1,754L351.9,753.2L349.7,750.9L350.7,747L350.4,744.6L348.4,743.9L346.8,744.7L345.9,742.8L343.3,740L340.8,737.3L340.1,735L339.7,730.6L340.2,728.1L341.8,726.3L341.4,722.3L341.6,720.1L345.3,719L346.7,717.9L347.7,715.3L347.6,712.8L345.7,711.5Z" fill="#c6c6c6"/><path d="M367.4,714.7L369.8,715L372.4,713.4L379.8,712.4L387.1,711.3L387.2,711.9L391.1,737.3L391,740.6L387.4,741.6L385.2,746.5L384,749.4L382.3,749.6L381.1,748.3L379.8,750L377.8,750.8L375.3,752.9L371.5,751.4L369,752.1L368.2,753.5L368.4,750.4L369.6,747.1L371,744.3L370,741.3L370.2,737.8Z" fill="#b41a26"/><path d="M397.1,710L398.5,707L398.7,704L400.3,702.7L402.4,699.8L402.3,696.3L400.5,691.6L399.2,688.1L396.7,686.5L393.8,688.4L390.7,691.8L390.2,688.8L392.8,686.9L393.6,683.2L392.6,677.3L390,674.7L385.4,672.7L381.6,671.8L379.6,673.9L380.6,675.8L378.3,676.7L377.5,678.2L377,682.3L376.4,678.4L373.4,681.8L372.6,684L371.8,691.1L372.7,695L374.9,700.7L375.8,704.5L375.3,708.6L373.7,710.8L372.4,713.4L379.8,712.4L387.1,711.3L397.1,710L387.2,711.9ZM362.7,681.4L364.3,677.5L365.7,674.4L369,675.4L370.6,672.2L375.2,670L379.4,669.9L381.5,670.9L383.9,669.5L387,669.2L388.8,667.9L385,666L383,664.3L381.4,664.8L378.6,662.3L376.3,663.1L371.6,664.3L367.8,667L362.3,666.8L359.8,663.6L356.4,663.5L354.8,665.1L357.4,660.3L359.2,658.6L354.5,659.7L351.5,663L347.7,665.4L344.4,667.4L341.7,668.8L344.1,671L351.1,672.2L354.7,673.2L357.5,673.4L358.2,674.8L359.1,674.9L360.4,677L361,679L362,680.3L362.2,681.3Z" fill="#8e8e8e"/><path d="M387.2,711.9L397.1,710L400.6,710.9L402.7,710.7L403.6,711.7L405.3,711.5L410.2,709.5L412,707.3L414.6,705.3L417.9,703.5L420.5,716.5L420.2,716.7L420.3,719.3L420.2,722.4L420.3,723.9L420,726.7L417.9,729.6L416,729.8L415.4,731.4L414.6,733.3L414.4,734.7L413.8,734.7L413,734.4L412,734.8L411.9,736.1L411.9,736.8L411.8,738.8L411.3,739.9L410.3,740.9L409.1,741.3L408.3,740.2L405.5,738.7L399.9,740.4L395.7,738.6L393.5,737L391.1,737.3Z" fill="#b41a26"/><path d="M360.5,762.5L360.6,761.8L364.5,761.1L365.1,758.1L367.4,756.8L367.5,754.5L368.2,753.5L369,752.1L371.5,751.4L375.3,752.9L377.8,750.8L379.8,750L381.1,748.3L382.3,749.6L384,749.4L385.2,746.5L387.4,741.6L391,740.6L391.1,737.3L393.5,737L395.7,738.6L399.9,740.4L405.5,738.7L408.3,740.2L409.1,741.3L409.5,743.3L410.7,745.6L412.7,747.7L415.5,748.8L413.4,751.6L410.7,754.6L407.7,758.2L403.8,760.4L381.6,763.2L369.2,764.5L369.4,766.3L358.7,767.5L360.2,765.3Z" fill="#c6c6c6"/><path d="M403.8,760.4L381.6,763.2L369.2,764.5L369.4,766.3L358.7,767.5L357.8,769.1L356.9,772.6L355.4,777.3L354.7,781.5L353,783L361.6,782.2L370.1,781.3L380.5,780L391,778.6L401.4,777L403.1,773.9L403.3,772.5L407,770.2L409.1,768.5L411.1,765.7L413.4,764.7L417.5,762.8L419.6,760.1L419.5,757.6L411.7,759Z" fill="#b41a26"/><path d="M370.1,781.3L361.6,782.2L353,783L370.1,781.3L371,782.1L371.2,802.1L371.3,812.2L373.7,827.5L369.8,827.5L366,828.9L364.2,830.3L363.2,829.2L360.9,825.9L361.6,822.3L345.3,823.7L346.7,818.1L349,813.4L350.4,809.7L347.6,803.3L347.9,799.4L347.6,796.4L348.5,792.4L351.2,788.1L353,783Z" fill="#b41a26"/><path d="M391,778.6L380.5,780L370.1,781.3L371,782.1L371.2,802.1L371.3,812.2L373.7,827.5L376.1,827.6L376.3,824.2L377.5,824.1L378,827L379.4,828.1L381.3,827.3L381.7,825.6L381.9,823L379.8,820.2L390.8,818.8L401.9,817.2L400.7,812.3L399.7,808.4L400,807.4L399.8,802.6L397.6,798.9Z" fill="#c6c6c6"/><path d="M401.4,777L391,778.6L397.6,798.9L399.8,802.6L400,807.4L399.7,808.4L400.7,812.3L401.9,817.2L403.5,820L426.3,817.4L428,819.2L427.9,815L432.5,814.8L432.2,810.9L433,806.2L434,802.4L434.7,800.8L432.8,800.8L431.4,798.3L429.3,796.2L427.8,792.9L425.9,791.8L423,788.6L420.8,787L416.9,784.3L414.3,781.2L409.6,778.5L411.1,775.3Z" fill="#c6c6c6"/><path d="M401.9,817.2L390.8,818.8L379.8,820.2L381.9,823L381.7,825.6L381.3,827.3L384,826.5L390,825.2L394.5,825.9L397.2,827L400.3,829.8L400.9,830.8L404,831.1L404.7,829.8L409.1,827L411.9,824.8L415.7,826.7L418.9,829.7L421.4,833.1L425,836.3L426.5,839.6L426,844.8L427.5,848.2L428.8,850L430.6,852.8L434,855.7L435.8,858L438.2,861.2L441.6,864.1L445.9,869L448.7,869L452.7,867.7L453.8,861.7L452.6,851L449,845.5L445.2,838.1L444.7,835.6L440.4,830.3L436,823.5L433.5,817.8L432.5,814.8L427.9,815L428,819.2L426.3,817.4L403.5,820Z" fill="#b41a26"/><path d="M411.1,775.3L416.4,772.3L427.3,770.7L427.5,771.7L428.3,771L430,773.5L439,771.8L450,779L447.5,781.2L446.2,785L445.2,788.3L441.4,792.2L437.8,795.5L436.2,798.4L434.7,800.8L432.8,800.8L431.4,798.3L429.3,796.2L427.8,792.9L425.9,791.8L423,788.6L420.8,787L416.9,784.3L414.3,781.2L409.6,778.5Z" fill="#c6c6c6"/><path d="M419.5,757.6L428.7,756.2L437.8,754.3L446.8,752.3L455.8,750.1L464.8,747.9L465.3,751.3L464,752.2L460.1,754.7L464.8,753.8L467.3,753.9L466.5,757.1L462.7,758.6L459,760.6L462.4,760.5L462.4,762.1L460,764.4L463.3,764.1L465.2,765.2L464.4,767.9L460.5,768.2L457,771.3L454.7,775.4L454.4,777.9L450,779L439,771.8L430,773.5L428.3,771L427.5,771.7L427.3,770.7L416.4,772.3L411.1,775.3L401.4,777L403.1,773.9L403.3,772.5L407,770.2L409.1,768.5L411.1,765.7L413.4,764.7L417.5,762.8L419.6,760.1Z" fill="#c6c6c6"/><path d="M415.5,748.8L413.4,751.6L410.7,754.6L407.7,758.2L403.8,760.4L415.5,748.8L418.4,751.7L421.8,750.6L424.6,749.1L428.5,746.7L428.8,745.3L429.8,741.3L430.7,738.4L431.2,735.1L434.2,736.1L434.8,735.2L436.7,732L438.6,729.2L439.2,725L443.7,726.7L444.1,724.7L445.6,724.9L446.6,726.4L448.4,727L449.5,727.4L450.4,728.6L449.7,730.7L449.1,731.7L449.5,733.3L451.9,733.2L455.3,733.9L458.2,735.8L458.3,738.8L459.2,741.6L460.1,745L463.1,744.7L464.8,747.9L455.8,750.1L446.8,752.3L437.8,754.3L428.7,756.2L419.5,757.6L411.7,759L403.8,760.4ZM461.4,734.4L461.8,738.9L462.3,742.4L464.5,738.2L465.3,733.9L465.8,732.4L462.8,733.5Z" fill="#0039c8"/><path d="M409.1,741.3L410.3,740.9L411.3,739.9L411.8,738.8L411.9,736.8L411.9,736.1L412,734.8L413,734.4L413.8,734.7L414.4,734.7L414.6,733.3L415.4,731.4L416,729.8L417.9,729.6L420,726.7L420.3,723.9L420.2,722.4L420.3,719.3L420.2,716.7L420.5,716.5L422.4,725.5L430.1,723.8L431.1,728.9L432.4,727.6L434.5,725.7L435.6,723.3L438.1,724L438.4,723L439.8,721.9L442.7,722.2L444.1,724.7L443.7,726.7L439.2,725L438.6,729.2L436.7,732L434.8,735.2L434.2,736.1L431.2,735.1L430.7,738.4L429.8,741.3L428.8,745.3L428.5,746.7L424.6,749.1L421.8,750.6L418.4,751.7L415.5,748.8L412.7,747.7L410.7,745.6L409.5,743.3Z" fill="#b41a26"/><path d="M444.1,724.7L442.7,722.2L439.8,721.9L438.4,723L438.1,724L435.6,723.3L434.5,725.7L432.4,727.6L431.1,728.9L430.1,723.8L439.3,721.8L448.4,719.6L457.5,717.3L460.6,729.5L466.2,728L466.2,729L465.8,732.4L462.8,733.5L461.4,734.4L459.8,732.2L457.3,729.8L456.8,726.9L456.2,722.9L456.3,719.3L455.6,721.1L453.8,723.5L454,725.6L454.1,727.6L456,732.2L457.7,734.4L455.3,733.9L451.9,733.2L449.5,733.3L449.1,731.7L449.7,730.7L450.4,728.6L451.2,727.4L449.9,726.6L449.5,727.4L448.4,727L446.6,726.4L445.6,724.9Z" fill="#0039c8"/><path d="M450.4,728.6L449.5,727.4L449.9,726.6L451.2,727.4Z" fill="#c6c6c6"/><path d="M457.5,717.3L457.9,716.4L458.7,715.7L460,715.8L459.5,718L461.4,720.6L462.9,723.2L465,724.7L466.2,728L460.6,729.5Z" fill="#0039c8"/><path d="M422.8,699.6L420.6,701.3L417.9,703.5L420.5,716.5L422.4,725.5L430.1,723.8L439.3,721.8L448.4,719.6L457.5,717.3L457.9,716.4L458.7,715.7L460,715.8L461.8,714.3L464,711.2L463.7,710.7L462,709.5L459.3,706.9L459.1,704.1L460.2,701.4L461.2,699.5L458,697.9L457.4,696L454.9,694.6L447,696.7L439.1,698.6L431.2,700.5L423.3,702.2Z" fill="#8e8e8e"/><path d="M460,715.8L461.8,714.3L464,711.2L463.7,710.7L462,709.5L459.3,706.9L459.1,704.1L460.2,701.4L461.2,699.5L467.9,701.4L467.6,704.5L466.7,706.8L468.6,706.8L469.3,709.2L469.8,713.6L468.7,718.1L465.7,723.2L463,720.6L460.1,718.8Z" fill="#0039c8"/><path d="M460.8,662L451.6,664.7L448,667.4L445.5,672L442.7,675.3L442.6,676.3L444.2,678L445,681.3L443.1,682.6L440.1,685.3L435.9,686.5L429.3,687L425.7,688.9L426.1,690.5L427.6,692.2L426.7,694.9L422.8,699.6L423.3,702.2L431.2,700.5L439.1,698.6L447,696.7L454.9,694.6L457.4,696L458,697.9L461.2,699.5L467.9,701.4L467.8,704.4L468,705.4L469,705.4L473.2,703.6L479.1,699.6L482.3,696.3L480.8,697.5L479.2,696.3L476.9,698.9L473.7,700L469.7,702.2L469.1,703L469.6,700.9L468.8,700L470.3,698.5L469.6,697.8L467.9,690.5L467.6,683.4L465.5,675.7L464.3,675.6L463,669.7Z" fill="#0039c8"/><path d="M469.6,700.9L468.8,700L470.3,698.5L469.6,697.8L467.9,690.5L479.9,687.2L481.2,691.2L481.6,694L478.2,695.5L474.4,696.9L473.2,698.3L472.6,698.7Z" fill="#0039c8"/><path d="M481.6,694L481.2,691.2L479.9,687.2L482.9,686.3L483.6,687.3L485.1,688.9L486.3,690.6L485.4,690.9L483.5,688.9L484.4,691.7L484,692.8Z" fill="#0039c8"/><path d="M467.9,690.5L467.6,683.4L473.3,681.9L481.4,679.7L482,679.1L484.2,677L484.7,678.1L486.4,678.6L485,681.2L484.7,682.8L487.1,683.1L488.9,685.1L489.8,686.6L493.3,685.4L492.2,684.5L490.6,683.1L491.7,682.8L493.3,684.2L494,686.3L490.6,688L489.5,689.4L487.3,689.8L486.3,690.6L485.1,688.9L483.6,687.3L482.9,686.3L479.9,687.2Z" fill="#0039c8"/><path d="M473.2,658.3L460.8,662L463,669.7L464.3,675.6L465.5,675.7L467.6,683.4L473.3,681.9L472.6,679.3L471.8,675.4L471.6,672.4L472.1,668L473.6,664.5L474.1,662.2Z" fill="#7b80b9"/><path d="M475.1,654.6L473.3,656.2L473.2,658.3L474.1,662.2L473.6,664.5L472.1,668L471.6,672.4L471.8,675.4L472.6,679.3L473.3,681.9L481.4,679.7L482,679.1L484.2,677L484.5,674.9L481.6,672.6L481.1,670.7L477.4,660.5Z" fill="#c6c6c6"/><path d="M484.5,674.9L484.8,672.4L486.1,668.3L488.5,666.4L491.4,663.9L492.8,662.4L492.3,659.4L492.8,657.1L494.7,660.1L497.7,658L499.2,655.9L501.9,652.8L503.9,649.7L502.5,647.3L500.6,647.5L499.2,646.6L498.1,643.6L495.5,643.5L494.8,641.3L491,630.6L486.7,629.2L485.2,630.8L482.1,631.3L480.5,630.2L477.9,639.1L478.5,642L478.4,647.3L478.2,648.9L476.8,654.6L475.1,654.6L477.4,660.5L481.1,670.7L481.6,672.6Z" fill="#8e8e8e"/><path d="M163.8,873L162.9,869.8L159.3,869L158.4,867.9L155,864.2L151.8,862L150.5,860.7L147.8,863.9L145.6,861.8L144.4,861L141.5,860.9L136.7,831L134.3,829.8L130.9,829.9L128.1,829.4L124.3,828L122.1,827.6L119.5,826.1L116.7,827.5L113.3,828.9L111.9,830.3L110.3,832.6L107.7,832.4L106.6,834L108.9,836.7L109.5,838.8L111.8,839.5L111.4,841.1L112.4,842.1L109.1,840.5L106.8,840.6L102.8,842.3L104.9,844L104.2,845.6L105.6,846.6L108.9,847.1L111.3,846.8L111.6,848L111.6,849.8L110.4,850.9L109.3,850.6L107.4,851.6L105.2,852.8L103.5,854.4L102.6,855.5L103.5,857.9L103.5,859.4L105,861.9L107.1,861.7L107.8,864.4L107,866.1L109.8,865.7L112.2,867.1L113.2,865.8L115.1,866.8L114.2,870.7L112.1,872.5L108.6,874.9L104.7,876L102.8,877.5L99.8,878L103.4,878.4L106.3,877.6L109.3,876.3L112.4,874.8L116,872.5L118.8,870.1L120.6,868.1L121.6,866.3L121.3,864.7L123.2,862.7L124.5,860.6L126.6,859.3L127.3,859.1L127.1,859.9L125.1,861.2L124.3,863.6L125.1,864.6L124.1,865.7L126.4,865.1L128.2,863.3L129.6,863.1L130.3,860.4L132.7,859.5L134,861.2L136,862.4L138.4,862.1L140.9,862.1L144,863.1L147.1,864.4L149.9,866.1L151.4,868.1L153,869.4L154.6,871.6L157.3,873.9L159.5,875.3L162.4,874.1ZM123.7,870.9L123.4,868.6L121.7,869.6L119.6,870.9L120.4,873.2L122.1,872.8ZM97,879.4L97.2,880.4L95,881.3L93.1,880.8L95.1,879.3ZM90.9,881.6L91.3,882.3L88.7,882L88.8,881.1ZM82.8,881.1L82.9,882L79.7,880.9L79.8,879.9ZM76.4,880L76.5,880.9L74,879.9L74.1,879.1ZM96.4,846.7L100,849.2L98.5,849.8L95.9,847.9ZM99.6,859.4L102.3,859.8L102.2,861L99.8,861Z" fill="#c6c6c6"/><path d="M218.5,862L225.1,865L226.2,867.4L228.9,869.6L222.2,873.7L220.5,875.9L218.2,873.9L216.8,867.3L218.8,864.5ZM210.6,855.2L211.6,854.2L214.9,855.1L217.5,857.1L215.4,858.3L213,858.6L212.5,856.6L210.8,856ZM204.9,853.5L205.4,852.3L210.4,852.8L210.2,853.8ZM207.3,855.5L209.2,855.5L209.5,856.8L208,857.3ZM195.5,848.6L198.5,847.2L201.5,851.4L200.1,851.9L197.2,851.4ZM181.3,843.5L183,841.8L185.4,842.1L185.8,844.5L184.4,845.5L182,844.6ZM176.8,845.3L178.2,843.9L178.7,845.1L177.2,846.3Z" fill="#8e8e8e"/></g><path d="M492.3,703.2L482.6,690.9" stroke="#999" stroke-width=".7" fill="none"/><circle cx="497.5" cy="708.2" r="7" fill="#0039c8" stroke="rgba(120,120,120,.6)" stroke-width=".6"/><path d="M490.9,726.6L467.9,726.6" stroke="#999" stroke-width=".7" fill="none"/><circle cx="497.5" cy="726.6" r="7" fill="#0039c8" stroke="rgba(120,120,120,.6)" stroke-width=".6"/><path d="M491.4,741.8L467.9,731.1" stroke="#999" stroke-width=".7" fill="none"/><circle cx="497.5" cy="745.1" r="7" fill="#0039c8" stroke="rgba(120,120,120,.6)" stroke-width=".6"/><rect x="278.9" y="714.5" width="20" height="19" fill="#b41a26" stroke="rgba(255,255,255,.8)" stroke-width=".6"/><g font-size="7" text-anchor="middle" fill="#fff" stroke="#fff" stroke-width=".28"><text x="144.2" y="644.3" textLength="9.47397" lengthAdjust="spacingAndGlyphs">WA</text><text x="130.1" y="674.2" textLength="9.03" lengthAdjust="spacingAndGlyphs">OR</text><text x="120.3" y="749.7" textLength="8.3631" lengthAdjust="spacingAndGlyphs">CA</text><text x="148.7" y="726.2" textLength="8.3631" lengthAdjust="spacingAndGlyphs">NV</text><text x="175.6" y="687.7" textLength="6.02" lengthAdjust="spacingAndGlyphs">ID</text><text x="212" y="663" textLength="8.69232" lengthAdjust="spacingAndGlyphs">MT</text><text x="221.9" y="702.1" textLength="9.69737" lengthAdjust="spacingAndGlyphs">WY</text><text x="186.4" y="737.6" textLength="8.02494" lengthAdjust="spacingAndGlyphs">UT</text><text x="230.5" y="744.7" textLength="9.03" lengthAdjust="spacingAndGlyphs">CO</text><text x="177.9" y="783.8" textLength="7.6929" lengthAdjust="spacingAndGlyphs">AZ</text><text x="224.8" y="786" textLength="9.36251" lengthAdjust="spacingAndGlyphs">NM</text><text x="275.3" y="663" textLength="8.69514" lengthAdjust="spacingAndGlyphs">ND</text><text x="273.8" y="692.1" textLength="8.3631" lengthAdjust="spacingAndGlyphs">SD</text><text x="267.3" y="721.9" textLength="8.3631" lengthAdjust="spacingAndGlyphs">NE</text><text x="288.8" y="751.8" textLength="8.03106" lengthAdjust="spacingAndGlyphs">KS</text><text x="295.2" y="783.8" textLength="8.69796" lengthAdjust="spacingAndGlyphs">OK</text><text x="316.4" y="676.1" textLength="9.36251" lengthAdjust="spacingAndGlyphs">MN</text><text x="325.3" y="715.9" textLength="5.68796" lengthAdjust="spacingAndGlyphs">IA</text><text x="348.3" y="690" textLength="7.35428" lengthAdjust="spacingAndGlyphs">WI</text><text x="388.9" y="703.5" textLength="6.68737" lengthAdjust="spacingAndGlyphs">MI</text><text x="359" y="734.1" textLength="5.02059" lengthAdjust="spacingAndGlyphs">IL</text><text x="381.8" y="734.1" textLength="6.02" lengthAdjust="spacingAndGlyphs">IN</text><text x="405.2" y="728.4" textLength="9.03" lengthAdjust="spacingAndGlyphs">OH</text><text x="335.5" y="754" textLength="9.69737" lengthAdjust="spacingAndGlyphs">MO</text><text x="396" y="756.8" textLength="8.03106" lengthAdjust="spacingAndGlyphs">KY</text><text x="422.3" y="742.6" textLength="9.69737" lengthAdjust="spacingAndGlyphs">WV</text><text x="447.1" y="748.7" textLength="7.58426" lengthAdjust="spacingAndGlyphs">VA</text><text x="444.6" y="715.1" textLength="7.58426" lengthAdjust="spacingAndGlyphs">PA</text><text x="458" y="691.7" textLength="8.3631" lengthAdjust="spacingAndGlyphs">NY</text><text x="465.5" y="715.6" textLength="7.35757" lengthAdjust="spacingAndGlyphs">NJ</text><text x="466.3" y="666.5" textLength="7.6929" lengthAdjust="spacingAndGlyphs">VT</text><text x="475.5" y="674.5" textLength="8.69514" lengthAdjust="spacingAndGlyphs">NH</text><text x="488.4" y="653.7" textLength="9.03047" lengthAdjust="spacingAndGlyphs">ME</text><text x="480.5" y="684.7" textLength="9.03047" lengthAdjust="spacingAndGlyphs">MA</text><text x="475.8" y="694.3" textLength="8.02494" lengthAdjust="spacingAndGlyphs">CT</text><text x="385.3" y="775.3" textLength="8.02494" lengthAdjust="spacingAndGlyphs">TN</text><text x="444.3" y="768.4" textLength="8.69514" lengthAdjust="spacingAndGlyphs">NC</text><text x="335.5" y="787.4" textLength="8.3631" lengthAdjust="spacingAndGlyphs">AR</text><text x="432.2" y="788.8" textLength="8.3631" lengthAdjust="spacingAndGlyphs">SC</text><text x="359.7" y="805.2" textLength="9.03047" lengthAdjust="spacingAndGlyphs">MS</text><text x="384.6" y="805.2" textLength="7.36368" lengthAdjust="spacingAndGlyphs">AL</text><text x="413.7" y="805.2" textLength="8.69796" lengthAdjust="spacingAndGlyphs">GA</text><text x="336.3" y="816.5" textLength="7.36368" lengthAdjust="spacingAndGlyphs">LA</text><text x="438.6" y="853.5" textLength="7.02553" lengthAdjust="spacingAndGlyphs">FL</text><text x="278.8" y="818.7" textLength="7.6929" lengthAdjust="spacingAndGlyphs">TX</text><text x="126.7" y="845.7" textLength="8.03106" lengthAdjust="spacingAndGlyphs">AK</text><text x="222" y="870.5" textLength="6.02" lengthAdjust="spacingAndGlyphs">HI</text><text x="289" y="726.6" textLength="11.7113" lengthAdjust="spacingAndGlyphs">NE2</text><text x="497.5" y="710.7" textLength="6.02" lengthAdjust="spacingAndGlyphs">RI</text><text x="497.5" y="729.1" textLength="8.3631" lengthAdjust="spacingAndGlyphs">DE</text><text x="497.5" y="747.6" textLength="9.36251" lengthAdjust="spacingAndGlyphs">MD</text></g></svg>
<div style="left:50px;top:2872.7px;width:7.2px;height:7.2px;background:#c6c6c6;"></div>
<span style="left:60.50px;top:2873.00px;font-size:8px;line-height:8px;color:#333;transform:scaleX(0.9430);transform-origin:0 0;">Keine Wahl</span>
<div style="left:106.7px;top:2872.7px;width:7.2px;height:7.2px;background:#8e8e8e;"></div>
<span style="left:117.20px;top:2873.00px;font-size:8px;line-height:8px;color:#333;transform:scaleX(0.9541);transform-origin:0 0;">Noch nicht ausgezählt</span>
<div style="left:200.8px;top:2872.7px;width:7.2px;height:7.2px;background:#0a7c66;"></div>
<span style="left:211.30px;top:2873.00px;font-size:8px;line-height:8px;color:#333;transform:scaleX(0.9585);transform-origin:0 0;">Auszählung läuft</span>
<div style="left:276.8px;top:2872.7px;width:7.2px;height:7.2px;background:#e8c11c;"></div>
<span style="left:287.30px;top:2873.00px;font-size:8px;line-height:8px;color:#333;transform:scaleX(0.9754);transform-origin:0 0;">Stichwahl erforderlich</span>
<div style="left:370.4px;top:2872.7px;width:7.2px;height:7.2px;background:#0039c8;"></div>
<span style="left:380.90px;top:2873.00px;font-size:8px;line-height:8px;color:#333;transform:scaleX(0.9730);transform-origin:0 0;">Demokraten</span>
<div style="left:431.9px;top:2872.7px;width:7.2px;height:7.2px;background:#b41a26;"></div>
<span style="left:442.40px;top:2873.00px;font-size:8px;line-height:8px;color:#333;transform:scaleX(0.9291);transform-origin:0 0;">Republikaner</span>
<div style="left:494.5px;top:2872.7px;width:7.2px;height:7.2px;background:#7b80b9;"></div>
<span style="left:505.00px;top:2873.00px;font-size:8px;line-height:8px;color:#333;transform:scaleX(0.9622);transform-origin:0 0;">Unabhängige</span>
<div style="left:47px;top:2886.9px;width:505.5px;height:1px;background:#e6e6e6;"></div>
<span style="left:47.30px;top:2892.00px;font-size:6.9px;line-height:6.9px;color:#333;transform:scaleX(0.9407);transform-origin:0 0;">Quelle: NEP/Edison via Reuters</span>
</section>
<section aria-label="Wahlen im Rückblick">
<span style="left:195.42px;top:2947.00px;font-size:18px;line-height:18px;color:#1e5b94;transform:scaleX(1.0044);transform-origin:50% 0;">WAHLEN IM RÜCKBLICK</span>
<span style="left:48.30px;top:2983.00px;font-size:11px;line-height:11px;color:#1a568f;font-weight:700;transform:scaleX(0.9906);transform-origin:0 0;">Demokraten: Gewonnene Präsidentschaftswahlen 1992-2020</span>
<svg style="left:0;top:2986.2px" width="600" height="300" viewBox="0 600 600 300"><g stroke="rgba(255,255,255,.6)" stroke-width="0.5" stroke-linejoin="round"><path d="M165.4,634.3L158,632.7L150.7,631L143.3,629.2L136,627.3L128.8,625.4L129.9,628.3L129.1,631.7L129.6,635L128,639.7L126.5,642.4L123.5,643.1L123.2,640.4L123.4,637.2L121,634.8L117.4,631.5L115.1,628.5L114,632.5L114,638.3L114.2,642.5L114,645.5L112.8,649.4L116.5,650.4L118.2,652L120,653L120,655.6L119.7,657.6L120.3,658.2L122.6,659.4L125.6,658.9L128.4,659.2L130.1,660.9L134.1,660.6L137.2,661.4L141.7,660.5L145.9,660.7L159.9,663.8L160,659.6Z" fill="#00195a"/><path d="M112.8,649.4L116.5,650.4L118.2,652L120,653L120,655.6L119.7,657.6L120.3,658.2L122.6,659.4L125.6,658.9L128.4,659.2L130.1,660.9L134.1,660.6L137.2,661.4L141.7,660.5L145.9,660.7L159.9,663.8L161,666.1L162.2,668.4L161,671.2L158.2,674.1L154.8,678.5L154.3,679.9L156,680.8L155.7,682.9L154.7,684.8L151,702.5L140.3,700.2L129.6,697.6L121.9,695.7L114.2,693.6L106.5,691.5L98.9,689.2L99.1,685.2L99.6,680.8L101.2,678.5L102.9,676L104.6,673.4L107.8,665L109,662.2L110.4,659.5L112.5,652.9Z" fill="#00195a"/><path d="M98.9,689.2L106.5,691.5L114.2,693.6L121.9,695.7L129.6,697.6L122.5,726.5L155.8,774.2L155.9,776.2L156.8,779.9L158.5,781.7L155.7,783.5L154.6,785.1L154.4,787.6L152.1,789.7L151.8,793.4L153.4,794.5L150.9,796.4L130.8,794.3L130,792.4L130.5,788.4L127.4,783.1L125.3,781L122.9,780.1L122.7,777.5L120.3,776.9L117.4,774.7L114,771.4L108,769.4L107.4,766.1L108.3,762.2L107.1,759.7L104.4,756.1L101.4,748.6L101.8,745.7L103.5,744.1L102.3,742.2L99.8,739.5L99.7,735.9L100.6,733L97.5,730.1L97.8,726.1L94.9,719.5L95.7,714.1L95,708.4L94,703.9L97.1,700.1L99,694.4L98.7,691.5Z" fill="#00195a"/><path d="M129.6,697.6L140.3,700.2L151,702.5L161.7,704.7L172.6,706.7L163.9,755.5L162.6,763.3L159.6,763.3L156.8,763.7L156.7,768.3L156.5,772.8L155.8,774.2L122.5,726.5Z" fill="#0031a5"/><path d="M165.4,634.3L171.7,635.6L169.7,645.5L171,651.3L174.3,655.5L175.3,657.4L176.9,660.8L177.7,663.2L176.7,667.1L175.3,670.9L176.8,672.4L179.5,670.7L180.2,672.8L181.4,678.3L182.8,680.2L184.1,684L185.3,685.1L189.1,683.7L194.7,684.7L195.1,683.1L197.7,685.9L194.3,710.2L183.4,708.5L172.6,706.7L161.7,704.7L151,702.5L154.7,684.8L155.7,682.9L156,680.8L154.3,679.9L154.8,678.5L158.2,674.1L161,671.2L162.2,668.4L161,666.1L159.9,663.8L160,659.6Z" fill="#5587f7"/><path d="M171.7,635.6L178.1,636.9L184.6,638.1L191.1,639.2L197.6,640.2L204.1,641.2L210.6,642.1L217.1,642.9L223.7,643.6L230.2,644.3L236.8,644.9L243.3,645.4L249.9,645.9L248,676.4L247.4,685.7L240.4,685.2L233.4,684.7L226.4,684L219.4,683.3L212.4,682.5L205.4,681.7L198.5,680.7L197.7,685.9L195.1,683.1L194.7,684.7L189.1,683.7L185.3,685.1L184.1,684L182.8,680.2L181.4,678.3L180.2,672.8L179.5,670.7L176.8,672.4L175.3,670.9L176.7,667.1L177.7,663.2L176.9,660.8L175.3,657.4L174.3,655.5L171,651.3L169.7,645.5Z" fill="#4a7ef2"/><path d="M197.7,685.9L198.5,680.7L205.4,681.7L212.4,682.5L219.4,683.3L226.4,684L233.4,684.7L240.4,685.2L247.4,685.7L246.2,705.5L244.9,725.3L237.5,724.8L230,724.2L222.6,723.5L215.1,722.8L207.7,721.9L200.3,721L192.9,720L194.3,710.2Z" fill="#5587f7"/><path d="M172.6,706.7L183.4,708.5L194.3,710.2L192.9,720L200.3,721L207.7,721.9L203,761.2L193.2,760L183.4,758.6L173.7,757.1L163.9,755.5Z" fill="#5587f7"/><path d="M207.7,721.9L215.1,722.8L222.6,723.5L230,724.2L237.5,724.8L244.9,725.3L252.4,725.7L259.9,726.1L259.5,735.9L258.3,765.6L250.8,765.3L242.8,764.9L234.8,764.3L226.9,763.7L218.9,763L211,762.1L203,761.2Z" fill="#0a40be"/><path d="M163.9,755.5L173.7,757.1L183.4,758.6L193.2,760L203,761.2L196.3,817.3L179.2,815.1L149.8,798.5L150.9,796.4L153.4,794.5L151.8,793.4L152.1,789.7L154.4,787.6L154.6,785.1L155.7,783.5L158.5,781.7L156.8,779.9L155.9,776.2L155.8,774.2L156.5,772.8L156.7,768.3L156.8,763.7L159.6,763.3L162.6,763.3Z" fill="#3d72e6"/><path d="M203,761.2L211,762.1L218.9,763L226.9,763.7L234.8,764.3L242.8,764.9L250.8,765.3L250.5,770.3L247.7,815L237.7,814.4L227.6,813.7L217.6,812.8L218.2,815.1L204,813.6L203.5,818.1L196.3,817.3Z" fill="#002580"/><path d="M249.9,645.9L257.4,646.3L264.8,646.6L272.3,646.8L279.8,647L287.3,647L294.7,647L295.5,655L296.1,657.9L297.5,663.9L298.1,668.2L299.5,674.2L299.8,677.4L292.4,677.5L285,677.6L277.6,677.5L270.2,677.4L262.8,677.1L255.4,676.8L248,676.4Z" fill="#5587f7"/><path d="M248,676.4L255.4,676.8L262.8,677.1L270.2,677.4L277.6,677.5L285,677.6L292.4,677.5L299.8,677.4L298.9,679.3L297.9,680.9L300.7,683.8L301.1,701.6L300.4,702.7L300.7,703.6L301.1,706.1L300.1,709.1L301.4,711.7L299.5,710.6L297.3,709.2L294.4,708L290,709L286.4,706.8L278.3,706.7L270.3,706.6L262.2,706.3L254.2,706L246.2,705.5L247.4,685.7Z" fill="#5587f7"/><path d="M246.2,705.5L254.2,706L262.2,706.3L270.3,706.6L278.3,706.7L286.4,706.8L290,709L294.4,708L297.3,709.2L299.5,710.6L301.4,711.7L302.5,714.5L304.1,718.4L305.1,721.4L305.9,723.3L305.6,724.1L306.2,727.3L306.9,730.4L308.7,733.6L310.6,736.1L302,736.3L293.5,736.5L285,736.5L276.5,736.4L268,736.2L259.5,735.9L259.9,726.1L252.4,725.7L244.9,725.3Z" fill="#5587f7"/><path d="M259.5,735.9L268,736.2L276.5,736.4L285,736.5L293.5,736.5L302,736.3L310.6,736.1L313,737.5L313.9,738.2L312.3,740.4L314,742.9L316.3,744.6L317.1,765.5L308.7,765.9L300.3,766.1L291.9,766.2L283.5,766.2L275.1,766.1L266.7,765.9L258.3,765.6Z" fill="#5587f7"/><path d="M250.8,765.3L258.3,765.6L266.7,765.9L275.1,766.1L283.5,766.2L291.9,766.2L300.3,766.1L308.7,765.9L317.1,765.5L317.3,770.5L319.3,781.3L319.7,798.8L315.3,796.9L311.2,796.8L307,797.2L302.5,797.6L297.6,798.7L297.1,796.9L290.9,797.2L289.7,795L285.5,794.5L280.6,794L276.5,792L274.1,790.3L274.4,771.1L266.4,770.9L258.5,770.6L250.5,770.3Z" fill="#5587f7"/><path d="M250.5,770.3L258.5,770.6L266.4,770.9L274.4,771.1L274.1,790.3L276.5,792L280.6,794L285.5,794.5L289.7,795L290.9,797.2L297.1,796.9L297.6,798.7L302.5,797.6L307,797.2L311.2,796.8L315.3,796.9L319.7,798.8L323.4,799.6L323.7,804.8L324.2,815.1L326,818.4L328.3,822.8L328.9,825.8L327.7,829.9L328.1,833.9L326.5,837L327.1,838.1L322.2,839.7L319.3,842.4L313.7,847.1L305.5,851.9L300.6,855L298,860.1L296.3,866.2L298.7,876.8L296.5,878L294.6,878L289.1,876L280.9,872.4L277.8,866.3L277.4,861.2L270.3,853.5L268.7,848.9L267.4,844.8L264.9,842.2L261.1,837.9L253.2,836.6L249.9,837.8L248.2,842.1L245.4,845.3L239.8,842L234.8,838.8L232.5,833.1L230.3,827.4L225.5,822.7L220.7,818.6L218.2,815.1L217.6,812.8L227.6,813.7L237.7,814.4L247.7,815Z" fill="#5587f7"/><path d="M330.1,667.9L333.9,664.2L337.6,659.3L343.3,655.8L345.8,654.1L343.1,653.3L337.6,652.3L333.8,654.4L329.6,652.4L326.6,651.7L322.8,649.9L320.1,650.1L316.1,649.8L312.2,649.3L311.4,647L310.5,643.5L308.3,642.8L308.4,646.6L294.7,647L295.5,655L296.1,657.9L297.5,663.9L298.1,668.2L299.5,674.2L299.8,677.4L298.9,679.3L297.9,680.9L300.7,683.8L301.1,701.6L308.6,701.4L316.2,701.1L323.7,700.7L331.2,700.2L338.7,699.7L338.1,696.7L335.2,694.5L332.3,691.4L328.4,689.8L326.9,688.1L326.6,682.6L325.3,678.7L329.2,674.5L328.8,668.9Z" fill="#00195a"/><path d="M301.1,701.6L308.6,701.4L316.2,701.1L323.7,700.7L331.2,700.2L338.7,699.7L339.2,703.6L340.5,707L343.7,709.2L345.7,711.5L347.6,712.8L347.7,715.3L346.7,717.9L345.3,719L341.6,720.1L341.4,722.3L341.8,726.3L340.2,728.1L339.7,730.6L337.2,728.6L329.6,729.1L322.1,729.6L314.5,730L306.9,730.4L306.2,727.3L305.6,724.1L305.9,723.3L305.1,721.4L304.1,718.4L302.5,714.5L301.4,711.7L300.1,709.1L301.1,706.1L300.7,703.6L300.4,702.7Z" fill="#0a40be"/><path d="M306.9,730.4L314.5,730L322.1,729.6L329.6,729.1L337.2,728.6L339.7,730.6L340.1,735L340.8,737.3L343.3,740L345.9,742.8L346.8,744.7L348.4,743.9L350.4,744.6L350.7,747L349.7,750.9L351.9,753.2L354.1,754L356.9,756.7L357.1,759.7L358.2,761.5L360.5,762.5L360.2,765.3L358.7,767.5L357.8,769.1L356.9,772.6L351.5,773.2L353.7,770L352.9,768L344,768.8L335.1,769.5L326.2,770L317.3,770.5L317.1,765.5L316.3,744.6L314,742.9L312.3,740.4L313.9,738.2L313,737.5L310.6,736.1L308.7,733.6Z" fill="#3d72e6"/><path d="M317.3,770.5L326.2,770L335.1,769.5L344,768.8L352.9,768L353.7,770L351.5,773.2L356.9,772.6L355.4,777.3L354.7,781.5L353,783L351.2,788.1L348.5,792.4L347.6,796.4L347.9,799.4L347.6,803.3L335.6,804.1L323.7,804.8L323.4,799.6L319.7,798.8L319.3,781.3Z" fill="#3d72e6"/><path d="M323.7,804.8L335.6,804.1L347.6,803.3L350.4,809.7L349,813.4L346.7,818.1L345.3,823.7L361.6,822.3L360.9,825.9L363.2,829.2L364.2,830.3L362.8,831.7L366,833.4L364.2,837.1L367.9,838.8L369.5,841.2L366.5,842.5L361.8,839.9L359.3,841.7L353.3,842.7L349.6,841L345,839L342.3,838L338,838.5L332.6,836.9L327.1,838.1L326.5,837L328.1,833.9L327.7,829.9L328.9,825.8L328.3,822.8L326,818.4L324.2,815.1Z" fill="#3d72e6"/><path d="M330.1,667.9L328.8,668.9L329.2,674.5L325.3,678.7L326.6,682.6L326.9,688.1L328.4,689.8L332.3,691.4L335.2,694.5L338.1,696.7L338.7,699.7L339.2,703.6L340.5,707L343.7,709.2L354,708.2L364.4,707L364.3,704.6L363.1,701.7L364,698.1L363.5,694.2L364.3,689.1L365.1,684L366.6,679.2L364.5,682L362.5,685.8L360.5,687L360.9,684L362.7,681.4L362.2,681.3L362,680.3L361,679L360.4,677L359.1,674.9L358.2,674.8L357.5,673.4L354.7,673.2L351.1,672.2L344.1,671L341.7,668.8L339,668.2L339.1,665.5L336.1,666.3L330.6,668.4Z" fill="#002580"/><path d="M343.7,709.2L354,708.2L364.4,707L365.9,710.8L366.6,713.3L367.4,714.7L370.2,737.8L370,741.3L371,744.3L369.6,747.1L368.4,750.4L368.2,753.5L367.5,754.5L367.4,756.8L365.1,758.1L364.5,761.1L360.6,761.8L360.5,762.5L358.2,761.5L357.1,759.7L356.9,756.7L354.1,754L351.9,753.2L349.7,750.9L350.7,747L350.4,744.6L348.4,743.9L346.8,744.7L345.9,742.8L343.3,740L340.8,737.3L340.1,735L339.7,730.6L340.2,728.1L341.8,726.3L341.4,722.3L341.6,720.1L345.3,719L346.7,717.9L347.7,715.3L347.6,712.8L345.7,711.5Z" fill="#00195a"/><path d="M367.4,714.7L369.8,715L372.4,713.4L379.8,712.4L387.1,711.3L387.2,711.9L391.1,737.3L391,740.6L387.4,741.6L385.2,746.5L384,749.4L382.3,749.6L381.1,748.3L379.8,750L377.8,750.8L375.3,752.9L371.5,751.4L369,752.1L368.2,753.5L368.4,750.4L369.6,747.1L371,744.3L370,741.3L370.2,737.8Z" fill="#4a7ef2"/><path d="M397.1,710L398.5,707L398.7,704L400.3,702.7L402.4,699.8L402.3,696.3L400.5,691.6L399.2,688.1L396.7,686.5L393.8,688.4L390.7,691.8L390.2,688.8L392.8,686.9L393.6,683.2L392.6,677.3L390,674.7L385.4,672.7L381.6,671.8L379.6,673.9L380.6,675.8L378.3,676.7L377.5,678.2L377,682.3L376.4,678.4L373.4,681.8L372.6,684L371.8,691.1L372.7,695L374.9,700.7L375.8,704.5L375.3,708.6L373.7,710.8L372.4,713.4L379.8,712.4L387.1,711.3L397.1,710L387.2,711.9ZM362.7,681.4L364.3,677.5L365.7,674.4L369,675.4L370.6,672.2L375.2,670L379.4,669.9L381.5,670.9L383.9,669.5L387,669.2L388.8,667.9L385,666L383,664.3L381.4,664.8L378.6,662.3L376.3,663.1L371.6,664.3L367.8,667L362.3,666.8L359.8,663.6L356.4,663.5L354.8,665.1L357.4,660.3L359.2,658.6L354.5,659.7L351.5,663L347.7,665.4L344.4,667.4L341.7,668.8L344.1,671L351.1,672.2L354.7,673.2L357.5,673.4L358.2,674.8L359.1,674.9L360.4,677L361,679L362,680.3L362.2,681.3Z" fill="#002580"/><path d="M387.2,711.9L397.1,710L400.6,710.9L402.7,710.7L403.6,711.7L405.3,711.5L410.2,709.5L412,707.3L414.6,705.3L417.9,703.5L420.5,716.5L420.2,716.7L420.3,719.3L420.2,722.4L420.3,723.9L420,726.7L417.9,729.6L416,729.8L415.4,731.4L414.6,733.3L414.4,734.7L413.8,734.7L413,734.4L412,734.8L411.9,736.1L411.9,736.8L411.8,738.8L411.3,739.9L410.3,740.9L409.1,741.3L408.3,740.2L405.5,738.7L399.9,740.4L395.7,738.6L393.5,737L391.1,737.3Z" fill="#1c52cd"/><path d="M360.5,762.5L360.6,761.8L364.5,761.1L365.1,758.1L367.4,756.8L367.5,754.5L368.2,753.5L369,752.1L371.5,751.4L375.3,752.9L377.8,750.8L379.8,750L381.1,748.3L382.3,749.6L384,749.4L385.2,746.5L387.4,741.6L391,740.6L391.1,737.3L393.5,737L395.7,738.6L399.9,740.4L405.5,738.7L408.3,740.2L409.1,741.3L409.5,743.3L410.7,745.6L412.7,747.7L415.5,748.8L413.4,751.6L410.7,754.6L407.7,758.2L403.8,760.4L381.6,763.2L369.2,764.5L369.4,766.3L358.7,767.5L360.2,765.3Z" fill="#3d72e6"/><path d="M403.8,760.4L381.6,763.2L369.2,764.5L369.4,766.3L358.7,767.5L357.8,769.1L356.9,772.6L355.4,777.3L354.7,781.5L353,783L361.6,782.2L370.1,781.3L380.5,780L391,778.6L401.4,777L403.1,773.9L403.3,772.5L407,770.2L409.1,768.5L411.1,765.7L413.4,764.7L417.5,762.8L419.6,760.1L419.5,757.6L411.7,759Z" fill="#3d72e6"/><path d="M370.1,781.3L361.6,782.2L353,783L370.1,781.3L371,782.1L371.2,802.1L371.3,812.2L373.7,827.5L369.8,827.5L366,828.9L364.2,830.3L363.2,829.2L360.9,825.9L361.6,822.3L345.3,823.7L346.7,818.1L349,813.4L350.4,809.7L347.6,803.3L347.9,799.4L347.6,796.4L348.5,792.4L351.2,788.1L353,783Z" fill="#5587f7"/><path d="M391,778.6L380.5,780L370.1,781.3L371,782.1L371.2,802.1L371.3,812.2L373.7,827.5L376.1,827.6L376.3,824.2L377.5,824.1L378,827L379.4,828.1L381.3,827.3L381.7,825.6L381.9,823L379.8,820.2L390.8,818.8L401.9,817.2L400.7,812.3L399.7,808.4L400,807.4L399.8,802.6L397.6,798.9Z" fill="#5587f7"/><path d="M401.4,777L391,778.6L397.6,798.9L399.8,802.6L400,807.4L399.7,808.4L400.7,812.3L401.9,817.2L403.5,820L426.3,817.4L428,819.2L427.9,815L432.5,814.8L432.2,810.9L433,806.2L434,802.4L434.7,800.8L432.8,800.8L431.4,798.3L429.3,796.2L427.8,792.9L425.9,791.8L423,788.6L420.8,787L416.9,784.3L414.3,781.2L409.6,778.5L411.1,775.3Z" fill="#3d72e6"/><path d="M401.9,817.2L390.8,818.8L379.8,820.2L381.9,823L381.7,825.6L381.3,827.3L384,826.5L390,825.2L394.5,825.9L397.2,827L400.3,829.8L400.9,830.8L404,831.1L404.7,829.8L409.1,827L411.9,824.8L415.7,826.7L418.9,829.7L421.4,833.1L425,836.3L426.5,839.6L426,844.8L427.5,848.2L428.8,850L430.6,852.8L434,855.7L435.8,858L438.2,861.2L441.6,864.1L445.9,869L448.7,869L452.7,867.7L453.8,861.7L452.6,851L449,845.5L445.2,838.1L444.7,835.6L440.4,830.3L436,823.5L433.5,817.8L432.5,814.8L427.9,815L428,819.2L426.3,817.4L403.5,820Z" fill="#2d62da"/><path d="M411.1,775.3L416.4,772.3L427.3,770.7L427.5,771.7L428.3,771L430,773.5L439,771.8L450,779L447.5,781.2L446.2,785L445.2,788.3L441.4,792.2L437.8,795.5L436.2,798.4L434.7,800.8L432.8,800.8L431.4,798.3L429.3,796.2L427.8,792.9L425.9,791.8L423,788.6L420.8,787L416.9,784.3L414.3,781.2L409.6,778.5Z" fill="#5587f7"/><path d="M419.5,757.6L428.7,756.2L437.8,754.3L446.8,752.3L455.8,750.1L464.8,747.9L465.3,751.3L464,752.2L460.1,754.7L464.8,753.8L467.3,753.9L466.5,757.1L462.7,758.6L459,760.6L462.4,760.5L462.4,762.1L460,764.4L463.3,764.1L465.2,765.2L464.4,767.9L460.5,768.2L457,771.3L454.7,775.4L454.4,777.9L450,779L439,771.8L430,773.5L428.3,771L427.5,771.7L427.3,770.7L416.4,772.3L411.1,775.3L401.4,777L403.1,773.9L403.3,772.5L407,770.2L409.1,768.5L411.1,765.7L413.4,764.7L417.5,762.8L419.6,760.1Z" fill="#4a7ef2"/><path d="M415.5,748.8L413.4,751.6L410.7,754.6L407.7,758.2L403.8,760.4L415.5,748.8L418.4,751.7L421.8,750.6L424.6,749.1L428.5,746.7L428.8,745.3L429.8,741.3L430.7,738.4L431.2,735.1L434.2,736.1L434.8,735.2L436.7,732L438.6,729.2L439.2,725L443.7,726.7L444.1,724.7L445.6,724.9L446.6,726.4L448.4,727L449.5,727.4L450.4,728.6L449.7,730.7L449.1,731.7L449.5,733.3L451.9,733.2L455.3,733.9L458.2,735.8L458.3,738.8L459.2,741.6L460.1,745L463.1,744.7L464.8,747.9L455.8,750.1L446.8,752.3L437.8,754.3L428.7,756.2L419.5,757.6L411.7,759L403.8,760.4ZM461.4,734.4L461.8,738.9L462.3,742.4L464.5,738.2L465.3,733.9L465.8,732.4L462.8,733.5Z" fill="#1c52cd"/><path d="M409.1,741.3L410.3,740.9L411.3,739.9L411.8,738.8L411.9,736.8L411.9,736.1L412,734.8L413,734.4L413.8,734.7L414.4,734.7L414.6,733.3L415.4,731.4L416,729.8L417.9,729.6L420,726.7L420.3,723.9L420.2,722.4L420.3,719.3L420.2,716.7L420.5,716.5L422.4,725.5L430.1,723.8L431.1,728.9L432.4,727.6L434.5,725.7L435.6,723.3L438.1,724L438.4,723L439.8,721.9L442.7,722.2L444.1,724.7L443.7,726.7L439.2,725L438.6,729.2L436.7,732L434.8,735.2L434.2,736.1L431.2,735.1L430.7,738.4L429.8,741.3L428.8,745.3L428.5,746.7L424.6,749.1L421.8,750.6L418.4,751.7L415.5,748.8L412.7,747.7L410.7,745.6L409.5,743.3Z" fill="#3d72e6"/><path d="M444.1,724.7L442.7,722.2L439.8,721.9L438.4,723L438.1,724L435.6,723.3L434.5,725.7L432.4,727.6L431.1,728.9L430.1,723.8L439.3,721.8L448.4,719.6L457.5,717.3L460.6,729.5L466.2,728L466.2,729L465.8,732.4L462.8,733.5L461.4,734.4L459.8,732.2L457.3,729.8L456.8,726.9L456.2,722.9L456.3,719.3L455.6,721.1L453.8,723.5L454,725.6L454.1,727.6L456,732.2L457.7,734.4L455.3,733.9L451.9,733.2L449.5,733.3L449.1,731.7L449.7,730.7L450.4,728.6L451.2,727.4L449.9,726.6L449.5,727.4L448.4,727L446.6,726.4L445.6,724.9Z" fill="#00195a"/><path d="M450.4,728.6L449.5,727.4L449.9,726.6L451.2,727.4Z" fill="#00195a"/><path d="M457.5,717.3L457.9,716.4L458.7,715.7L460,715.8L459.5,718L461.4,720.6L462.9,723.2L465,724.7L466.2,728L460.6,729.5Z" fill="#00195a"/><path d="M422.8,699.6L420.6,701.3L417.9,703.5L420.5,716.5L422.4,725.5L430.1,723.8L439.3,721.8L448.4,719.6L457.5,717.3L457.9,716.4L458.7,715.7L460,715.8L461.8,714.3L464,711.2L463.7,710.7L462,709.5L459.3,706.9L459.1,704.1L460.2,701.4L461.2,699.5L458,697.9L457.4,696L454.9,694.6L447,696.7L439.1,698.6L431.2,700.5L423.3,702.2Z" fill="#002580"/><path d="M460,715.8L461.8,714.3L464,711.2L463.7,710.7L462,709.5L459.3,706.9L459.1,704.1L460.2,701.4L461.2,699.5L467.9,701.4L467.6,704.5L466.7,706.8L468.6,706.8L469.3,709.2L469.8,713.6L468.7,718.1L465.7,723.2L463,720.6L460.1,718.8Z" fill="#00195a"/><path d="M460.8,662L451.6,664.7L448,667.4L445.5,672L442.7,675.3L442.6,676.3L444.2,678L445,681.3L443.1,682.6L440.1,685.3L435.9,686.5L429.3,687L425.7,688.9L426.1,690.5L427.6,692.2L426.7,694.9L422.8,699.6L423.3,702.2L431.2,700.5L439.1,698.6L447,696.7L454.9,694.6L457.4,696L458,697.9L461.2,699.5L467.9,701.4L467.8,704.4L468,705.4L469,705.4L473.2,703.6L479.1,699.6L482.3,696.3L480.8,697.5L479.2,696.3L476.9,698.9L473.7,700L469.7,702.2L469.1,703L469.6,700.9L468.8,700L470.3,698.5L469.6,697.8L467.9,690.5L467.6,683.4L465.5,675.7L464.3,675.6L463,669.7Z" fill="#00195a"/><path d="M469.6,700.9L468.8,700L470.3,698.5L469.6,697.8L467.9,690.5L479.9,687.2L481.2,691.2L481.6,694L478.2,695.5L474.4,696.9L473.2,698.3L472.6,698.7Z" fill="#00195a"/><path d="M481.6,694L481.2,691.2L479.9,687.2L482.9,686.3L483.6,687.3L485.1,688.9L486.3,690.6L485.4,690.9L483.5,688.9L484.4,691.7L484,692.8Z" fill="#00195a"/><path d="M467.9,690.5L467.6,683.4L473.3,681.9L481.4,679.7L482,679.1L484.2,677L484.7,678.1L486.4,678.6L485,681.2L484.7,682.8L487.1,683.1L488.9,685.1L489.8,686.6L493.3,685.4L492.2,684.5L490.6,683.1L491.7,682.8L493.3,684.2L494,686.3L490.6,688L489.5,689.4L487.3,689.8L486.3,690.6L485.1,688.9L483.6,687.3L482.9,686.3L479.9,687.2Z" fill="#00195a"/><path d="M473.2,658.3L460.8,662L463,669.7L464.3,675.6L465.5,675.7L467.6,683.4L473.3,681.9L472.6,679.3L471.8,675.4L471.6,672.4L472.1,668L473.6,664.5L474.1,662.2Z" fill="#00195a"/><path d="M475.1,654.6L473.3,656.2L473.2,658.3L474.1,662.2L473.6,664.5L472.1,668L471.6,672.4L471.8,675.4L472.6,679.3L473.3,681.9L481.4,679.7L482,679.1L484.2,677L484.5,674.9L481.6,672.6L481.1,670.7L477.4,660.5Z" fill="#002580"/><path d="M484.5,674.9L484.8,672.4L486.1,668.3L488.5,666.4L491.4,663.9L492.8,662.4L492.3,659.4L492.8,657.1L494.7,660.1L497.7,658L499.2,655.9L501.9,652.8L503.9,649.7L502.5,647.3L500.6,647.5L499.2,646.6L498.1,643.6L495.5,643.5L494.8,641.3L491,630.6L486.7,629.2L485.2,630.8L482.1,631.3L480.5,630.2L477.9,639.1L478.5,642L478.4,647.3L478.2,648.9L476.8,654.6L475.1,654.6L477.4,660.5L481.1,670.7L481.6,672.6Z" fill="#00195a"/><path d="M163.8,873L162.9,869.8L159.3,869L158.4,867.9L155,864.2L151.8,862L150.5,860.7L147.8,863.9L145.6,861.8L144.4,861L141.5,860.9L136.7,831L134.3,829.8L130.9,829.9L128.1,829.4L124.3,828L122.1,827.6L119.5,826.1L116.7,827.5L113.3,828.9L111.9,830.3L110.3,832.6L107.7,832.4L106.6,834L108.9,836.7L109.5,838.8L111.8,839.5L111.4,841.1L112.4,842.1L109.1,840.5L106.8,840.6L102.8,842.3L104.9,844L104.2,845.6L105.6,846.6L108.9,847.1L111.3,846.8L111.6,848L111.6,849.8L110.4,850.9L109.3,850.6L107.4,851.6L105.2,852.8L103.5,854.4L102.6,855.5L103.5,857.9L103.5,859.4L105,861.9L107.1,861.7L107.8,864.4L107,866.1L109.8,865.7L112.2,867.1L113.2,865.8L115.1,866.8L114.2,870.7L112.1,872.5L108.6,874.9L104.7,876L102.8,877.5L99.8,878L103.4,878.4L106.3,877.6L109.3,876.3L112.4,874.8L116,872.5L118.8,870.1L120.6,868.1L121.6,866.3L121.3,864.7L123.2,862.7L124.5,860.6L126.6,859.3L127.3,859.1L127.1,859.9L125.1,861.2L124.3,863.6L125.1,864.6L124.1,865.7L126.4,865.1L128.2,863.3L129.6,863.1L130.3,860.4L132.7,859.5L134,861.2L136,862.4L138.4,862.1L140.9,862.1L144,863.1L147.1,864.4L149.9,866.1L151.4,868.1L153,869.4L154.6,871.6L157.3,873.9L159.5,875.3L162.4,874.1ZM123.7,870.9L123.4,868.6L121.7,869.6L119.6,870.9L120.4,873.2L122.1,872.8ZM97,879.4L97.2,880.4L95,881.3L93.1,880.8L95.1,879.3ZM90.9,881.6L91.3,882.3L88.7,882L88.8,881.1ZM82.8,881.1L82.9,882L79.7,880.9L79.8,879.9ZM76.4,880L76.5,880.9L74,879.9L74.1,879.1ZM96.4,846.7L100,849.2L98.5,849.8L95.9,847.9ZM99.6,859.4L102.3,859.8L102.2,861L99.8,861Z" fill="#5587f7"/><path d="M218.5,862L225.1,865L226.2,867.4L228.9,869.6L222.2,873.7L220.5,875.9L218.2,873.9L216.8,867.3L218.8,864.5ZM210.6,855.2L211.6,854.2L214.9,855.1L217.5,857.1L215.4,858.3L213,858.6L212.5,856.6L210.8,856ZM204.9,853.5L205.4,852.3L210.4,852.8L210.2,853.8ZM207.3,855.5L209.2,855.5L209.5,856.8L208,857.3ZM195.5,848.6L198.5,847.2L201.5,851.4L200.1,851.9L197.2,851.4ZM181.3,843.5L183,841.8L185.4,842.1L185.8,844.5L184.4,845.5L182,844.6ZM176.8,845.3L178.2,843.9L178.7,845.1L177.2,846.3Z" fill="#00195a"/></g><path d="M492.3,703.2L482.6,690.9" stroke="#999" stroke-width=".7" fill="none"/><circle cx="497.5" cy="708.2" r="7" fill="#00195a" stroke="rgba(120,120,120,.6)" stroke-width=".6"/><path d="M490.9,726.6L467.9,726.6" stroke="#999" stroke-width=".7" fill="none"/><circle cx="497.5" cy="726.6" r="7" fill="#00195a" stroke="rgba(120,120,120,.6)" stroke-width=".6"/><path d="M491.4,741.8L467.9,731.1" stroke="#999" stroke-width=".7" fill="none"/><circle cx="497.5" cy="745.1" r="7" fill="#00195a" stroke="rgba(120,120,120,.6)" stroke-width=".6"/><circle cx="497.5" cy="763.4" r="7" fill="#00195a" stroke="rgba(120,120,120,.6)" stroke-width=".6"/><g font-size="7" text-anchor="middle" fill="#fff" stroke="#fff" stroke-width=".28"><text x="144.2" y="644.3" textLength="9.47397" lengthAdjust="spacingAndGlyphs">WA</text><text x="130.1" y="674.2" textLength="9.03" lengthAdjust="spacingAndGlyphs">OR</text><text x="120.3" y="749.7" textLength="8.3631" lengthAdjust="spacingAndGlyphs">CA</text><text x="148.7" y="726.2" textLength="8.3631" lengthAdjust="spacingAndGlyphs">NV</text><text x="175.6" y="687.7" textLength="6.02" lengthAdjust="spacingAndGlyphs">ID</text><text x="212" y="663" textLength="8.69232" lengthAdjust="spacingAndGlyphs">MT</text><text x="221.9" y="702.1" textLength="9.69737" lengthAdjust="spacingAndGlyphs">WY</text><text x="186.4" y="737.6" textLength="8.02494" lengthAdjust="spacingAndGlyphs">UT</text><text x="230.5" y="744.7" textLength="9.03" lengthAdjust="spacingAndGlyphs">CO</text><text x="177.9" y="783.8" textLength="7.6929" lengthAdjust="spacingAndGlyphs">AZ</text><text x="224.8" y="786" textLength="9.36251" lengthAdjust="spacingAndGlyphs">NM</text><text x="275.3" y="663" textLength="8.69514" lengthAdjust="spacingAndGlyphs">ND</text><text x="273.8" y="692.1" textLength="8.3631" lengthAdjust="spacingAndGlyphs">SD</text><text x="267.4" y="722" textLength="8.3631" lengthAdjust="spacingAndGlyphs">NE</text><text x="288.8" y="751.8" textLength="8.03106" lengthAdjust="spacingAndGlyphs">KS</text><text x="295.2" y="783.8" textLength="8.69796" lengthAdjust="spacingAndGlyphs">OK</text><text x="316.4" y="676.1" textLength="9.36251" lengthAdjust="spacingAndGlyphs">MN</text><text x="325.3" y="715.9" textLength="5.68796" lengthAdjust="spacingAndGlyphs">IA</text><text x="348.3" y="690" textLength="7.35428" lengthAdjust="spacingAndGlyphs">WI</text><text x="388.9" y="703.5" textLength="6.68737" lengthAdjust="spacingAndGlyphs">MI</text><text x="359" y="734.1" textLength="5.02059" lengthAdjust="spacingAndGlyphs">IL</text><text x="381.8" y="734.1" textLength="6.02" lengthAdjust="spacingAndGlyphs">IN</text><text x="405.2" y="728.4" textLength="9.03" lengthAdjust="spacingAndGlyphs">OH</text><text x="335.5" y="754" textLength="9.69737" lengthAdjust="spacingAndGlyphs">MO</text><text x="396" y="756.8" textLength="8.03106" lengthAdjust="spacingAndGlyphs">KY</text><text x="422.3" y="742.6" textLength="9.69737" lengthAdjust="spacingAndGlyphs">WV</text><text x="447.1" y="748.7" textLength="7.58426" lengthAdjust="spacingAndGlyphs">VA</text><text x="444.6" y="715.1" textLength="7.58426" lengthAdjust="spacingAndGlyphs">PA</text><text x="458" y="691.7" textLength="8.3631" lengthAdjust="spacingAndGlyphs">NY</text><text x="465.5" y="715.6" textLength="7.35757" lengthAdjust="spacingAndGlyphs">NJ</text><text x="466.3" y="666.5" textLength="7.6929" lengthAdjust="spacingAndGlyphs">VT</text><text x="475.5" y="674.5" textLength="8.69514" lengthAdjust="spacingAndGlyphs">NH</text><text x="488.4" y="653.7" textLength="9.03047" lengthAdjust="spacingAndGlyphs">ME</text><text x="480.5" y="684.7" textLength="9.03047" lengthAdjust="spacingAndGlyphs">MA</text><text x="475.8" y="694.3" textLength="8.02494" lengthAdjust="spacingAndGlyphs">CT</text><text x="385.3" y="775.3" textLength="8.02494" lengthAdjust="spacingAndGlyphs">TN</text><text x="444.3" y="768.4" textLength="8.69514" lengthAdjust="spacingAndGlyphs">NC</text><text x="335.5" y="787.4" textLength="8.3631" lengthAdjust="spacingAndGlyphs">AR</text><text x="432.2" y="788.8" textLength="8.3631" lengthAdjust="spacingAndGlyphs">SC</text><text x="359.7" y="805.2" textLength="9.03047" lengthAdjust="spacingAndGlyphs">MS</text><text x="384.6" y="805.2" textLength="7.36368" lengthAdjust="spacingAndGlyphs">AL</text><text x="413.7" y="805.2" textLength="8.69796" lengthAdjust="spacingAndGlyphs">GA</text><text x="336.3" y="816.5" textLength="7.36368" lengthAdjust="spacingAndGlyphs">LA</text><text x="438.6" y="853.5" textLength="7.02553" lengthAdjust="spacingAndGlyphs">FL</text><text x="278.8" y="818.7" textLength="7.6929" lengthAdjust="spacingAndGlyphs">TX</text><text x="126.7" y="845.7" textLength="8.03106" lengthAdjust="spacingAndGlyphs">AK</text><text x="222" y="870.5" textLength="6.02" lengthAdjust="spacingAndGlyphs">HI</text><text x="497.5" y="710.7" textLength="6.02" lengthAdjust="spacingAndGlyphs">RI</text><text x="497.5" y="729.1" textLength="8.3631" lengthAdjust="spacingAndGlyphs">DE</text><text x="497.5" y="747.6" textLength="9.36251" lengthAdjust="spacingAndGlyphs">MD</text><text x="497.5" y="765.9" textLength="8.69514" lengthAdjust="spacingAndGlyphs">DC</text></g></svg>
<div style="left:166.4px;top:3278.9px;width:7.3px;height:7.3px;background:#5587f7;"></div>
<span style="left:176.60px;top:3279.00px;font-size:8px;line-height:8px;color:#333;transform:scaleX(0.8765);transform-origin:0 0;">0</span>
<div style="left:189.12px;top:3278.9px;width:7.3px;height:7.3px;background:#4a7ef2;"></div>
<span style="left:199.32px;top:3279.00px;font-size:8px;line-height:8px;color:#333;transform:scaleX(0.8765);transform-origin:0 0;">1</span>
<div style="left:211.84px;top:3278.9px;width:7.3px;height:7.3px;background:#3d72e6;"></div>
<span style="left:222.04px;top:3279.00px;font-size:8px;line-height:8px;color:#333;transform:scaleX(0.8765);transform-origin:0 0;">2</span>
<div style="left:234.56px;top:3278.9px;width:7.3px;height:7.3px;background:#2d62da;"></div>
<span style="left:244.76px;top:3279.00px;font-size:8px;line-height:8px;color:#333;transform:scaleX(0.8765);transform-origin:0 0;">3</span>
<div style="left:257.28px;top:3278.9px;width:7.3px;height:7.3px;background:#1c52cd;"></div>
<span style="left:267.48px;top:3279.00px;font-size:8px;line-height:8px;color:#333;transform:scaleX(0.8765);transform-origin:0 0;">4</span>
<div style="left:280px;top:3278.9px;width:7.3px;height:7.3px;background:#0a40be;"></div>
<span style="left:290.20px;top:3279.00px;font-size:8px;line-height:8px;color:#333;transform:scaleX(0.8765);transform-origin:0 0;">5</span>
<div style="left:302.72px;top:3278.9px;width:7.3px;height:7.3px;background:#0031a5;"></div>
<span style="left:312.92px;top:3279.00px;font-size:8px;line-height:8px;color:#333;transform:scaleX(0.8765);transform-origin:0 0;">6</span>
<div style="left:325.44px;top:3278.9px;width:7.3px;height:7.3px;background:#002580;"></div>
<span style="left:335.64px;top:3279.00px;font-size:8px;line-height:8px;color:#333;transform:scaleX(0.8765);transform-origin:0 0;">7</span>
<div style="left:348.16px;top:3278.9px;width:7.3px;height:7.3px;background:#00195a;"></div>
<span style="left:358.36px;top:3279.00px;font-size:8px;line-height:8px;color:#333;transform:scaleX(0.8765);transform-origin:0 0;">8</span>
<span style="left:369.70px;top:3279.00px;font-size:8px;line-height:8px;color:#333;transform:scaleX(0.9686);transform-origin:0 0;">Wahlen gewonnen</span>
<svg style="left:255px;top:3340px" width="90" height="16" viewBox="255 3340 90 16"><circle cx="264.2" cy="3348" r="4.5" fill="#0f5a9c"/><circle cx="274.6" cy="3348" r="1.9" fill="#e4e4e4"/><circle cx="282.7" cy="3348" r="1.9" fill="#e4e4e4"/><circle cx="290.5" cy="3348" r="1.9" fill="#e4e4e4"/><circle cx="298.4" cy="3348" r="1.9" fill="#e4e4e4"/><circle cx="306.3" cy="3348" r="1.9" fill="#e4e4e4"/><circle cx="314.2" cy="3348" r="1.9" fill="#e4e4e4"/><circle cx="322.1" cy="3348" r="1.9" fill="#e4e4e4"/><circle cx="330" cy="3348" r="1.9" fill="#e4e4e4"/><circle cx="337.9" cy="3348" r="1.9" fill="#e4e4e4"/></svg>
</section>
<footer>
<div style="left:47px;top:3390.3px;width:505.5px;height:1px;background:#ececec;"></div>
<div style="left:47px;top:3410.9px;width:505.5px;height:1px;background:#ececec;"></div>
<div style="left:47px;top:3431.8px;width:505.5px;height:1px;background:#ececec;"></div>
<div style="left:47px;top:3452.4px;width:505.5px;height:1px;background:#ececec;"></div>
<div style="left:47px;top:3473px;width:505.5px;height:1px;background:#ececec;"></div>
<span style="left:57.80px;top:3397.00px;font-size:9.3px;line-height:9.3px;color:#222;font-weight:700;transform:scaleX(0.8158);transform-origin:0 0;">Service</span>
<svg style="left:538px;top:3396.2px" width="12" height="8"><path d="M1.2,1.5L5.8,6L10.4,1.5" stroke="#4a4a4a" stroke-width="1.15" fill="none"/></svg>
<span style="left:57.80px;top:3418.00px;font-size:9.3px;line-height:9.3px;color:#222;font-weight:700;transform:scaleX(0.8636);transform-origin:0 0;">tagesschau.de</span>
<svg style="left:538px;top:3416.8px" width="12" height="8"><path d="M1.2,1.5L5.8,6L10.4,1.5" stroke="#4a4a4a" stroke-width="1.15" fill="none"/></svg>
<span style="left:57.80px;top:3439.00px;font-size:9.3px;line-height:9.3px;color:#222;font-weight:700;transform:scaleX(0.8718);transform-origin:0 0;">ARD Angebote</span>
<svg style="left:538px;top:3438.1px" width="12" height="8"><path d="M1.2,1.5L5.8,6L10.4,1.5" stroke="#4a4a4a" stroke-width="1.15" fill="none"/></svg>
<span style="left:57.80px;top:3460.00px;font-size:9.3px;line-height:9.3px;color:#222;font-weight:700;transform:scaleX(0.8953);transform-origin:0 0;">Rundfunkanstalten</span>
<svg style="left:538px;top:3458.7px" width="12" height="8"><path d="M1.2,1.5L5.8,6L10.4,1.5" stroke="#4a4a4a" stroke-width="1.15" fill="none"/></svg>
<span style="left:58.50px;top:3486.00px;font-size:9.3px;line-height:9.3px;color:#444;transform:scaleX(0.9501);transform-origin:0 0;">Impressum</span>
<span style="left:58.50px;top:3507.00px;font-size:9.3px;line-height:9.3px;color:#444;transform:scaleX(0.9023);transform-origin:0 0;">So erreichen Sie uns</span>
<span style="left:58.50px;top:3529.00px;font-size:9.3px;line-height:9.3px;color:#444;transform:scaleX(0.9628);transform-origin:0 0;">Datenschutzerklärung</span>
<span style="left:58.50px;top:3550.00px;font-size:9.3px;line-height:9.3px;color:#444;transform:scaleX(0.9454);transform-origin:0 0;">Bildrechte</span>
<span style="left:469.00px;top:3624.00px;font-size:7px;line-height:7px;color:#333;transform:scaleX(0.8561);transform-origin:0 0;">Wir sind deins.</span>
<svg style="left:532px;top:3614px" width="22" height="22" viewBox="532 3614 22 22"><circle cx="542.8" cy="3624.9" r="7.9" fill="none" stroke="#2a2a2a" stroke-width="2.1"/><path d="M533.4,3624.6L537.5,3622.8L538.3,3630.2L534.4,3631Z" fill="#fff"/><path d="M535.4,3625.3L545.2,3619.6L544.4,3630.8H541.2L541.8,3624.4L536,3627.6Z" fill="#2a2a2a"/></svg>
<span style="left:509.70px;top:3619.00px;font-size:13.2px;line-height:13.2px;color:#2a2a2a;font-weight:700;transform:scaleX(0.8951);transform-origin:0 0;">ARD</span>
<span style="left:47.50px;top:3646.00px;font-size:6.6px;line-height:6.6px;color:#777;transform:scaleX(0.8891);transform-origin:0 0;">© ARD-aktuell / tagesschau.de</span>
</footer>
</main>
</body></html>
